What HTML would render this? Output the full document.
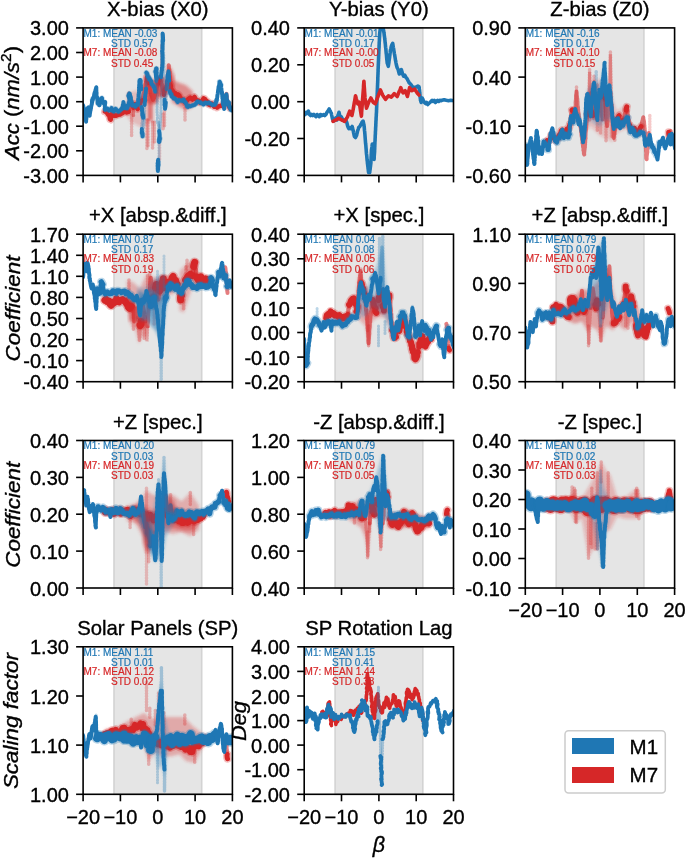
<!DOCTYPE html><html><head><meta charset="utf-8"><style>html,body{margin:0;padding:0;background:#fff;}svg{display:block;will-change:transform;}text{font-family:"Liberation Sans", sans-serif;stroke:currentColor;stroke-width:0.35px;} .an text{stroke-width:0.2px;}</style></head><body>
<svg width="685" height="858" viewBox="0 0 685 858">
<rect width="685" height="858" fill="#fff"/>
<defs><filter id="blur2" x="-20%" y="-20%" width="140%" height="140%"><feGaussianBlur stdDeviation="1.5"/></filter></defs>
<clipPath id="c00"><rect x="83.1" y="27.9" width="149.3" height="147.5"/></clipPath>
<rect x="114.0" y="27.9" width="87.7" height="147.5" fill="#e5e5e5" stroke="#d3d3d3" stroke-width="1.6"/>
<g clip-path="url(#c00)">
<path d="M143.9,76.8 L148.7,78.4 L153.1,80.6 L157.9,76.8 L157.9,102.5 L153.1,104.6 L148.7,103.5 L143.9,102.5Z" fill="#d62728" fill-opacity="0.7" stroke="none" filter="url(#blur2)"/>
<path d="M146.3,102.5 L153.3,102.5 L153.3,125.7 L149.8,120.0 L146.3,125.7Z" fill="#d62728" fill-opacity="0.4" stroke="none" filter="url(#blur2)"/>
<path d="M157.9,76.8 L164.9,76.8 L164.9,96.5 L157.9,96.5Z" fill="#d62728" fill-opacity="0.7" stroke="none" filter="url(#blur2)"/>
<path d="M167.3,65.2 L170.6,67.4 L174.3,76.2 L174.3,90.8 L167.3,90.8Z" fill="#d62728" fill-opacity="0.6" stroke="none" filter="url(#blur2)"/>
<path d="M171.9,79.0 L179.4,82.7 L185.9,84.9 L192.9,91.5 L192.9,106.8 L185.9,110.6 L179.4,106.8 L171.9,102.5Z" fill="#d62728" fill-opacity="0.45" stroke="none" filter="url(#blur2)"/>
<path d="M126.8,93.7 L133.4,91.5 L139.9,89.3 L143.9,82.7 L143.9,128.7 L139.9,126.5 L135.6,124.4 L131.2,122.2 L126.8,115.6Z" fill="#d62728" fill-opacity="0.22" stroke="none" filter="url(#blur2)"/>
<line x1="131.6" y1="115.2" x2="131.6" y2="136.2" stroke="#d62728" stroke-width="3.5" stroke-opacity="0.3" stroke-linecap="round" stroke-dasharray="0.6 2.2"/>
<line x1="146.9" y1="120.0" x2="146.9" y2="150.0" stroke="#d62728" stroke-width="3.5" stroke-opacity="0.3" stroke-linecap="round" stroke-dasharray="0.6 2.2"/>
<line x1="148.0" y1="120.0" x2="148.0" y2="146.2" stroke="#d62728" stroke-width="3.5" stroke-opacity="0.3" stroke-linecap="round" stroke-dasharray="0.6 2.2"/>
<line x1="152.6" y1="122.2" x2="152.6" y2="150.0" stroke="#d62728" stroke-width="3.5" stroke-opacity="0.3" stroke-linecap="round" stroke-dasharray="0.6 2.2"/>
<line x1="154.4" y1="122.2" x2="154.4" y2="141.9" stroke="#d62728" stroke-width="3.5" stroke-opacity="0.3" stroke-linecap="round" stroke-dasharray="0.6 2.2"/>
<line x1="163.1" y1="114.1" x2="163.1" y2="129.2" stroke="#d62728" stroke-width="3.5" stroke-opacity="0.3" stroke-linecap="round" stroke-dasharray="0.6 2.2"/>
<line x1="164.5" y1="111.2" x2="164.5" y2="126.5" stroke="#d62728" stroke-width="3.5" stroke-opacity="0.3" stroke-linecap="round" stroke-dasharray="0.6 2.2"/>
<line x1="185.0" y1="108.1" x2="185.0" y2="120.0" stroke="#d62728" stroke-width="3.5" stroke-opacity="0.3" stroke-linecap="round" stroke-dasharray="0.6 2.2"/>
<line x1="161.8" y1="45.3" x2="161.8" y2="71.1" stroke="#d62728" stroke-width="3.5" stroke-opacity="0.3" stroke-linecap="round" stroke-dasharray="0.6 2.2"/>
<line x1="133.4" y1="103.8" x2="133.4" y2="117.8" stroke="#d62728" stroke-width="3.5" stroke-opacity="0.5" stroke-linecap="round" stroke-dasharray="0.6 2.2"/>
<line x1="159.6" y1="141.9" x2="159.6" y2="159.4" stroke="#d62728" stroke-width="3.5" stroke-opacity="0.2" stroke-linecap="round" stroke-dasharray="0.6 2.2"/>
<path d="M104.8,111.5 L106.1,111.8 L107.1,113.1 L107.9,114.5 L108.9,115.4 L109.3,116.1 L110.0,119.3 L110.1,119.3 L110.7,119.7 L111.0,117.0 L111.5,114.8 L111.7,114.0 L113.4,113.6 L114.6,115.8 L115.6,115.8 L118.1,114.8 L120.3,114.5 L121.0,113.8 L122.5,113.2 L123.4,112.5 L124.6,110.7 L125.9,112.2 L126.6,112.5 L128.8,111.6" fill="none" stroke="#d62728" stroke-width="7.5" stroke-linejoin="round" stroke-linecap="round" stroke-opacity="0.3"/>
<path d="M104.8,111.5 L106.1,111.8 L107.1,113.1 L107.9,114.5 L108.9,115.4 L109.3,116.1 L110.0,119.3 L110.1,119.3 L110.7,119.7 L111.0,117.0 L111.5,114.8 L111.7,114.0 L113.4,113.6 L114.6,115.8 L115.6,115.8 L118.1,114.8 L120.3,114.5 L121.0,113.8 L122.5,113.2 L123.4,112.5 L124.6,110.7 L125.9,112.2 L126.6,112.5 L128.8,111.6" fill="none" stroke="#d62728" stroke-width="4.5" stroke-linejoin="round" stroke-linecap="round" stroke-opacity="1.0"/>
<path d="M128.8,112.1 L129.0,110.1 L129.2,108.7 L129.2,108.2 L129.2,106.6 L129.3,105.5 L129.7,104.1 L129.9,102.6 L130.0,101.6 L130.1,100.2 L130.0,99.5 L129.6,97.8 L129.3,96.6 L129.3,95.6 L129.1,93.4 L129.3,95.1 L129.4,96.2 L129.8,97.0 L130.1,99.0 L130.4,99.6 L130.8,101.6 L131.2,102.5" fill="none" stroke="#d62728" stroke-width="4.0" stroke-linejoin="round" stroke-linecap="round" stroke-opacity="0.6"/>
<path d="M130.9,102.3 L131.8,104.5 L132.5,105.5 L132.7,105.5 L133.3,107.8 L134.8,104.9 L135.3,104.0 L135.9,105.7 L136.7,106.3 L136.8,107.7 L137.7,109.0" fill="none" stroke="#d62728" stroke-width="7.5" stroke-linejoin="round" stroke-linecap="round" stroke-opacity="0.3"/>
<path d="M130.9,102.3 L131.8,104.5 L132.5,105.5 L132.7,105.5 L133.3,107.8 L134.8,104.9 L135.3,104.0 L135.9,105.7 L136.7,106.3 L136.8,107.7 L137.7,109.0" fill="none" stroke="#d62728" stroke-width="4.5" stroke-linejoin="round" stroke-linecap="round" stroke-opacity="1.0"/>
<path d="M137.7,109.1 L138.3,107.9 L138.6,106.5 L139.1,104.5 L139.6,104.1 L139.9,102.5" fill="none" stroke="#d62728" stroke-width="4.0" stroke-linejoin="round" stroke-linecap="round" stroke-opacity="0.6"/>
<path d="M140.2,103.2 L141.0,101.1 L142.1,100.3" fill="none" stroke="#d62728" stroke-width="7.5" stroke-linejoin="round" stroke-linecap="round" stroke-opacity="0.3"/>
<path d="M140.2,103.2 L141.0,101.1 L142.1,100.3" fill="none" stroke="#d62728" stroke-width="4.5" stroke-linejoin="round" stroke-linecap="round" stroke-opacity="1.0"/>
<path d="M142.0,100.4 L142.3,98.4 L142.7,97.2 L143.1,95.8 L143.3,94.6 L143.7,93.5 L143.9,92.9 L144.4,90.8 L144.4,89.8 L144.7,88.2 L145.1,88.0 L145.2,86.2 L145.3,84.5 L145.7,83.3 L146.1,81.9 L146.2,81.5 L146.6,79.3 L146.9,78.4" fill="none" stroke="#d62728" stroke-width="4.0" stroke-linejoin="round" stroke-linecap="round" stroke-opacity="0.6"/>
<path d="M147.0,77.2 L147.5,81.0 L148.4,81.8 L148.7,82.7" fill="none" stroke="#d62728" stroke-width="7.5" stroke-linejoin="round" stroke-linecap="round" stroke-opacity="0.3"/>
<path d="M147.0,77.2 L147.5,81.0 L148.4,81.8 L148.7,82.7" fill="none" stroke="#d62728" stroke-width="4.5" stroke-linejoin="round" stroke-linecap="round" stroke-opacity="1.0"/>
<path d="M148.6,82.6 L148.8,84.3 L149.2,85.5 L149.4,86.1 L149.8,88.2 L150.0,89.2 L150.3,90.3 L150.3,91.3 L150.6,91.9 L150.7,93.4 L151.2,95.2 L151.9,96.3 L152.4,98.2 L152.8,98.8 L153.0,99.9 L153.4,98.6 L154.0,98.1 L154.5,96.3 L154.9,95.4 L155.1,93.9 L155.7,92.8 L155.9,91.2 L156.0,90.4 L156.4,89.2 L156.9,87.5 L157.0,86.9 L157.4,84.8 L157.5,83.5 L157.9,82.7" fill="none" stroke="#d62728" stroke-width="4.0" stroke-linejoin="round" stroke-linecap="round" stroke-opacity="0.6"/>
<path d="M158.2,83.5 L158.2,82.1 L159.4,80.2 L159.6,78.4" fill="none" stroke="#d62728" stroke-width="7.5" stroke-linejoin="round" stroke-linecap="round" stroke-opacity="0.3"/>
<path d="M158.2,83.5 L158.2,82.1 L159.4,80.2 L159.6,78.4" fill="none" stroke="#d62728" stroke-width="4.5" stroke-linejoin="round" stroke-linecap="round" stroke-opacity="1.0"/>
<path d="M159.6,78.4 L159.9,79.1 L160.7,81.2 L161.0,82.8 L161.4,84.1 L161.9,84.6 L162.1,85.9 L162.4,87.5 L162.7,88.6 L163.0,90.4 L163.3,91.1 L163.7,92.9 L164.0,93.7" fill="none" stroke="#d62728" stroke-width="4.0" stroke-linejoin="round" stroke-linecap="round" stroke-opacity="0.6"/>
<path d="M164.0,94.7 L164.4,92.3 L164.8,89.6 L165.1,89.3" fill="none" stroke="#d62728" stroke-width="7.5" stroke-linejoin="round" stroke-linecap="round" stroke-opacity="0.3"/>
<path d="M164.0,94.7 L164.4,92.3 L164.8,89.6 L165.1,89.3" fill="none" stroke="#d62728" stroke-width="4.5" stroke-linejoin="round" stroke-linecap="round" stroke-opacity="1.0"/>
<path d="M165.1,88.9 L165.4,88.4 L165.9,86.7 L166.5,85.4 L166.8,84.1 L167.3,83.1 L167.4,81.5 L167.7,79.8 L168.1,78.8 L168.2,77.8 L168.5,76.1 L168.5,75.0 L168.5,74.0 L168.5,72.6 L168.6,71.8 L168.7,70.5 L168.9,68.6 L168.8,68.2 L168.9,66.0 L168.7,65.2 L168.8,66.2 L168.9,68.1 L169.3,69.6 L169.2,70.7 L169.6,71.4 L169.7,73.7 L169.6,75.0 L169.8,75.7 L170.1,77.5 L169.9,78.3 L170.2,79.5 L170.2,80.8 L170.5,81.7 L170.5,83.5 L170.6,84.9" fill="none" stroke="#d62728" stroke-width="4.0" stroke-linejoin="round" stroke-linecap="round" stroke-opacity="0.6"/>
<path d="M170.2,84.5 L170.9,86.1 L170.8,88.5 L171.6,89.6 L171.4,89.1 L171.6,91.5 L172.8,90.9 L173.9,93.7 L175.2,93.1 L175.8,95.2 L177.2,95.3 L178.0,94.3 L179.5,95.7 L179.9,97.8 L181.2,98.4 L181.7,99.4 L182.5,100.3 L183.7,99.9 L184.9,102.4 L185.8,101.6 L187.0,100.7 L187.8,99.5 L188.9,98.5 L190.2,97.6 L191.6,98.7 L192.5,99.5 L193.5,98.0 L194.5,96.9 L195.9,99.3 L196.6,100.2 L198.3,100.4 L199.3,102.3 L200.1,102.7 L201.2,101.4 L202.1,101.4 L202.6,100.0 L203.6,98.4 L204.5,98.8 L205.3,99.4 L206.4,101.9 L207.6,101.6 L208.6,104.4 L210.3,105.1 L210.9,103.5 L212.0,103.5 L213.0,104.5 L214.2,106.8 L216.2,106.2 L217.1,107.6 L218.6,106.5 L219.5,106.0 L220.9,105.7 L221.8,105.2 L223.1,104.6" fill="none" stroke="#d62728" stroke-width="7.5" stroke-linejoin="round" stroke-linecap="round" stroke-opacity="0.3"/>
<path d="M170.2,84.5 L170.9,86.1 L170.8,88.5 L171.6,89.6 L171.4,89.1 L171.6,91.5 L172.8,90.9 L173.9,93.7 L175.2,93.1 L175.8,95.2 L177.2,95.3 L178.0,94.3 L179.5,95.7 L179.9,97.8 L181.2,98.4 L181.7,99.4 L182.5,100.3 L183.7,99.9 L184.9,102.4 L185.8,101.6 L187.0,100.7 L187.8,99.5 L188.9,98.5 L190.2,97.6 L191.6,98.7 L192.5,99.5 L193.5,98.0 L194.5,96.9 L195.9,99.3 L196.6,100.2 L198.3,100.4 L199.3,102.3 L200.1,102.7 L201.2,101.4 L202.1,101.4 L202.6,100.0 L203.6,98.4 L204.5,98.8 L205.3,99.4 L206.4,101.9 L207.6,101.6 L208.6,104.4 L210.3,105.1 L210.9,103.5 L212.0,103.5 L213.0,104.5 L214.2,106.8 L216.2,106.2 L217.1,107.6 L218.6,106.5 L219.5,106.0 L220.9,105.7 L221.8,105.2 L223.1,104.6" fill="none" stroke="#d62728" stroke-width="4.5" stroke-linejoin="round" stroke-linecap="round" stroke-opacity="1.0"/>
<path d="M223.0,104.4 L223.4,103.3 L223.7,101.6 L224.2,100.7 L224.6,99.8 L225.1,98.7 L225.4,97.8 L225.7,95.9 L226.2,94.5 L226.5,93.9 L226.4,95.3 L226.9,96.3 L227.0,97.8 L226.9,98.7 L227.2,100.4 L227.5,101.6 L227.5,102.5" fill="none" stroke="#d62728" stroke-width="4.0" stroke-linejoin="round" stroke-linecap="round" stroke-opacity="0.6"/>
<path d="M227.6,103.4 L228.2,104.3 L228.4,104.1 L228.9,106.2 L229.7,107.9" fill="none" stroke="#d62728" stroke-width="7.5" stroke-linejoin="round" stroke-linecap="round" stroke-opacity="0.3"/>
<path d="M227.6,103.4 L228.2,104.3 L228.4,104.1 L228.9,106.2 L229.7,107.9" fill="none" stroke="#d62728" stroke-width="4.5" stroke-linejoin="round" stroke-linecap="round" stroke-opacity="1.0"/>
<line x1="159.0" y1="122.2" x2="159.0" y2="168.1" stroke="#1f77b4" stroke-width="3.0" stroke-opacity="0.3" stroke-linecap="round" stroke-dasharray="0.6 2.2"/>
<path d="M82.9,105.0 L83.3,106.0 L83.5,107.4 L83.7,107.8 L84.1,109.9 L84.3,110.9 L84.6,111.6 L84.8,113.1 L84.8,114.4 L85.2,115.6 L85.4,117.7 L85.5,118.3 L85.7,119.9 L86.0,121.0 L86.1,121.7 L86.0,120.6 L86.3,119.5 L86.4,117.9 L86.3,117.0 L86.6,116.3 L86.7,114.6 L86.8,113.6 L86.8,112.0 L87.1,110.9 L87.6,110.3 L87.6,108.2 L88.4,107.4 L88.4,107.8 L88.5,109.9 L88.7,110.7 L88.9,111.9 L89.4,112.6 L89.5,114.4 L89.7,115.8 L89.7,114.8 L90.1,112.4 L90.2,111.6 L90.6,110.1 L90.8,108.8 L91.0,108.2 L91.1,106.8 L91.6,104.8 L91.8,104.3 L92.0,102.5 L92.0,101.4 L92.2,100.3" fill="none" stroke="#1f77b4" stroke-width="4.0" stroke-linejoin="round" stroke-linecap="round" stroke-opacity="1.0"/>
<path d="M92.5,100.4 L92.8,99.0 L93.5,98.1" fill="none" stroke="#1f77b4" stroke-width="5.5" stroke-linejoin="round" stroke-linecap="round" stroke-opacity="0.3"/>
<path d="M92.5,100.4 L92.8,99.0 L93.5,98.1" fill="none" stroke="#1f77b4" stroke-width="4.0" stroke-linejoin="round" stroke-linecap="round" stroke-opacity="1.0"/>
<path d="M93.4,97.5 L93.7,97.2 L94.0,96.0 L94.3,93.9 L94.7,92.4 L95.0,92.1 L95.5,90.4 L95.8,89.1 L96.3,87.2 L96.3,87.8 L96.3,89.6 L96.4,91.1 L96.3,91.6 L96.6,92.9 L96.5,94.4 L96.5,96.2 L97.0,96.9 L97.2,98.3 L97.4,99.7 L97.5,100.7 L97.9,102.5" fill="none" stroke="#1f77b4" stroke-width="4.0" stroke-linejoin="round" stroke-linecap="round" stroke-opacity="1.0"/>
<path d="M97.7,103.3 L98.5,103.0 L99.2,104.6" fill="none" stroke="#1f77b4" stroke-width="5.5" stroke-linejoin="round" stroke-linecap="round" stroke-opacity="0.3"/>
<path d="M97.7,103.3 L98.5,103.0 L99.2,104.6" fill="none" stroke="#1f77b4" stroke-width="4.0" stroke-linejoin="round" stroke-linecap="round" stroke-opacity="1.0"/>
<path d="M99.4,105.2 L99.6,102.7 L100.0,101.2 L100.5,100.3" fill="none" stroke="#1f77b4" stroke-width="4.0" stroke-linejoin="round" stroke-linecap="round" stroke-opacity="1.0"/>
<path d="M100.4,99.4 L101.0,98.7 L101.8,98.1" fill="none" stroke="#1f77b4" stroke-width="5.5" stroke-linejoin="round" stroke-linecap="round" stroke-opacity="0.3"/>
<path d="M100.4,99.4 L101.0,98.7 L101.8,98.1" fill="none" stroke="#1f77b4" stroke-width="4.0" stroke-linejoin="round" stroke-linecap="round" stroke-opacity="1.0"/>
<path d="M101.9,98.5 L102.2,99.4 L102.4,101.0 L102.7,102.5" fill="none" stroke="#1f77b4" stroke-width="4.0" stroke-linejoin="round" stroke-linecap="round" stroke-opacity="1.0"/>
<path d="M102.6,102.1 L103.8,103.1 L104.9,102.5" fill="none" stroke="#1f77b4" stroke-width="5.5" stroke-linejoin="round" stroke-linecap="round" stroke-opacity="0.3"/>
<path d="M102.6,102.1 L103.8,103.1 L104.9,102.5" fill="none" stroke="#1f77b4" stroke-width="4.0" stroke-linejoin="round" stroke-linecap="round" stroke-opacity="1.0"/>
<path d="M105.1,102.0 L104.9,103.9 L105.0,104.7 L104.8,106.1 L104.9,107.6 L104.9,109.0" fill="none" stroke="#1f77b4" stroke-width="4.0" stroke-linejoin="round" stroke-linecap="round" stroke-opacity="1.0"/>
<path d="M105.2,109.7 L107.3,108.5 L109.0,110.5 L110.6,109.5 L111.5,108.0 L112.5,110.8 L113.9,111.5 L115.0,109.6 L115.6,108.8 L117.0,110.7 L118.3,111.7 L119.2,111.2 L120.2,110.2 L121.0,109.6 L122.4,107.9" fill="none" stroke="#1f77b4" stroke-width="5.5" stroke-linejoin="round" stroke-linecap="round" stroke-opacity="0.3"/>
<path d="M105.2,109.7 L107.3,108.5 L109.0,110.5 L110.6,109.5 L111.5,108.0 L112.5,110.8 L113.9,111.5 L115.0,109.6 L115.6,108.8 L117.0,110.7 L118.3,111.7 L119.2,111.2 L120.2,110.2 L121.0,109.6 L122.4,107.9" fill="none" stroke="#1f77b4" stroke-width="4.0" stroke-linejoin="round" stroke-linecap="round" stroke-opacity="1.0"/>
<path d="M122.3,108.4 L122.7,106.3 L122.8,104.9 L123.3,104.1 L123.4,101.9 L123.8,103.9 L124.0,104.9 L124.4,106.0 L124.6,107.9" fill="none" stroke="#1f77b4" stroke-width="4.0" stroke-linejoin="round" stroke-linecap="round" stroke-opacity="1.0"/>
<path d="M124.5,107.8 L127.1,108.2 L127.6,106.8 L127.7,105.2 L128.7,105.1 L128.9,102.6 L130.1,102.5" fill="none" stroke="#1f77b4" stroke-width="5.5" stroke-linejoin="round" stroke-linecap="round" stroke-opacity="0.3"/>
<path d="M124.5,107.8 L127.1,108.2 L127.6,106.8 L127.7,105.2 L128.7,105.1 L128.9,102.6 L130.1,102.5" fill="none" stroke="#1f77b4" stroke-width="4.0" stroke-linejoin="round" stroke-linecap="round" stroke-opacity="1.0"/>
<path d="M130.1,102.7 L129.7,100.8 L129.5,100.3 L129.1,98.0 L128.8,97.1 L128.5,95.9" fill="none" stroke="#1f77b4" stroke-width="4.0" stroke-linejoin="round" stroke-linecap="round" stroke-opacity="1.0"/>
<path d="M128.7,95.3 L129.4,93.7" fill="none" stroke="#1f77b4" stroke-width="5.5" stroke-linejoin="round" stroke-linecap="round" stroke-opacity="0.3"/>
<path d="M128.7,95.3 L129.4,93.7" fill="none" stroke="#1f77b4" stroke-width="4.0" stroke-linejoin="round" stroke-linecap="round" stroke-opacity="1.0"/>
<path d="M129.5,94.0 L129.9,94.8 L130.5,96.4 L130.9,97.7 L130.9,99.7 L131.3,101.2 L131.7,101.6 L131.9,103.2 L132.3,104.6" fill="none" stroke="#1f77b4" stroke-width="4.0" stroke-linejoin="round" stroke-linecap="round" stroke-opacity="1.0"/>
<path d="M132.4,105.5 L133.7,105.0 L135.4,106.7 L136.4,104.3 L137.7,104.6" fill="none" stroke="#1f77b4" stroke-width="5.5" stroke-linejoin="round" stroke-linecap="round" stroke-opacity="0.3"/>
<path d="M132.4,105.5 L133.7,105.0 L135.4,106.7 L136.4,104.3 L137.7,104.6" fill="none" stroke="#1f77b4" stroke-width="4.0" stroke-linejoin="round" stroke-linecap="round" stroke-opacity="1.0"/>
<path d="M137.6,104.5 L138.0,103.9 L138.1,102.8 L138.3,100.8 L138.1,100.3 L138.4,98.0 L138.5,97.2 L138.6,95.9 L138.6,94.3 L138.8,93.5 L139.1,92.0 L139.1,90.9 L139.0,90.5 L139.2,88.8 L139.0,87.6 L139.2,87.0 L139.2,85.1 L139.5,83.5 L139.4,83.2 L139.5,81.6" fill="none" stroke="#1f77b4" stroke-width="4.0" stroke-linejoin="round" stroke-linecap="round" stroke-opacity="1.0"/>
<path d="M139.7,80.7 L140.4,80.6" fill="none" stroke="#1f77b4" stroke-width="5.5" stroke-linejoin="round" stroke-linecap="round" stroke-opacity="0.3"/>
<path d="M139.7,80.7 L140.4,80.6" fill="none" stroke="#1f77b4" stroke-width="4.0" stroke-linejoin="round" stroke-linecap="round" stroke-opacity="1.0"/>
<path d="M140.2,80.0 L140.6,81.5 L140.7,83.5 L140.7,84.0 L141.0,85.7 L140.9,87.1 L141.1,87.8 L141.2,89.3" fill="none" stroke="#1f77b4" stroke-width="4.0" stroke-linejoin="round" stroke-linecap="round" stroke-opacity="1.0"/>
<path d="M141.2,89.3 L141.0,98.1 L141.7,106.8" fill="none" stroke="#1f77b4" stroke-width="3.2" stroke-opacity="0.35" stroke-linecap="round" stroke-dasharray="0.6 2.2"/>
<path d="M141.5,107.1 L142.0,108.2 L142.1,108.8 L142.0,110.6 L142.4,112.4 L142.3,112.8 L142.4,114.3 L142.6,115.6" fill="none" stroke="#1f77b4" stroke-width="4.0" stroke-linejoin="round" stroke-linecap="round" stroke-opacity="1.0"/>
<path d="M142.8,115.0 L143.2,117.6" fill="none" stroke="#1f77b4" stroke-width="5.5" stroke-linejoin="round" stroke-linecap="round" stroke-opacity="0.3"/>
<path d="M142.8,115.0 L143.2,117.6" fill="none" stroke="#1f77b4" stroke-width="4.0" stroke-linejoin="round" stroke-linecap="round" stroke-opacity="1.0"/>
<path d="M143.2,117.6 L142.1,122.2 L141.7,128.7" fill="none" stroke="#1f77b4" stroke-width="3.2" stroke-opacity="0.35" stroke-linecap="round" stroke-dasharray="0.6 2.2"/>
<path d="M141.8,129.0 L141.9,130.5 L142.0,131.4 L142.1,133.1" fill="none" stroke="#1f77b4" stroke-width="4.0" stroke-linejoin="round" stroke-linecap="round" stroke-opacity="1.0"/>
<path d="M142.0,132.8 L142.5,133.8 L142.6,136.2" fill="none" stroke="#1f77b4" stroke-width="5.5" stroke-linejoin="round" stroke-linecap="round" stroke-opacity="0.3"/>
<path d="M142.0,132.8 L142.5,133.8 L142.6,136.2" fill="none" stroke="#1f77b4" stroke-width="4.0" stroke-linejoin="round" stroke-linecap="round" stroke-opacity="1.0"/>
<path d="M142.6,136.2 L143.2,130.9 L144.3,120.0 L144.8,104.6" fill="none" stroke="#1f77b4" stroke-width="3.2" stroke-opacity="0.35" stroke-linecap="round" stroke-dasharray="0.6 2.2"/>
<path d="M144.6,104.9 L144.7,102.9 L144.7,102.3 L144.9,101.6 L145.2,100.4 L145.0,98.1 L145.0,97.3 L145.3,96.1 L145.2,94.8 L145.5,93.9 L145.7,92.8 L145.8,90.6 L146.0,89.5 L146.1,88.4" fill="none" stroke="#1f77b4" stroke-width="4.0" stroke-linejoin="round" stroke-linecap="round" stroke-opacity="1.0"/>
<path d="M146.1,88.4 L146.5,80.6 L146.3,72.9" fill="none" stroke="#1f77b4" stroke-width="3.2" stroke-opacity="0.35" stroke-linecap="round" stroke-dasharray="0.6 2.2"/>
<path d="M146.3,72.6 L147.1,73.4 L147.4,74.6 L147.9,76.9 L148.7,76.9 L149.2,79.3 L149.8,78.9 L150.5,80.9 L151.2,80.9 L151.4,83.4 L152.2,84.7 L152.3,84.6 L153.0,85.5 L154.1,87.5 L154.6,88.2 L155.0,89.9 L155.3,91.5" fill="none" stroke="#1f77b4" stroke-width="5.5" stroke-linejoin="round" stroke-linecap="round" stroke-opacity="0.3"/>
<path d="M146.3,72.6 L147.1,73.4 L147.4,74.6 L147.9,76.9 L148.7,76.9 L149.2,79.3 L149.8,78.9 L150.5,80.9 L151.2,80.9 L151.4,83.4 L152.2,84.7 L152.3,84.6 L153.0,85.5 L154.1,87.5 L154.6,88.2 L155.0,89.9 L155.3,91.5" fill="none" stroke="#1f77b4" stroke-width="4.0" stroke-linejoin="round" stroke-linecap="round" stroke-opacity="1.0"/>
<path d="M155.3,91.5 L156.4,80.6" fill="none" stroke="#1f77b4" stroke-width="3.2" stroke-opacity="0.35" stroke-linecap="round" stroke-dasharray="0.6 2.2"/>
<path d="M156.3,80.9 L156.4,78.8 L156.2,78.2 L156.0,76.6 L155.9,75.2 L155.8,74.4 L155.8,72.7 L155.7,71.8" fill="none" stroke="#1f77b4" stroke-width="4.0" stroke-linejoin="round" stroke-linecap="round" stroke-opacity="1.0"/>
<path d="M155.4,71.5 L156.1,69.6 L156.4,68.7" fill="none" stroke="#1f77b4" stroke-width="5.5" stroke-linejoin="round" stroke-linecap="round" stroke-opacity="0.3"/>
<path d="M155.4,71.5 L156.1,69.6 L156.4,68.7" fill="none" stroke="#1f77b4" stroke-width="4.0" stroke-linejoin="round" stroke-linecap="round" stroke-opacity="1.0"/>
<path d="M156.3,68.4 L156.5,70.0 L156.4,70.7 L156.6,72.4 L156.7,73.1 L156.6,75.0 L156.8,75.7 L156.9,77.7 L157.0,78.4" fill="none" stroke="#1f77b4" stroke-width="4.0" stroke-linejoin="round" stroke-linecap="round" stroke-opacity="1.0"/>
<path d="M157.0,78.4 L157.5,89.3 L157.0,111.2 L157.5,117.8 L157.0,122.2 L158.5,124.4 L159.2,130.9" fill="none" stroke="#1f77b4" stroke-width="3.2" stroke-opacity="0.35" stroke-linecap="round" stroke-dasharray="0.6 2.2"/>
<path d="M159.1,131.0 L159.3,132.3 L159.6,134.4 L159.6,134.9 L159.6,136.3 L159.3,138.4 L159.4,139.6 L159.3,141.0 L159.2,141.9" fill="none" stroke="#1f77b4" stroke-width="4.0" stroke-linejoin="round" stroke-linecap="round" stroke-opacity="1.0"/>
<path d="M159.2,141.2 L159.2,140.3 L159.9,138.6" fill="none" stroke="#1f77b4" stroke-width="5.5" stroke-linejoin="round" stroke-linecap="round" stroke-opacity="0.3"/>
<path d="M159.2,141.2 L159.2,140.3 L159.9,138.6" fill="none" stroke="#1f77b4" stroke-width="4.0" stroke-linejoin="round" stroke-linecap="round" stroke-opacity="1.0"/>
<path d="M159.9,138.6 L160.1,126.5 L161.0,111.2 L161.4,93.7 L161.0,76.8" fill="none" stroke="#1f77b4" stroke-width="3.2" stroke-opacity="0.35" stroke-linecap="round" stroke-dasharray="0.6 2.2"/>
<path d="M161.0,77.3 L161.0,75.8 L161.2,74.4 L161.3,73.0 L161.5,72.5 L161.5,70.8 L161.9,70.2 L161.9,67.7 L162.3,67.3 L162.3,64.7 L162.5,63.8 L162.5,62.9 L162.5,61.1 L162.5,59.9 L162.4,59.4 L162.6,57.3 L162.4,56.3 L162.5,55.0 L162.3,53.5 L162.4,53.0 L162.1,51.3 L162.4,49.3 L162.5,48.2 L162.4,47.5 L162.5,45.9 L162.5,45.0 L162.6,43.8 L162.6,42.3 L162.5,41.3 L162.7,39.5 L162.8,38.9 L162.7,36.9 L162.7,35.6 L162.6,34.7 L162.6,33.4 L162.8,34.2 L162.9,35.5 L163.0,37.6 L163.0,38.0 L163.1,39.7 L163.1,41.1" fill="none" stroke="#1f77b4" stroke-width="4.0" stroke-linejoin="round" stroke-linecap="round" stroke-opacity="1.0"/>
<path d="M163.1,41.1 L163.6,54.3 L164.0,71.8 L164.5,100.3" fill="none" stroke="#1f77b4" stroke-width="3.2" stroke-opacity="0.35" stroke-linecap="round" stroke-dasharray="0.6 2.2"/>
<path d="M164.6,99.8 L164.7,102.1 L164.7,103.1 L164.6,104.6 L164.8,105.8 L165.1,106.1 L165.1,108.3 L165.0,108.8 L165.3,107.3 L165.5,106.1 L165.6,104.7 L165.6,104.3 L165.8,102.5" fill="none" stroke="#1f77b4" stroke-width="4.0" stroke-linejoin="round" stroke-linecap="round" stroke-opacity="1.0"/>
<path d="M165.8,102.5 L166.6,89.3" fill="none" stroke="#1f77b4" stroke-width="3.2" stroke-opacity="0.35" stroke-linecap="round" stroke-dasharray="0.6 2.2"/>
<path d="M166.5,89.0 L166.7,87.8 L166.7,86.3 L166.8,85.9 L167.1,84.5 L167.0,83.1 L167.0,81.5 L167.3,79.9 L167.5,78.9 L167.5,77.9 L167.4,76.8 L167.8,74.7 L168.1,73.3 L168.4,72.3 L168.4,71.2 L168.5,71.7 L168.7,72.8 L168.8,74.2 L168.9,76.3 L169.0,77.1 L169.0,77.5 L169.0,78.9 L169.3,80.6" fill="none" stroke="#1f77b4" stroke-width="4.0" stroke-linejoin="round" stroke-linecap="round" stroke-opacity="1.0"/>
<path d="M169.3,80.6 L169.7,91.5" fill="none" stroke="#1f77b4" stroke-width="3.2" stroke-opacity="0.35" stroke-linecap="round" stroke-dasharray="0.6 2.2"/>
<path d="M169.8,91.4 L170.3,93.6 L170.6,93.5 L171.4,94.3 L171.6,96.3 L172.7,97.1 L173.8,98.5 L175.0,98.6 L176.5,100.1 L177.6,102.0 L179.0,100.0 L180.2,100.5 L182.2,100.7 L183.5,99.6 L184.0,101.5 L185.2,102.1 L186.0,103.4 L186.9,105.1 L187.2,106.5 L187.8,106.9 L189.1,105.8 L190.0,106.3 L191.3,105.9 L193.2,105.2 L194.5,104.9 L195.8,103.8 L197.1,101.8 L197.8,101.5 L198.8,102.1 L200.3,102.3 L201.0,103.1 L202.5,103.5 L203.6,104.5 L204.4,103.3 L205.5,102.6 L206.6,103.5 L207.9,103.1 L209.0,102.5 L210.0,103.4 L211.3,104.1 L212.1,104.9 L213.6,104.6 L214.6,104.8 L214.8,103.8 L215.6,103.9 L216.2,101.3 L216.6,100.3" fill="none" stroke="#1f77b4" stroke-width="5.5" stroke-linejoin="round" stroke-linecap="round" stroke-opacity="0.3"/>
<path d="M169.8,91.4 L170.3,93.6 L170.6,93.5 L171.4,94.3 L171.6,96.3 L172.7,97.1 L173.8,98.5 L175.0,98.6 L176.5,100.1 L177.6,102.0 L179.0,100.0 L180.2,100.5 L182.2,100.7 L183.5,99.6 L184.0,101.5 L185.2,102.1 L186.0,103.4 L186.9,105.1 L187.2,106.5 L187.8,106.9 L189.1,105.8 L190.0,106.3 L191.3,105.9 L193.2,105.2 L194.5,104.9 L195.8,103.8 L197.1,101.8 L197.8,101.5 L198.8,102.1 L200.3,102.3 L201.0,103.1 L202.5,103.5 L203.6,104.5 L204.4,103.3 L205.5,102.6 L206.6,103.5 L207.9,103.1 L209.0,102.5 L210.0,103.4 L211.3,104.1 L212.1,104.9 L213.6,104.6 L214.6,104.8 L214.8,103.8 L215.6,103.9 L216.2,101.3 L216.6,100.3" fill="none" stroke="#1f77b4" stroke-width="4.0" stroke-linejoin="round" stroke-linecap="round" stroke-opacity="1.0"/>
<path d="M216.7,100.1 L216.7,99.4 L217.1,97.9 L217.3,96.9 L217.4,95.4 L217.7,94.1 L217.9,92.6 L218.1,90.8 L218.2,89.9 L218.4,88.9 L218.6,86.6 L219.0,86.2 L219.4,83.8 L219.9,82.7" fill="none" stroke="#1f77b4" stroke-width="4.0" stroke-linejoin="round" stroke-linecap="round" stroke-opacity="1.0"/>
<path d="M219.6,81.8 L220.5,84.1 L221.0,84.9" fill="none" stroke="#1f77b4" stroke-width="5.5" stroke-linejoin="round" stroke-linecap="round" stroke-opacity="0.3"/>
<path d="M219.6,81.8 L220.5,84.1 L221.0,84.9" fill="none" stroke="#1f77b4" stroke-width="4.0" stroke-linejoin="round" stroke-linecap="round" stroke-opacity="1.0"/>
<path d="M221.0,85.2 L221.0,86.3 L221.2,87.8 L221.5,89.2 L221.4,90.4 L221.9,91.7 L221.8,92.1 L221.9,93.1 L222.3,95.3 L222.3,96.5 L222.5,97.1 L222.4,98.1 L222.8,99.4 L222.7,100.9 L222.7,101.9 L222.9,103.7 L223.1,104.4 L223.7,106.1 L224.0,107.7 L224.1,108.9 L224.3,108.1 L224.4,106.8 L224.6,105.0 L224.9,103.7 L225.0,102.5 L224.8,101.4 L225.2,101.1 L225.0,99.3 L225.3,98.4 L225.6,96.6 L226.0,95.6 L226.3,94.2 L226.5,94.6 L226.7,96.1 L226.7,97.5 L226.8,98.9 L227.1,100.1 L227.2,100.8 L227.2,102.1 L227.5,102.9 L227.5,104.6" fill="none" stroke="#1f77b4" stroke-width="4.0" stroke-linejoin="round" stroke-linecap="round" stroke-opacity="1.0"/>
<path d="M227.8,103.7 L227.9,103.1 L228.6,102.5" fill="none" stroke="#1f77b4" stroke-width="5.5" stroke-linejoin="round" stroke-linecap="round" stroke-opacity="0.3"/>
<path d="M227.8,103.7 L227.9,103.1 L228.6,102.5" fill="none" stroke="#1f77b4" stroke-width="4.0" stroke-linejoin="round" stroke-linecap="round" stroke-opacity="1.0"/>
<path d="M228.8,102.5 L228.9,104.4 L229.3,105.3 L229.7,106.8" fill="none" stroke="#1f77b4" stroke-width="4.0" stroke-linejoin="round" stroke-linecap="round" stroke-opacity="1.0"/>
<path d="M229.7,107.3 L230.4,108.8 L230.7,109.8 L231.7,110.3 L233.0,109.0" fill="none" stroke="#1f77b4" stroke-width="5.5" stroke-linejoin="round" stroke-linecap="round" stroke-opacity="0.3"/>
<path d="M229.7,107.3 L230.4,108.8 L230.7,109.8 L231.7,110.3 L233.0,109.0" fill="none" stroke="#1f77b4" stroke-width="4.0" stroke-linejoin="round" stroke-linecap="round" stroke-opacity="1.0"/>
<path d="M158.2,159.7 L157.9,160.7 L158.0,162.2 L157.6,163.4 L157.8,164.5 L157.6,165.9 L157.8,167.9 L157.7,168.4 L157.8,169.9 L157.9,171.0 L157.9,169.8 L158.2,169.2 L158.0,168.3 L158.1,166.4 L158.5,165.6 L158.5,164.0 L158.4,163.0 L158.5,161.6" fill="none" stroke="#1f77b4" stroke-width="4.0" stroke-linejoin="round" stroke-linecap="round" stroke-opacity="1.0"/>
<path d="M157.0,80.6 L160.1,79.5 L160.1,98.1 L157.0,98.1Z" fill="#d62728" fill-opacity="0.5" stroke="none" filter="url(#blur2)"/>
<path d="M148.7,93.7 L151.8,93.7 L151.8,120.0 L148.7,120.0Z" fill="#d62728" fill-opacity="0.4" stroke="none" filter="url(#blur2)"/>
<path d="M164.0,82.7 L166.6,80.6 L166.6,93.7 L164.0,93.7Z" fill="#d62728" fill-opacity="0.4" stroke="none" filter="url(#blur2)"/>
</g>
<g class="an" font-size="10" fill="#1f77b4" color="#1f77b4"><text x="83.5" y="36.6">M1: MEAN -0.03</text><text x="111.0" y="47.1">STD 0.57</text></g>
<g class="an" font-size="10" fill="#d62728" color="#d62728"><text x="83.5" y="56.0">M7: MEAN -0.08</text><text x="111.0" y="66.5">STD 0.45</text></g>
<rect x="83.1" y="27.9" width="149.3" height="147.5" fill="none" stroke="#000" stroke-width="1.6"/>
<line x1="76.1" y1="27.9" x2="83.1" y2="27.9" stroke="#000" stroke-width="1.6"/>
<text x="68.9" y="35.4" font-size="20" text-anchor="end">3.00</text>
<line x1="76.1" y1="52.5" x2="83.1" y2="52.5" stroke="#000" stroke-width="1.6"/>
<text x="68.9" y="60.0" font-size="20" text-anchor="end">2.00</text>
<line x1="76.1" y1="77.1" x2="83.1" y2="77.1" stroke="#000" stroke-width="1.6"/>
<text x="68.9" y="84.6" font-size="20" text-anchor="end">1.00</text>
<line x1="76.1" y1="101.7" x2="83.1" y2="101.7" stroke="#000" stroke-width="1.6"/>
<text x="68.9" y="109.2" font-size="20" text-anchor="end">0.00</text>
<line x1="76.1" y1="126.2" x2="83.1" y2="126.2" stroke="#000" stroke-width="1.6"/>
<text x="68.9" y="133.7" font-size="20" text-anchor="end">-1.00</text>
<line x1="76.1" y1="150.8" x2="83.1" y2="150.8" stroke="#000" stroke-width="1.6"/>
<text x="68.9" y="158.3" font-size="20" text-anchor="end">-2.00</text>
<line x1="76.1" y1="175.4" x2="83.1" y2="175.4" stroke="#000" stroke-width="1.6"/>
<text x="68.9" y="182.9" font-size="20" text-anchor="end">-3.00</text>
<line x1="83.1" y1="175.4" x2="83.1" y2="182.4" stroke="#000" stroke-width="1.6"/>
<line x1="120.4" y1="175.4" x2="120.4" y2="182.4" stroke="#000" stroke-width="1.6"/>
<line x1="157.8" y1="175.4" x2="157.8" y2="182.4" stroke="#000" stroke-width="1.6"/>
<line x1="195.1" y1="175.4" x2="195.1" y2="182.4" stroke="#000" stroke-width="1.6"/>
<line x1="232.4" y1="175.4" x2="232.4" y2="182.4" stroke="#000" stroke-width="1.6"/>
<text x="157.8" y="16.0" font-size="20.3" text-anchor="middle">X-bias (X0)</text>
<clipPath id="c01"><rect x="304.2" y="27.9" width="149.3" height="147.5"/></clipPath>
<rect x="335.1" y="27.9" width="87.7" height="147.5" fill="#e5e5e5" stroke="#d3d3d3" stroke-width="1.6"/>
<g clip-path="url(#c01)">
<path d="M304.0,113.4 L305.1,114.5 L305.6,113.4 L306.2,112.3 L307.3,113.4 L307.8,112.3 L308.4,111.2 L308.9,112.9 L309.5,114.5 L310.6,115.6 L311.7,114.5 L312.8,115.6 L313.9,114.5 L314.9,115.6 L316.0,116.7 L316.6,115.6 L317.1,114.5 L318.2,115.6 L319.3,116.7 L319.9,115.6 L320.4,114.5 L321.5,115.6 L322.6,115.2 L323.7,114.5 L324.8,115.6 L325.9,114.5 L326.4,113.4 L327.0,112.3 L328.1,110.8 L329.2,109.0 L329.7,110.1 L330.3,111.2 L330.8,112.3 L331.4,113.4 L331.6,114.8 L331.9,116.1 L332.2,117.5 L332.5,118.9 L333.0,120.0 L333.6,121.1 L334.7,120.0 L335.2,118.9 L335.8,117.8 L336.3,118.9 L336.8,120.0 L337.2,118.5 L337.6,117.1 L337.9,115.6 L338.5,113.9 L339.0,112.3 L339.3,113.7 L339.6,115.0 L339.9,116.4 L340.1,117.8 L341.2,116.7 L341.8,117.8 L342.3,118.9 L343.4,120.0 L344.5,121.1 L345.6,120.0 L346.2,121.1 L346.7,122.2 L347.1,123.6 L347.4,125.1 L347.8,126.5 L348.3,127.6 L348.9,128.7 L350.0,127.6 L351.1,128.7 L351.6,127.6 L352.2,126.5 L352.5,128.0 L352.9,129.5 L353.3,130.9 L353.5,132.3 L353.8,133.7 L354.1,135.0 L354.4,136.4 L355.5,137.5 L356.0,136.4 L356.6,135.3 L356.9,133.8 L357.3,132.4 L357.6,130.9 L358.2,129.3 L358.7,127.6 L359.8,126.5 L360.4,125.4 L360.9,124.4 L361.5,123.3 L362.0,122.2 L363.1,121.1 L363.4,122.4 L363.7,123.8 L363.9,125.2 L364.2,126.5 L364.3,127.9 L364.4,129.2 L364.5,130.5 L364.7,131.8 L364.8,133.1 L364.9,134.4 L365.0,135.7 L365.1,137.1 L365.2,138.4 L365.3,139.7 L365.4,141.0 L365.5,142.3 L365.6,143.6 L365.8,144.9 L365.9,146.2 L366.0,147.6 L366.1,148.9 L366.2,150.2 L366.3,151.5 L366.4,152.8 L366.5,154.0 L366.7,155.3 L366.8,156.5 L366.9,157.7 L367.0,158.9 L367.1,160.1 L367.3,161.3 L367.4,162.5 L367.5,163.8 L367.7,165.0 L367.8,166.3 L368.0,167.5 L368.1,168.8 L368.3,170.0 L368.4,171.3 L368.6,172.5 L369.7,172.5 L369.8,171.3 L370.0,170.0 L370.2,168.8 L370.3,167.5 L370.5,166.3 L370.6,165.0 L370.8,163.8 L370.9,162.5 L370.9,161.1 L371.0,159.8 L371.1,158.5 L371.1,157.2 L371.2,155.9 L371.2,154.6 L371.3,153.3 L371.4,151.9 L371.4,150.6 L371.6,149.3 L371.8,148.0 L372.0,146.7 L372.1,145.4 L372.3,144.1 L372.5,145.4 L372.8,146.7 L373.0,148.0 L373.2,149.3 L373.4,150.6 L373.5,151.9 L373.6,153.1 L373.7,154.4 L373.8,155.6 L373.9,156.9 L374.0,158.1 L374.1,159.4 L374.2,158.1 L374.2,156.8 L374.3,155.4 L374.4,154.1 L374.5,152.8 L374.6,151.5 L374.6,150.3 L374.7,149.0 L374.7,147.7 L374.8,146.4 L374.8,145.2 L374.9,143.9 L374.9,142.6 L375.0,141.3 L375.1,140.0 L375.1,138.8 L375.2,137.5 L375.2,136.2 L375.3,134.9 L375.4,133.5 L375.4,132.2 L375.5,130.9 L375.6,129.6 L375.6,128.3 L375.7,127.0 L375.8,125.7 L375.8,124.4 L375.9,123.1 L375.9,121.8 L376.0,120.6 L376.1,119.3 L376.1,118.1 L376.2,116.8 L376.3,115.6 L376.3,114.3 L376.4,113.1 L376.5,111.8 L376.5,110.6 L376.6,109.3 L376.6,108.1 L376.7,106.8 L376.7,105.6 L376.8,104.4 L376.8,103.2 L376.9,102.0 L376.9,100.7 L377.0,99.5 L377.0,98.3 L377.1,97.1 L377.1,95.9 L377.2,94.7 L377.2,93.5 L377.3,92.2 L377.3,91.0 L377.4,89.8 L377.4,88.6 L377.5,87.4 L377.5,86.2 L377.6,84.9 L377.6,83.7 L377.7,82.5 L377.7,81.3 L377.8,80.1 L377.8,78.9 L377.8,77.7 L377.9,76.5 L377.9,75.3 L378.0,74.1 L378.0,72.9 L378.1,71.7 L378.1,70.5 L378.1,69.3 L378.2,68.1 L378.2,66.9 L378.3,65.7 L378.3,64.5 L378.4,63.3 L378.4,62.1 L378.5,60.8 L378.5,59.6 L378.6,58.3 L378.6,57.0 L378.7,55.7 L378.7,54.5 L378.8,53.2 L378.8,51.9 L378.9,50.6 L378.9,49.4 L379.0,48.1 L379.1,46.8 L379.1,45.5 L379.2,44.2 L379.2,42.9 L379.3,41.6 L379.4,40.3 L379.4,38.9 L379.5,37.6 L379.6,36.3 L379.6,35.0 L379.7,33.7 L379.8,32.4 L380.0,31.0 L380.2,29.6 L380.4,28.3 L380.6,26.9 L381.7,26.9 L382.8,26.9 L383.1,28.3 L383.4,29.6 L383.7,31.0 L383.9,32.4 L384.1,33.6 L384.2,34.9 L384.4,36.1 L384.6,37.4 L384.7,38.6 L384.9,39.9 L385.0,41.1 L385.1,42.4 L385.3,43.6 L385.4,44.8 L385.5,46.0 L385.6,47.2 L385.8,48.4 L385.9,49.7 L386.0,50.9 L386.1,52.1 L386.2,53.3 L386.4,54.5 L386.5,55.7 L386.6,57.0 L386.7,58.2 L386.8,59.4 L387.0,60.6 L387.1,61.8 L387.2,63.0 L387.8,64.7 L388.3,66.3 L388.5,65.0 L388.7,63.8 L388.9,62.5 L389.0,61.2 L389.2,59.9 L389.4,58.7 L389.6,57.4 L389.7,56.2 L389.9,54.9 L390.0,53.7 L390.2,52.4 L390.3,51.1 L390.5,49.9 L390.9,48.4 L391.2,47.0 L391.6,45.5 L392.1,44.4 L392.7,43.3 L392.9,44.6 L393.1,46.0 L393.3,47.3 L393.6,48.6 L393.8,49.9 L394.0,51.2 L394.2,52.5 L394.4,53.8 L394.7,55.2 L394.9,56.5 L395.1,57.8 L395.3,59.1 L395.5,60.4 L395.8,61.7 L396.0,63.0 L396.3,64.5 L396.7,66.0 L397.1,67.4 L397.6,68.5 L398.2,69.6 L398.5,71.1 L398.9,72.5 L399.3,74.0 L399.8,72.9 L400.4,71.8 L400.9,70.7 L401.4,69.6 L401.8,71.1 L402.2,72.5 L402.5,74.0 L403.1,75.1 L403.6,76.2 L404.7,75.1 L405.3,76.2 L405.8,77.3 L406.9,78.4 L407.5,79.5 L408.0,80.6 L408.6,81.6 L409.1,82.7 L410.2,83.8 L411.3,84.9 L411.8,86.0 L412.4,87.1 L413.5,87.1 L414.6,87.6 L415.7,87.1 L416.8,86.7 L417.9,86.0 L419.0,86.7 L419.1,87.9 L419.3,89.1 L419.5,90.3 L419.6,91.5 L419.7,92.8 L419.9,94.0 L420.0,95.3 L420.1,96.5 L420.2,97.8 L420.4,99.0 L420.5,100.3 L421.2,102.5 L421.5,101.0 L421.9,99.5 L422.2,98.1 L422.8,99.2 L423.3,100.3 L423.9,101.4 L424.4,102.5 L425.5,103.5 L426.6,102.5 L427.2,103.5 L427.7,104.6 L428.8,103.5 L429.9,102.5 L431.0,101.4 L432.1,100.3 L433.2,101.4 L434.3,100.3 L434.8,101.4 L435.4,102.5 L436.5,101.4 L437.6,100.3 L438.7,101.4 L439.8,100.3 L440.9,100.7 L442.0,100.3 L444.1,99.8 L446.3,100.3 L448.5,100.7 L450.7,100.3 L452.4,100.5 L454.0,100.7" fill="none" stroke="#1f77b4" stroke-width="3.6" stroke-linejoin="round" stroke-linecap="round" stroke-opacity="1.0"/>
<path d="M332.9,121.3 L334.3,120.6 L335.8,120.0 L337.3,119.2 L338.8,118.4 L340.2,119.2 L341.7,120.0 L343.1,120.6 L344.6,121.3 L345.3,120.2 L346.1,119.1 L346.8,118.0 L347.5,116.9 L347.9,115.7 L348.4,114.6 L348.8,113.4 L349.3,112.3 L349.7,111.1 L350.3,112.2 L350.8,113.3 L351.4,114.4 L351.9,115.5 L352.2,114.3 L352.4,113.1 L352.7,111.8 L352.9,110.6 L353.2,109.4 L353.4,108.1 L353.6,106.9 L353.8,105.7 L354.0,104.4 L354.2,103.2 L354.5,102.0 L354.7,100.7 L354.9,99.5 L355.1,98.3 L355.3,97.0 L355.5,95.8 L355.9,97.1 L356.2,98.5 L356.6,99.8 L357.0,101.1 L357.3,102.4 L357.7,103.8 L359.2,102.2 L359.4,103.5 L359.6,104.8 L359.8,106.1 L360.0,107.3 L360.2,108.6 L360.4,109.9 L360.6,111.2 L360.8,112.4 L361.0,113.7 L361.2,115.0 L361.4,116.2 L361.5,115.0 L361.6,113.8 L361.6,112.6 L361.7,111.3 L361.8,110.1 L361.9,108.9 L362.0,107.6 L362.1,106.4 L362.2,105.2 L362.3,103.9 L362.4,102.7 L362.5,101.5 L362.5,100.2 L362.6,99.0 L362.7,97.8 L362.8,96.5 L362.9,95.3 L363.0,94.0 L363.1,92.7 L363.2,91.4 L363.3,90.2 L363.4,88.9 L363.5,87.6 L363.5,86.3 L363.6,85.0 L363.7,83.8 L363.8,82.5 L363.9,81.2 L364.0,82.4 L364.1,83.6 L364.1,84.8 L364.2,86.0 L364.3,87.2 L364.4,88.4 L364.5,89.6 L364.5,90.8 L364.6,92.0 L364.7,93.2 L364.8,94.4 L364.9,95.6 L364.9,96.8 L365.0,98.0 L365.2,99.3 L365.4,100.5 L365.6,101.8 L365.8,103.1 L365.9,104.3 L366.1,105.6 L366.3,106.9 L366.5,108.1 L366.9,107.0 L367.4,105.8 L367.8,104.6 L368.3,103.4 L368.7,102.2 L369.4,100.8 L370.2,99.4 L370.9,98.0 L371.6,99.4 L372.4,100.8 L373.1,102.2 L374.2,103.0 L375.3,103.8 L375.7,102.6 L376.2,101.5 L376.6,100.3 L377.0,99.2 L377.4,98.0 L377.9,96.8 L378.3,95.7 L378.7,94.5 L379.1,93.4 L379.6,92.2 L380.0,91.1 L380.4,89.9 L381.0,91.2 L381.5,92.5 L382.1,93.7 L382.6,95.0 L383.3,96.1 L384.1,97.2 L384.8,98.3 L385.5,99.4 L386.5,98.2 L387.4,97.0 L388.4,95.8 L389.9,96.5 L391.3,97.2 L392.3,96.0 L393.2,94.8 L394.2,93.6 L395.2,94.6 L396.2,95.5 L397.2,96.5 L397.7,95.2 L398.2,94.0 L398.7,92.7 L399.2,91.5 L399.8,90.2 L400.3,89.0 L400.8,87.7 L401.3,89.0 L401.9,90.3 L402.4,91.5 L403.0,92.8 L404.1,91.8 L405.2,90.7 L405.6,91.9 L406.1,93.0 L406.5,94.2 L407.0,95.3 L407.4,96.5 L407.7,95.2 L408.0,94.0 L408.3,92.7 L408.7,91.5 L409.0,90.2 L409.3,89.0 L409.6,87.7 L410.3,88.7 L411.1,89.7 L411.8,90.7 L413.3,89.9 L414.7,89.2 L415.4,90.3 L416.2,91.4 L416.9,92.5 L417.6,93.6 L419.0,95.0" fill="none" stroke="#d62728" stroke-width="3.6" stroke-linejoin="round" stroke-linecap="round" stroke-opacity="1.0"/>
</g>
<g class="an" font-size="10" fill="#1f77b4" color="#1f77b4"><text x="304.6" y="36.6">M1: MEAN -0.01</text><text x="332.1" y="47.1">STD 0.17</text></g>
<g class="an" font-size="10" fill="#d62728" color="#d62728"><text x="304.6" y="56.0">M7: MEAN -0.00</text><text x="332.1" y="66.5">STD 0.05</text></g>
<rect x="304.2" y="27.9" width="149.3" height="147.5" fill="none" stroke="#000" stroke-width="1.6"/>
<line x1="297.2" y1="27.9" x2="304.2" y2="27.9" stroke="#000" stroke-width="1.6"/>
<text x="290.0" y="35.4" font-size="20" text-anchor="end">0.40</text>
<line x1="297.2" y1="64.8" x2="304.2" y2="64.8" stroke="#000" stroke-width="1.6"/>
<text x="290.0" y="72.3" font-size="20" text-anchor="end">0.20</text>
<line x1="297.2" y1="101.7" x2="304.2" y2="101.7" stroke="#000" stroke-width="1.6"/>
<text x="290.0" y="109.2" font-size="20" text-anchor="end">0.00</text>
<line x1="297.2" y1="138.5" x2="304.2" y2="138.5" stroke="#000" stroke-width="1.6"/>
<text x="290.0" y="146.0" font-size="20" text-anchor="end">-0.20</text>
<line x1="297.2" y1="175.4" x2="304.2" y2="175.4" stroke="#000" stroke-width="1.6"/>
<text x="290.0" y="182.9" font-size="20" text-anchor="end">-0.40</text>
<line x1="304.2" y1="175.4" x2="304.2" y2="182.4" stroke="#000" stroke-width="1.6"/>
<line x1="341.5" y1="175.4" x2="341.5" y2="182.4" stroke="#000" stroke-width="1.6"/>
<line x1="378.9" y1="175.4" x2="378.9" y2="182.4" stroke="#000" stroke-width="1.6"/>
<line x1="416.2" y1="175.4" x2="416.2" y2="182.4" stroke="#000" stroke-width="1.6"/>
<line x1="453.5" y1="175.4" x2="453.5" y2="182.4" stroke="#000" stroke-width="1.6"/>
<text x="378.9" y="16.0" font-size="20.3" text-anchor="middle">Y-bias (Y0)</text>
<clipPath id="c02"><rect x="525.3" y="27.9" width="149.3" height="147.5"/></clipPath>
<rect x="556.2" y="27.9" width="87.7" height="147.5" fill="#e5e5e5" stroke="#d3d3d3" stroke-width="1.6"/>
<g clip-path="url(#c02)">
<path d="M586.3,93.7 L590.7,84.9 L595.1,80.6 L599.5,78.4 L603.8,89.3 L608.2,84.9 L612.6,100.3 L617.0,111.2 L625.7,104.6 L630.1,120.0 L630.1,130.9 L625.7,128.7 L617.0,133.1 L612.6,141.9 L608.2,139.7 L603.8,137.5 L599.5,135.3 L595.1,130.9 L590.7,126.5 L586.3,130.9Z" fill="#d62728" fill-opacity="0.2" stroke="none" filter="url(#blur2)"/>
<line x1="576.5" y1="87.1" x2="576.5" y2="122.2" stroke="#d62728" stroke-width="3.5" stroke-opacity="0.3" stroke-linecap="round" stroke-dasharray="0.6 2.2"/>
<line x1="589.6" y1="69.6" x2="589.6" y2="120.0" stroke="#d62728" stroke-width="3.5" stroke-opacity="0.3" stroke-linecap="round" stroke-dasharray="0.6 2.2"/>
<line x1="594.0" y1="76.2" x2="594.0" y2="120.0" stroke="#d62728" stroke-width="3.5" stroke-opacity="0.3" stroke-linecap="round" stroke-dasharray="0.6 2.2"/>
<line x1="597.3" y1="84.9" x2="597.3" y2="130.9" stroke="#d62728" stroke-width="3.5" stroke-opacity="0.3" stroke-linecap="round" stroke-dasharray="0.6 2.2"/>
<line x1="600.5" y1="93.7" x2="600.5" y2="133.1" stroke="#d62728" stroke-width="3.5" stroke-opacity="0.25" stroke-linecap="round" stroke-dasharray="0.6 2.2"/>
<line x1="606.0" y1="98.1" x2="606.0" y2="141.9" stroke="#d62728" stroke-width="3.5" stroke-opacity="0.3" stroke-linecap="round" stroke-dasharray="0.6 2.2"/>
<line x1="610.4" y1="52.1" x2="610.4" y2="84.9" stroke="#d62728" stroke-width="3.5" stroke-opacity="0.3" stroke-linecap="round" stroke-dasharray="0.6 2.2"/>
<line x1="611.5" y1="93.7" x2="611.5" y2="137.5" stroke="#d62728" stroke-width="3.5" stroke-opacity="0.25" stroke-linecap="round" stroke-dasharray="0.6 2.2"/>
<line x1="614.8" y1="120.0" x2="614.8" y2="141.9" stroke="#d62728" stroke-width="3.5" stroke-opacity="0.3" stroke-linecap="round" stroke-dasharray="0.6 2.2"/>
<line x1="649.8" y1="115.6" x2="649.8" y2="137.5" stroke="#d62728" stroke-width="3.5" stroke-opacity="0.25" stroke-linecap="round" stroke-dasharray="0.6 2.2"/>
<path d="M547.1,140.7 L547.7,141.1 L548.9,140.9 L549.9,139.7 L550.1,138.5 L550.8,137.4 L551.1,135.4 L552.3,136.1 L553.4,137.2 L554.2,137.5 L555.5,140.3 L556.9,139.3 L558.0,138.4 L558.6,136.1 L560.1,134.0 L560.9,134.9 L561.0,131.7 L561.3,130.6 L562.0,130.2 L563.0,132.0 L564.7,133.7 L565.6,133.3 L566.6,129.5 L567.3,128.7 L568.7,129.2 L569.5,126.2 L569.5,126.2 L569.9,124.4" fill="none" stroke="#d62728" stroke-width="8.0" stroke-linejoin="round" stroke-linecap="round" stroke-opacity="0.3"/>
<path d="M547.1,140.7 L547.7,141.1 L548.9,140.9 L549.9,139.7 L550.1,138.5 L550.8,137.4 L551.1,135.4 L552.3,136.1 L553.4,137.2 L554.2,137.5 L555.5,140.3 L556.9,139.3 L558.0,138.4 L558.6,136.1 L560.1,134.0 L560.9,134.9 L561.0,131.7 L561.3,130.6 L562.0,130.2 L563.0,132.0 L564.7,133.7 L565.6,133.3 L566.6,129.5 L567.3,128.7 L568.7,129.2 L569.5,126.2 L569.5,126.2 L569.9,124.4" fill="none" stroke="#d62728" stroke-width="5.0" stroke-linejoin="round" stroke-linecap="round" stroke-opacity="1.0"/>
<path d="M569.9,124.1 L569.9,123.5 L570.3,121.5 L570.3,120.6 L570.5,119.5 L570.5,117.9 L570.9,116.9 L570.8,115.9 L571.3,113.8 L571.5,113.0 L571.5,112.1 L572.0,110.9 L572.1,109.0" fill="none" stroke="#d62728" stroke-width="4.0" stroke-linejoin="round" stroke-linecap="round" stroke-opacity="0.6"/>
<path d="M572.0,110.3 L572.7,110.0 L572.8,110.1 L573.5,111.3 L574.2,114.4 L574.3,115.6" fill="none" stroke="#d62728" stroke-width="8.0" stroke-linejoin="round" stroke-linecap="round" stroke-opacity="0.3"/>
<path d="M572.0,110.3 L572.7,110.0 L572.8,110.1 L573.5,111.3 L574.2,114.4 L574.3,115.6" fill="none" stroke="#d62728" stroke-width="5.0" stroke-linejoin="round" stroke-linecap="round" stroke-opacity="1.0"/>
<path d="M574.2,115.7 L574.5,114.1 L574.6,113.5 L575.1,112.0 L575.3,109.8 L575.4,109.6 L575.5,108.1 L575.6,107.1 L575.6,105.4 L575.7,104.3 L575.6,102.6 L575.7,101.9 L575.8,100.6 L576.1,98.5 L576.0,98.0 L576.0,96.7 L576.1,94.8 L576.4,93.7 L576.5,92.9 L576.5,91.6 L576.6,92.2 L576.7,93.9 L576.8,96.0 L577.0,96.7 L577.1,98.1 L577.3,99.0 L577.3,100.3 L577.5,102.2 L577.5,103.9 L577.5,104.5 L577.6,105.7 L578.0,107.4 L577.8,108.1 L578.2,109.5 L578.1,110.3 L578.2,111.7 L578.6,113.4 L578.7,114.8 L578.6,115.8 L578.9,116.5 L579.2,117.9 L579.1,119.0 L579.4,121.3 L579.7,122.3 L579.8,123.7 L580.0,125.3 L580.3,126.7 L580.5,127.1 L580.8,128.3 L581.0,130.6 L581.1,130.8 L581.2,132.5 L581.6,133.3 L581.5,134.9 L581.6,135.8 L582.0,137.8 L582.1,139.1 L582.3,139.7 L582.5,141.8 L582.4,143.0 L582.6,143.3 L582.9,144.5 L583.0,146.8 L583.3,147.3 L583.5,148.3 L583.4,150.5 L583.8,150.7 L583.9,152.9 L583.9,153.7 L584.3,154.5 L584.1,154.0 L584.2,152.4 L584.4,150.5 L584.6,149.4 L584.5,147.9 L584.9,147.6 L584.9,145.2 L585.1,144.4 L585.0,143.0 L585.2,142.4 L585.2,140.9 L585.4,138.9 L585.6,138.2 L585.4,137.1 L585.5,135.8 L585.6,133.8 L585.6,133.1 L585.8,131.6 L585.8,130.3 L586.1,129.6 L586.2,128.0 L586.2,126.4 L586.2,126.0 L586.4,124.2 L586.3,123.0 L586.6,122.4 L586.8,120.0 L586.9,119.7 L586.9,118.4 L587.4,117.2 L587.4,115.6" fill="none" stroke="#d62728" stroke-width="4.0" stroke-linejoin="round" stroke-linecap="round" stroke-opacity="0.6"/>
<path d="M587.3,114.3 L587.5,114.4 L588.3,113.1 L588.5,111.2" fill="none" stroke="#d62728" stroke-width="8.0" stroke-linejoin="round" stroke-linecap="round" stroke-opacity="0.3"/>
<path d="M587.3,114.3 L587.5,114.4 L588.3,113.1 L588.5,111.2" fill="none" stroke="#d62728" stroke-width="5.0" stroke-linejoin="round" stroke-linecap="round" stroke-opacity="1.0"/>
<path d="M588.5,111.2 L589.6,71.8 L590.7,93.7" fill="none" stroke="#d62728" stroke-width="3.5" stroke-opacity="0.35" stroke-linecap="round" stroke-dasharray="0.6 2.2"/>
<path d="M590.6,93.4 L590.9,94.4 L590.8,96.8 L590.8,98.0 L590.9,98.3 L591.0,100.5 L591.2,101.1 L591.3,102.8 L591.2,103.3 L591.4,105.5 L591.4,106.6 L591.6,107.5 L591.6,109.1 L591.9,110.4 L591.8,111.2" fill="none" stroke="#d62728" stroke-width="4.0" stroke-linejoin="round" stroke-linecap="round" stroke-opacity="0.6"/>
<path d="M591.9,112.2 L592.2,112.5 L592.7,113.4 L592.9,115.6" fill="none" stroke="#d62728" stroke-width="8.0" stroke-linejoin="round" stroke-linecap="round" stroke-opacity="0.3"/>
<path d="M591.9,112.2 L592.2,112.5 L592.7,113.4 L592.9,115.6" fill="none" stroke="#d62728" stroke-width="5.0" stroke-linejoin="round" stroke-linecap="round" stroke-opacity="1.0"/>
<path d="M592.9,115.6 L594.0,80.6 L595.1,93.7" fill="none" stroke="#d62728" stroke-width="3.5" stroke-opacity="0.35" stroke-linecap="round" stroke-dasharray="0.6 2.2"/>
<path d="M595.1,93.7 L595.2,94.6 L595.2,96.3 L595.3,96.9 L595.3,98.6 L595.5,100.0 L595.5,101.7 L595.7,102.3 L595.7,103.9 L595.7,104.7 L596.0,106.1 L595.8,107.0 L595.9,108.8 L596.1,109.9 L596.2,111.2 L596.3,113.0 L596.4,113.5 L596.7,115.1 L596.8,116.4 L596.8,117.8 L597.1,118.9 L597.4,120.0 L597.3,119.2 L597.3,117.9 L597.6,116.7 L597.7,115.5 L597.6,113.8 L597.8,112.1 L597.6,110.7 L597.8,109.5 L597.9,108.9 L597.9,107.1 L598.0,106.7 L598.1,104.8 L598.4,103.9 L598.3,102.4 L598.6,101.3 L598.7,99.9 L598.8,98.8 L599.0,97.2 L599.0,96.2 L599.1,94.7 L599.6,93.2 L599.5,94.8 L599.8,96.1 L600.2,98.0 L600.5,98.7 L600.5,99.8 L600.7,101.8 L600.9,103.0 L601.1,103.9 L601.1,105.0 L601.0,105.9 L601.3,107.9 L601.6,108.9 L601.5,109.9 L601.7,111.2 L602.0,111.9 L602.1,113.7 L602.1,114.9 L602.2,116.6 L602.5,117.5 L602.7,118.5 L602.7,119.4 L602.7,118.7 L602.8,117.5 L603.0,116.6 L603.1,114.5 L602.8,113.9 L602.9,112.4 L603.2,111.8 L603.1,109.9 L603.2,108.5 L603.3,106.9 L603.2,106.2 L603.5,105.2 L603.3,103.4 L603.6,102.8 L603.4,100.9 L603.6,100.2 L603.5,98.4 L603.7,97.6 L603.9,96.2 L603.9,94.8 L603.8,93.7" fill="none" stroke="#d62728" stroke-width="4.0" stroke-linejoin="round" stroke-linecap="round" stroke-opacity="0.6"/>
<path d="M604.0,93.7 L603.9,96.5 L604.6,95.8 L604.9,98.1" fill="none" stroke="#d62728" stroke-width="8.0" stroke-linejoin="round" stroke-linecap="round" stroke-opacity="0.3"/>
<path d="M604.0,93.7 L603.9,96.5 L604.6,95.8 L604.9,98.1" fill="none" stroke="#d62728" stroke-width="5.0" stroke-linejoin="round" stroke-linecap="round" stroke-opacity="1.0"/>
<path d="M604.9,98.0 L604.9,99.5 L605.2,100.2 L605.2,101.3 L605.2,103.5 L605.3,104.8 L605.4,106.0 L605.4,106.6 L605.5,108.0 L605.7,109.1 L605.8,110.8 L605.8,111.5 L605.9,112.8 L605.9,114.7 L606.0,116.0 L606.3,117.2 L606.3,118.5 L606.5,119.8 L606.4,120.9 L606.7,122.2 L606.8,122.5 L607.0,124.4 L607.1,124.7 L607.2,126.1 L607.2,125.3 L607.3,123.9 L607.4,122.6 L607.7,120.9 L607.5,119.9 L607.6,118.9 L607.7,117.5 L607.9,115.7 L608.0,114.4 L608.3,113.3 L608.4,112.2 L608.2,110.9 L608.5,109.4 L608.6,108.5 L608.5,107.7 L608.8,106.1 L608.7,105.4 L608.7,103.4 L609.0,102.6 L608.8,101.2 L609.0,99.6 L609.0,98.3 L609.2,97.3 L609.2,96.6 L609.2,95.3 L609.3,93.7" fill="none" stroke="#d62728" stroke-width="4.0" stroke-linejoin="round" stroke-linecap="round" stroke-opacity="0.6"/>
<path d="M609.3,93.7 L610.4,54.3 L611.1,82.7 L611.5,104.6" fill="none" stroke="#d62728" stroke-width="3.5" stroke-opacity="0.35" stroke-linecap="round" stroke-dasharray="0.6 2.2"/>
<path d="M611.6,104.7 L611.8,106.2 L611.7,107.5 L611.7,108.9 L611.9,109.7 L612.0,111.5 L612.2,112.4 L612.3,113.1 L612.2,114.4 L612.2,115.6 L612.4,118.0 L612.6,119.1 L612.7,119.8 L612.8,121.6 L612.8,122.0 L612.9,123.3 L612.9,125.3 L613.0,126.3 L613.2,127.9 L613.2,129.0 L613.2,129.8 L613.3,130.7 L613.4,131.9 L613.5,134.1 L613.5,134.5 L613.4,135.8 L613.6,137.9 L613.8,136.2 L614.1,134.6 L614.4,134.0 L614.5,132.8 L614.6,130.9 L615.2,129.5 L615.1,128.9 L615.7,127.5 L615.7,126.4 L615.9,125.1 L616.4,123.0 L616.4,122.4 L616.7,120.7 L617.0,120.0" fill="none" stroke="#d62728" stroke-width="4.0" stroke-linejoin="round" stroke-linecap="round" stroke-opacity="0.6"/>
<path d="M616.8,118.9 L617.8,119.9 L618.3,117.2 L618.7,116.2 L619.2,115.6" fill="none" stroke="#d62728" stroke-width="8.0" stroke-linejoin="round" stroke-linecap="round" stroke-opacity="0.3"/>
<path d="M616.8,118.9 L617.8,119.9 L618.3,117.2 L618.7,116.2 L619.2,115.6" fill="none" stroke="#d62728" stroke-width="5.0" stroke-linejoin="round" stroke-linecap="round" stroke-opacity="1.0"/>
<path d="M619.0,115.5 L619.6,116.3 L619.6,117.6 L620.2,119.9 L620.3,120.1 L620.7,122.3 L621.2,122.6 L621.4,124.4" fill="none" stroke="#d62728" stroke-width="4.0" stroke-linejoin="round" stroke-linecap="round" stroke-opacity="0.6"/>
<path d="M621.1,125.1 L622.2,122.6 L622.7,121.5 L623.3,122.2 L623.5,120.0" fill="none" stroke="#d62728" stroke-width="8.0" stroke-linejoin="round" stroke-linecap="round" stroke-opacity="0.3"/>
<path d="M621.1,125.1 L622.2,122.6 L622.7,121.5 L623.3,122.2 L623.5,120.0" fill="none" stroke="#d62728" stroke-width="5.0" stroke-linejoin="round" stroke-linecap="round" stroke-opacity="1.0"/>
<path d="M623.5,119.8 L623.9,119.2 L624.3,117.6 L624.4,116.5 L624.8,115.4 L625.0,113.5 L625.6,112.5 L625.7,111.2" fill="none" stroke="#d62728" stroke-width="4.0" stroke-linejoin="round" stroke-linecap="round" stroke-opacity="0.6"/>
<path d="M626.1,110.0 L626.4,110.1 L626.0,109.5 L626.8,106.8" fill="none" stroke="#d62728" stroke-width="8.0" stroke-linejoin="round" stroke-linecap="round" stroke-opacity="0.3"/>
<path d="M626.1,110.0 L626.4,110.1 L626.0,109.5 L626.8,106.8" fill="none" stroke="#d62728" stroke-width="5.0" stroke-linejoin="round" stroke-linecap="round" stroke-opacity="1.0"/>
<path d="M626.9,106.8 L626.9,107.7 L627.2,109.5 L627.4,110.5 L627.5,111.5 L627.6,113.7 L627.9,114.9 L628.0,116.0 L628.3,116.3 L628.2,118.5 L628.5,119.2 L628.9,120.4 L629.2,121.4 L629.3,122.8 L629.5,124.0 L629.7,124.8 L630.1,126.5" fill="none" stroke="#d62728" stroke-width="4.0" stroke-linejoin="round" stroke-linecap="round" stroke-opacity="0.6"/>
<path d="M629.9,125.6 L630.4,128.5 L630.9,130.2 L631.8,129.7 L632.5,130.1 L633.6,130.1 L634.5,128.3 L634.7,130.5 L635.6,131.5 L636.5,132.2 L636.5,133.1 L638.0,133.2 L639.0,130.7 L639.4,129.7 L640.0,128.0 L640.9,126.9 L641.1,126.5" fill="none" stroke="#d62728" stroke-width="8.0" stroke-linejoin="round" stroke-linecap="round" stroke-opacity="0.3"/>
<path d="M629.9,125.6 L630.4,128.5 L630.9,130.2 L631.8,129.7 L632.5,130.1 L633.6,130.1 L634.5,128.3 L634.7,130.5 L635.6,131.5 L636.5,132.2 L636.5,133.1 L638.0,133.2 L639.0,130.7 L639.4,129.7 L640.0,128.0 L640.9,126.9 L641.1,126.5" fill="none" stroke="#d62728" stroke-width="5.0" stroke-linejoin="round" stroke-linecap="round" stroke-opacity="1.0"/>
<path d="M641.2,126.3 L641.4,125.5 L641.7,124.4 L642.0,122.3 L642.4,121.3 L642.6,120.7 L642.8,119.3 L643.3,117.3 L643.4,119.1 L643.9,121.0 L644.0,121.8 L644.1,122.7 L644.2,124.9 L644.4,125.3 L644.4,126.7 L644.7,128.8 L644.7,129.6 L644.8,130.5 L644.8,131.8 L644.9,133.9 L645.2,135.4 L645.3,136.3 L645.5,137.9 L645.6,138.7 L645.5,139.6 L645.6,140.6 L645.7,142.0 L645.7,144.1 L645.7,145.0 L645.7,145.6 L646.0,147.6 L645.9,148.4 L646.1,149.4 L646.0,150.5 L646.1,151.7 L646.4,153.2 L646.2,154.1 L646.2,155.8 L646.3,156.9 L646.3,158.2 L646.7,159.2 L646.6,158.1 L646.6,157.0 L646.7,156.0 L646.9,154.7 L647.1,153.1 L647.4,152.0 L647.3,151.4 L647.3,149.5 L647.7,147.9 L647.8,146.8 L647.9,145.4 L648.0,144.6 L648.1,143.0 L648.1,141.6 L648.1,140.4 L648.1,139.0 L648.3,137.8 L648.6,136.8 L648.7,136.3 L648.8,134.1 L648.7,133.1" fill="none" stroke="#d62728" stroke-width="4.0" stroke-linejoin="round" stroke-linecap="round" stroke-opacity="0.6"/>
<path d="M668.7,132.2 L668.7,133.6 L669.1,136.2 L669.5,137.5" fill="none" stroke="#d62728" stroke-width="8.0" stroke-linejoin="round" stroke-linecap="round" stroke-opacity="0.3"/>
<path d="M668.7,132.2 L668.7,133.6 L669.1,136.2 L669.5,137.5" fill="none" stroke="#d62728" stroke-width="5.0" stroke-linejoin="round" stroke-linecap="round" stroke-opacity="1.0"/>
<path d="M669.6,137.2 L669.6,136.3 L669.9,134.8 L670.2,133.4 L670.4,132.2 L670.6,130.9" fill="none" stroke="#d62728" stroke-width="4.0" stroke-linejoin="round" stroke-linecap="round" stroke-opacity="0.6"/>
<path d="M585.9,98.1 L588.5,89.3 L592.9,82.7 L597.3,84.9 L600.5,80.6 L603.8,65.2 L607.1,82.7 L610.4,84.9 L612.6,100.3 L612.6,122.2 L610.4,120.0 L606.0,120.0 L600.5,126.5 L595.1,124.4 L590.7,120.0 L585.9,126.5Z" fill="#1f77b4" fill-opacity="0.3" stroke="none" filter="url(#blur2)"/>
<line x1="601.6" y1="80.6" x2="601.6" y2="120.0" stroke="#1f77b4" stroke-width="3.5" stroke-opacity="0.3" stroke-linecap="round" stroke-dasharray="0.6 2.2"/>
<line x1="596.2" y1="71.8" x2="596.2" y2="111.2" stroke="#1f77b4" stroke-width="3.5" stroke-opacity="0.3" stroke-linecap="round" stroke-dasharray="0.6 2.2"/>
<path d="M525.3,146.0 L525.1,147.9 L526.1,148.4" fill="none" stroke="#1f77b4" stroke-width="7.5" stroke-linejoin="round" stroke-linecap="round" stroke-opacity="0.3"/>
<path d="M525.3,146.0 L525.1,147.9 L526.1,148.4" fill="none" stroke="#1f77b4" stroke-width="4.5" stroke-linejoin="round" stroke-linecap="round" stroke-opacity="1.0"/>
<path d="M526.2,148.5 L526.3,149.4 L526.3,150.8 L526.5,152.7 L526.4,153.6 L526.5,154.8 L526.6,155.6 L526.6,157.6 L526.8,158.0 L526.8,159.7 L526.9,161.6 L526.9,162.8 L527.0,163.3 L527.0,165.1 L527.4,163.6 L527.2,161.9 L527.4,161.4 L527.4,159.7 L527.6,158.5 L527.7,157.5 L527.9,155.8 L527.9,155.3 L528.0,153.6 L528.2,152.7 L528.4,150.4 L528.3,149.4 L528.5,148.4" fill="none" stroke="#1f77b4" stroke-width="4.0" stroke-linejoin="round" stroke-linecap="round" stroke-opacity="1.0"/>
<path d="M528.5,148.4 L528.7,147.1 L528.9,145.6 L529.6,144.9" fill="none" stroke="#1f77b4" stroke-width="7.5" stroke-linejoin="round" stroke-linecap="round" stroke-opacity="0.3"/>
<path d="M528.5,148.4 L528.7,147.1 L528.9,145.6 L529.6,144.9" fill="none" stroke="#1f77b4" stroke-width="4.5" stroke-linejoin="round" stroke-linecap="round" stroke-opacity="1.0"/>
<path d="M529.6,144.4 L530.0,144.1 L530.1,142.6 L530.3,140.2 L530.8,139.4 L530.9,138.0 L531.0,139.2 L531.3,141.2 L531.6,141.9 L531.8,143.6 L532.1,145.5 L532.1,146.3 L532.5,147.3 L532.4,149.6 L532.7,150.4 L532.9,152.2 L533.1,153.2 L533.0,154.1 L533.2,155.2 L533.5,157.4 L533.5,158.2 L533.9,159.6 L534.1,161.5 L534.0,162.5 L534.4,164.0 L534.5,163.0 L534.3,160.9 L534.7,160.3 L534.5,158.4 L534.9,157.5 L534.8,155.8 L534.8,154.6 L535.1,153.9 L535.1,152.8 L535.3,150.7 L535.0,150.5 L535.4,148.8 L535.4,147.6 L535.4,146.3 L535.5,145.3 L535.7,143.6 L535.8,142.6 L535.8,141.3 L536.0,139.5 L536.1,139.0 L536.3,137.9 L536.1,136.1 L536.4,135.0 L536.5,133.1 L536.5,132.8 L536.6,130.8 L537.0,131.7 L537.0,134.3 L537.3,135.5 L537.5,136.4 L537.9,137.5 L537.8,139.6 L538.2,140.7 L538.2,141.4 L538.1,142.6 L538.5,144.8 L538.6,146.1 L538.5,147.4 L538.7,148.4 L538.7,149.1 L538.8,150.8 L539.0,151.9 L539.1,153.7 L539.2,151.6 L539.6,151.0 L539.9,150.3 L539.8,148.1 L540.0,147.1 L540.3,148.8 L540.6,149.6 L540.9,150.9 L541.2,152.0 L541.6,153.2 L542.0,154.0 L542.0,153.2 L542.3,152.0 L542.4,150.6 L542.5,149.4 L542.8,147.9 L543.1,147.1 L543.2,144.8 L543.2,143.9 L543.5,142.9 L543.7,141.4" fill="none" stroke="#1f77b4" stroke-width="4.0" stroke-linejoin="round" stroke-linecap="round" stroke-opacity="1.0"/>
<path d="M544.1,142.6 L543.9,141.9 L544.9,143.0 L545.2,144.4 L546.3,145.6 L547.6,147.2 L547.6,149.8 L548.4,149.8" fill="none" stroke="#1f77b4" stroke-width="7.5" stroke-linejoin="round" stroke-linecap="round" stroke-opacity="0.3"/>
<path d="M544.1,142.6 L543.9,141.9 L544.9,143.0 L545.2,144.4 L546.3,145.6 L547.6,147.2 L547.6,149.8 L548.4,149.8" fill="none" stroke="#1f77b4" stroke-width="4.5" stroke-linejoin="round" stroke-linecap="round" stroke-opacity="1.0"/>
<path d="M548.4,149.2 L548.8,148.7 L549.0,146.7 L549.2,145.1 L549.1,143.7 L549.7,142.4 L549.7,141.6 L550.0,140.3 L550.1,138.6 L550.4,137.3 L550.5,136.5 L550.3,134.4 L550.5,133.6 L551.1,132.6 L551.6,131.4 L551.8,130.2 L552.4,128.4 L552.9,130.7 L553.3,132.1 L553.6,132.8 L553.8,135.1 L554.1,135.8 L554.5,137.4 L554.8,138.5 L555.2,140.3 L555.4,141.4" fill="none" stroke="#1f77b4" stroke-width="4.0" stroke-linejoin="round" stroke-linecap="round" stroke-opacity="1.0"/>
<path d="M554.9,140.0 L556.9,142.4 L557.2,138.9 L558.0,138.6 L558.7,137.7 L559.5,138.2 L560.0,135.7" fill="none" stroke="#1f77b4" stroke-width="7.5" stroke-linejoin="round" stroke-linecap="round" stroke-opacity="0.3"/>
<path d="M554.9,140.0 L556.9,142.4 L557.2,138.9 L558.0,138.6 L558.7,137.7 L559.5,138.2 L560.0,135.7" fill="none" stroke="#1f77b4" stroke-width="4.5" stroke-linejoin="round" stroke-linecap="round" stroke-opacity="1.0"/>
<path d="M560.0,135.6 L560.7,134.1 L561.1,133.0 L561.4,132.0 L561.8,130.6 L562.4,129.5 L562.6,131.5 L563.1,132.5 L563.4,133.8 L563.4,134.2 L563.8,135.7 L564.1,136.8" fill="none" stroke="#1f77b4" stroke-width="4.0" stroke-linejoin="round" stroke-linecap="round" stroke-opacity="1.0"/>
<path d="M563.7,137.8 L564.9,135.7 L565.8,133.9 L567.1,135.4 L567.6,137.3 L568.5,136.6 L568.4,137.3 L568.8,135.0 L569.5,134.4" fill="none" stroke="#1f77b4" stroke-width="7.5" stroke-linejoin="round" stroke-linecap="round" stroke-opacity="0.3"/>
<path d="M563.7,137.8 L564.9,135.7 L565.8,133.9 L567.1,135.4 L567.6,137.3 L568.5,136.6 L568.4,137.3 L568.8,135.0 L569.5,134.4" fill="none" stroke="#1f77b4" stroke-width="4.5" stroke-linejoin="round" stroke-linecap="round" stroke-opacity="1.0"/>
<path d="M569.4,134.2 L569.6,133.6 L569.4,131.4 L569.8,130.8 L569.8,129.2 L569.8,128.0 L569.6,127.4 L570.0,125.4 L570.1,124.4 L569.9,123.1 L570.2,121.9 L570.4,120.4 L570.5,119.0 L570.6,118.3 L571.0,116.8 L571.1,115.9 L571.4,117.0 L571.6,118.1 L572.1,120.0" fill="none" stroke="#1f77b4" stroke-width="4.0" stroke-linejoin="round" stroke-linecap="round" stroke-opacity="1.0"/>
<path d="M572.3,119.5 L572.2,121.7 L573.2,122.2" fill="none" stroke="#1f77b4" stroke-width="7.5" stroke-linejoin="round" stroke-linecap="round" stroke-opacity="0.3"/>
<path d="M572.3,119.5 L572.2,121.7 L573.2,122.2" fill="none" stroke="#1f77b4" stroke-width="4.5" stroke-linejoin="round" stroke-linecap="round" stroke-opacity="1.0"/>
<path d="M573.1,121.6 L573.4,120.7 L573.4,119.9 L573.5,118.2 L573.9,117.6 L573.8,115.9 L574.0,114.9 L574.1,113.4 L574.6,112.2 L574.9,110.4 L575.2,109.0 L575.5,110.3 L575.7,111.3 L576.0,113.1 L576.3,114.8 L576.5,115.6" fill="none" stroke="#1f77b4" stroke-width="4.0" stroke-linejoin="round" stroke-linecap="round" stroke-opacity="1.0"/>
<path d="M576.9,115.5 L577.1,115.6 L577.6,117.8" fill="none" stroke="#1f77b4" stroke-width="7.5" stroke-linejoin="round" stroke-linecap="round" stroke-opacity="0.3"/>
<path d="M576.9,115.5 L577.1,115.6 L577.6,117.8" fill="none" stroke="#1f77b4" stroke-width="4.5" stroke-linejoin="round" stroke-linecap="round" stroke-opacity="1.0"/>
<path d="M577.7,117.6 L577.8,119.4 L577.9,120.9 L578.4,121.6 L578.4,123.4 L578.6,124.2 L579.1,123.0 L579.5,121.8 L579.6,119.6 L579.8,121.0 L580.1,122.2 L580.5,123.7 L580.5,125.7 L580.9,126.2 L581.2,127.8 L581.4,128.7 L581.4,130.3 L581.6,131.6 L582.1,132.6 L582.0,134.0 L582.2,135.6 L582.5,136.5 L582.7,138.4 L582.7,139.8 L583.0,141.0 L583.1,142.3 L583.3,140.0 L583.8,138.8 L584.1,137.9 L584.3,136.1 L584.3,135.0 L584.4,133.2 L584.5,132.1 L584.6,131.0 L584.8,129.7 L584.7,128.0 L585.0,127.8 L584.9,126.1 L585.1,124.6 L585.1,123.1 L585.3,122.1 L585.2,120.7 L585.3,120.1 L585.6,118.0 L585.6,117.3 L585.6,116.6 L585.7,115.0 L585.5,113.6 L585.7,112.3 L585.7,111.0 L586.0,109.7 L585.8,108.4 L586.0,107.2 L586.0,106.3 L586.0,105.2 L586.0,103.8 L586.0,102.6 L586.3,101.9 L586.2,99.8 L586.4,98.5 L586.7,97.2 L587.1,96.4 L587.1,94.5 L587.6,93.8 L587.8,95.5 L588.0,96.4 L588.4,97.8 L588.5,99.5 L589.0,101.3 L589.2,101.5 L589.3,103.7 L589.7,104.4 L589.6,106.2 L589.8,107.4 L589.8,108.3 L590.2,109.9 L590.2,110.4 L590.2,112.5 L590.4,113.6 L590.7,115.0 L590.8,116.2 L590.7,114.0 L591.0,112.8 L591.0,111.4 L591.1,110.1 L591.1,108.5 L591.2,107.6 L591.3,105.8 L591.6,105.4 L591.9,103.4 L591.9,101.9 L591.9,100.8 L591.9,100.2 L592.1,98.1 L592.3,97.7 L592.2,96.4 L592.6,95.0 L592.7,93.3 L592.7,91.8 L592.8,90.1 L592.9,89.0 L593.2,88.1 L593.4,86.9 L593.5,85.4 L593.6,84.2 L594.1,82.8 L594.1,83.7 L594.3,84.7 L594.4,86.4 L594.6,87.0 L594.6,88.5 L594.6,90.2 L594.8,91.6 L594.9,92.4 L595.1,93.5 L595.2,95.2 L595.1,96.9 L595.2,97.8 L595.6,99.5 L595.5,99.9 L595.8,101.2 L595.8,102.7 L595.9,104.2 L596.1,105.5 L596.0,107.3 L596.3,107.8 L596.3,110.0 L596.6,110.4 L596.6,112.0 L596.7,113.0 L596.6,114.4 L597.0,116.5 L597.0,117.3 L597.3,118.5 L597.4,119.9 L597.4,118.6 L597.3,117.6 L597.4,115.8 L597.4,115.1 L597.6,113.9 L597.7,112.7 L597.6,111.9 L597.7,110.2 L597.8,108.4 L598.1,107.5 L598.0,106.9 L598.1,105.4 L598.1,103.8 L598.1,103.3 L598.4,101.4 L598.4,100.0 L598.4,98.5 L598.8,97.4 L598.9,96.5 L598.9,95.5 L599.0,94.4 L599.1,93.4 L599.2,91.8 L599.5,90.3 L599.3,89.9 L599.6,90.6 L599.6,91.5 L600.0,92.7 L600.0,94.4 L600.4,95.5 L600.5,96.9 L600.4,97.9 L600.8,96.5 L601.4,95.7 L601.6,93.9 L601.8,92.7 L601.9,90.9 L601.9,89.9 L602.1,88.5 L602.2,87.4 L602.2,86.7 L602.6,85.3 L602.6,84.3 L602.7,82.5 L602.8,81.8 L603.0,79.9 L603.1,79.2 L603.1,78.0 L603.5,77.0 L603.4,76.0 L603.6,74.5 L603.6,73.5 L603.9,71.2 L603.9,70.5 L604.0,69.2 L604.3,68.6 L604.4,66.5 L604.4,65.8 L604.4,64.5 L604.7,62.7 L604.4,64.4 L604.5,65.7 L604.5,67.2 L604.8,68.6 L604.6,69.6 L604.8,71.1 L604.8,71.7 L605.1,73.6 L604.9,74.1 L605.2,76.2 L605.2,77.2 L605.3,78.7 L605.3,79.1 L605.3,80.4 L605.4,82.3 L605.4,83.4 L605.6,84.6 L605.8,85.6 L605.8,87.9 L605.6,88.9 L606.0,89.8 L605.9,91.5 L605.8,92.0 L605.9,93.7 L606.0,95.3 L606.2,96.7 L606.4,97.0 L606.5,98.5 L606.7,100.4 L606.9,101.3 L606.8,102.0 L606.9,103.4 L607.2,105.1 L607.1,102.8 L607.4,102.4 L607.5,101.3 L607.4,99.8 L607.7,98.3 L607.7,96.7 L607.8,95.5 L607.8,93.9 L607.8,93.4 L608.1,91.9 L608.2,91.0 L608.4,89.4 L608.6,87.7 L608.8,86.7 L609.4,85.3 L609.6,85.8 L609.7,87.3 L609.6,88.2 L609.8,90.1 L610.0,91.5 L610.4,91.9 L610.3,94.1 L610.4,94.8 L610.4,96.3 L610.8,97.2 L610.7,99.1 L610.8,100.0 L611.0,101.9 L611.2,103.5 L611.4,104.4 L611.3,105.7 L611.5,106.3 L611.8,107.6 L611.8,110.0 L611.8,110.4 L612.1,112.4 L612.2,113.2 L612.2,114.8 L612.2,115.9 L612.5,117.7 L612.3,118.1 L612.7,119.6 L612.8,121.3 L612.8,121.9 L613.2,124.3 L613.1,124.6 L613.4,126.2 L613.6,127.1 L613.8,129.0 L613.8,127.6 L614.0,125.9 L614.4,125.4 L614.6,123.9 L614.8,122.2" fill="none" stroke="#1f77b4" stroke-width="4.0" stroke-linejoin="round" stroke-linecap="round" stroke-opacity="1.0"/>
<path d="M614.9,122.7 L615.2,119.9 L615.9,120.0" fill="none" stroke="#1f77b4" stroke-width="7.5" stroke-linejoin="round" stroke-linecap="round" stroke-opacity="0.3"/>
<path d="M614.9,122.7 L615.2,119.9 L615.9,120.0" fill="none" stroke="#1f77b4" stroke-width="4.5" stroke-linejoin="round" stroke-linecap="round" stroke-opacity="1.0"/>
<path d="M616.0,119.5 L616.2,121.9 L616.2,122.3 L616.5,124.0 L616.7,125.4 L617.1,126.4 L617.2,124.9 L617.2,123.8 L617.3,122.4 L617.6,121.9 L617.7,120.6 L617.8,118.9 L618.1,118.2 L618.2,118.7 L618.3,120.7 L618.8,122.0 L619.1,122.7 L619.0,124.9 L619.5,125.9 L619.9,127.8 L620.2,128.2 L620.6,127.5 L620.8,125.5 L621.1,124.3 L621.0,123.4 L621.4,122.2" fill="none" stroke="#1f77b4" stroke-width="4.0" stroke-linejoin="round" stroke-linecap="round" stroke-opacity="1.0"/>
<path d="M621.8,123.0 L622.6,123.2 L623.2,125.5 L623.7,122.5 L624.4,121.3 L624.8,122.4 L625.6,119.8 L626.8,117.5 L627.9,117.8" fill="none" stroke="#1f77b4" stroke-width="7.5" stroke-linejoin="round" stroke-linecap="round" stroke-opacity="0.3"/>
<path d="M621.8,123.0 L622.6,123.2 L623.2,125.5 L623.7,122.5 L624.4,121.3 L624.8,122.4 L625.6,119.8 L626.8,117.5 L627.9,117.8" fill="none" stroke="#1f77b4" stroke-width="4.5" stroke-linejoin="round" stroke-linecap="round" stroke-opacity="1.0"/>
<path d="M627.9,117.6 L628.2,119.2 L628.1,120.4 L628.3,121.6 L628.5,122.9 L628.8,123.5 L628.8,125.3 L629.1,126.7 L629.4,128.4 L629.6,129.3 L630.1,130.9" fill="none" stroke="#1f77b4" stroke-width="4.0" stroke-linejoin="round" stroke-linecap="round" stroke-opacity="1.0"/>
<path d="M630.5,132.0 L631.2,128.9 L631.9,128.0 L632.7,129.0 L633.4,130.7 L634.2,130.9 L634.3,134.2 L635.4,135.5 L636.6,135.5 L638.1,134.2 L639.2,134.0 L640.2,132.0 L640.7,132.2 L642.4,132.7 L643.2,133.1" fill="none" stroke="#1f77b4" stroke-width="7.5" stroke-linejoin="round" stroke-linecap="round" stroke-opacity="0.3"/>
<path d="M630.5,132.0 L631.2,128.9 L631.9,128.0 L632.7,129.0 L633.4,130.7 L634.2,130.9 L634.3,134.2 L635.4,135.5 L636.6,135.5 L638.1,134.2 L639.2,134.0 L640.2,132.0 L640.7,132.2 L642.4,132.7 L643.2,133.1" fill="none" stroke="#1f77b4" stroke-width="4.5" stroke-linejoin="round" stroke-linecap="round" stroke-opacity="1.0"/>
<path d="M643.2,132.7 L643.8,134.9 L644.1,135.8 L644.2,137.0 L644.5,138.3 L644.5,140.2 L644.9,141.2 L645.1,142.1 L644.9,143.3 L645.1,144.9 L645.6,145.7 L645.9,144.9 L646.3,142.8 L646.5,141.9" fill="none" stroke="#1f77b4" stroke-width="4.0" stroke-linejoin="round" stroke-linecap="round" stroke-opacity="1.0"/>
<path d="M646.3,141.9 L647.4,140.1 L647.6,139.7" fill="none" stroke="#1f77b4" stroke-width="7.5" stroke-linejoin="round" stroke-linecap="round" stroke-opacity="0.3"/>
<path d="M646.3,141.9 L647.4,140.1 L647.6,139.7" fill="none" stroke="#1f77b4" stroke-width="4.5" stroke-linejoin="round" stroke-linecap="round" stroke-opacity="1.0"/>
<path d="M647.7,139.5 L648.0,141.7 L648.2,142.5 L648.8,144.6 L648.9,143.4 L648.9,141.3 L649.1,139.7 L649.3,139.6 L649.7,137.2 L649.5,136.2 L649.8,134.9 L650.0,136.7 L650.3,138.2 L650.5,139.4 L650.5,140.3 L651.0,142.1 L651.2,143.5 L651.8,144.3 L652.0,146.2" fill="none" stroke="#1f77b4" stroke-width="4.0" stroke-linejoin="round" stroke-linecap="round" stroke-opacity="1.0"/>
<path d="M652.1,146.7 L652.6,147.6 L653.4,147.6 L653.7,149.1 L654.2,149.6 L654.4,151.6 L654.9,152.3 L655.8,152.7 L656.4,155.0" fill="none" stroke="#1f77b4" stroke-width="7.5" stroke-linejoin="round" stroke-linecap="round" stroke-opacity="0.3"/>
<path d="M652.1,146.7 L652.6,147.6 L653.4,147.6 L653.7,149.1 L654.2,149.6 L654.4,151.6 L654.9,152.3 L655.8,152.7 L656.4,155.0" fill="none" stroke="#1f77b4" stroke-width="4.5" stroke-linejoin="round" stroke-linecap="round" stroke-opacity="1.0"/>
<path d="M656.5,154.9 L656.9,155.9 L657.0,157.4 L657.5,159.5 L657.7,157.7 L657.8,156.5 L657.9,155.3 L658.1,154.8 L658.3,152.7 L658.5,151.7 L658.6,150.5 L658.6,149.0 L659.0,148.1 L659.0,147.4 L659.1,145.4 L659.3,144.0 L659.4,142.6 L659.7,141.9" fill="none" stroke="#1f77b4" stroke-width="4.0" stroke-linejoin="round" stroke-linecap="round" stroke-opacity="1.0"/>
<path d="M659.6,143.1 L660.7,143.0 L660.8,144.1" fill="none" stroke="#1f77b4" stroke-width="7.5" stroke-linejoin="round" stroke-linecap="round" stroke-opacity="0.3"/>
<path d="M659.6,143.1 L660.7,143.0 L660.8,144.1" fill="none" stroke="#1f77b4" stroke-width="4.5" stroke-linejoin="round" stroke-linecap="round" stroke-opacity="1.0"/>
<path d="M660.8,143.9 L661.1,143.1 L661.5,141.2 L662.0,140.3 L662.4,139.3 L663.0,137.7 L663.0,138.4 L663.6,140.4 L663.6,141.0 L663.8,142.9 L664.2,144.1 L664.4,144.5 L664.5,146.4 L665.1,147.1 L665.2,148.4 L665.5,146.6 L666.0,146.1 L666.6,144.5 L666.7,143.6 L667.4,141.3 L667.7,140.9 L668.0,138.7 L668.8,137.6 L669.1,136.4 L669.6,135.1 L669.8,136.0 L669.8,137.8 L670.2,139.5 L670.2,139.7 L670.5,141.7 L670.5,143.2 L670.7,144.5 L670.7,142.5 L670.8,142.2 L671.0,140.1 L671.2,138.8 L671.2,138.4 L671.3,137.0 L671.4,135.5 L671.6,134.1 L671.7,133.7 L671.9,133.9 L672.2,135.5 L672.6,136.8 L672.6,138.0 L672.8,139.2 L673.2,139.7 L673.6,141.2 L673.7,142.5 L674.0,143.7 L674.3,144.9 L674.6,146.1 L674.9,146.9 L675.0,148.4" fill="none" stroke="#1f77b4" stroke-width="4.0" stroke-linejoin="round" stroke-linecap="round" stroke-opacity="1.0"/>
</g>
<g class="an" font-size="10" fill="#1f77b4" color="#1f77b4"><text x="525.7" y="36.6">M1: MEAN -0.16</text><text x="553.2" y="47.1">STD 0.17</text></g>
<g class="an" font-size="10" fill="#d62728" color="#d62728"><text x="525.7" y="56.0">M7: MEAN -0.10</text><text x="553.2" y="66.5">STD 0.15</text></g>
<rect x="525.3" y="27.9" width="149.3" height="147.5" fill="none" stroke="#000" stroke-width="1.6"/>
<line x1="518.3" y1="27.9" x2="525.3" y2="27.9" stroke="#000" stroke-width="1.6"/>
<text x="511.1" y="35.4" font-size="20" text-anchor="end">0.90</text>
<line x1="518.3" y1="77.1" x2="525.3" y2="77.1" stroke="#000" stroke-width="1.6"/>
<text x="511.1" y="84.6" font-size="20" text-anchor="end">0.40</text>
<line x1="518.3" y1="126.2" x2="525.3" y2="126.2" stroke="#000" stroke-width="1.6"/>
<text x="511.1" y="133.7" font-size="20" text-anchor="end">-0.10</text>
<line x1="518.3" y1="175.4" x2="525.3" y2="175.4" stroke="#000" stroke-width="1.6"/>
<text x="511.1" y="182.9" font-size="20" text-anchor="end">-0.60</text>
<line x1="525.3" y1="175.4" x2="525.3" y2="182.4" stroke="#000" stroke-width="1.6"/>
<line x1="562.6" y1="175.4" x2="562.6" y2="182.4" stroke="#000" stroke-width="1.6"/>
<line x1="599.9" y1="175.4" x2="599.9" y2="182.4" stroke="#000" stroke-width="1.6"/>
<line x1="637.3" y1="175.4" x2="637.3" y2="182.4" stroke="#000" stroke-width="1.6"/>
<line x1="674.6" y1="175.4" x2="674.6" y2="182.4" stroke="#000" stroke-width="1.6"/>
<text x="599.9" y="16.0" font-size="20.3" text-anchor="middle">Z-bias (Z0)</text>
<clipPath id="c10"><rect x="83.1" y="234.2" width="149.3" height="147.5"/></clipPath>
<rect x="114.0" y="234.2" width="87.7" height="147.5" fill="#e5e5e5" stroke="#d3d3d3" stroke-width="1.6"/>
<g clip-path="url(#c10)">
<path d="M126.8,280.0 L133.4,282.2 L139.9,288.7 L146.5,273.4 L148.7,275.6 L148.7,321.6 L146.5,336.9 L142.1,336.9 L138.8,343.5 L135.6,330.4 L131.2,326.0 L126.8,306.3Z" fill="#d62728" fill-opacity="0.3" stroke="none" filter="url(#blur2)"/>
<path d="M148.7,273.4 L153.1,277.8 L159.6,277.8 L166.2,275.6 L170.6,277.8 L175.0,275.6 L175.0,293.1 L168.4,295.3 L161.8,299.7 L155.3,308.5 L148.7,308.5Z" fill="#d62728" fill-opacity="0.35" stroke="none" filter="url(#blur2)"/>
<path d="M179.4,271.2 L185.9,264.7 L192.5,260.3 L196.9,262.5 L199.1,273.4 L199.1,284.4 L192.5,286.6 L188.1,299.7 L183.7,312.8 L179.4,310.6Z" fill="#d62728" fill-opacity="0.3" stroke="none" filter="url(#blur2)"/>
<path d="M129.0,304.1 L136.6,306.3 L136.6,321.6 L129.0,321.6Z" fill="#d62728" fill-opacity="0.5" stroke="none" filter="url(#blur2)"/>
<line x1="129.0" y1="280.0" x2="129.0" y2="290.9" stroke="#d62728" stroke-width="3.5" stroke-opacity="0.3" stroke-linecap="round" stroke-dasharray="0.6 2.2"/>
<line x1="147.6" y1="275.6" x2="147.6" y2="299.7" stroke="#d62728" stroke-width="3.5" stroke-opacity="0.3" stroke-linecap="round" stroke-dasharray="0.6 2.2"/>
<line x1="149.8" y1="273.4" x2="149.8" y2="290.9" stroke="#d62728" stroke-width="3.5" stroke-opacity="0.3" stroke-linecap="round" stroke-dasharray="0.6 2.2"/>
<line x1="185.9" y1="266.8" x2="185.9" y2="282.2" stroke="#d62728" stroke-width="3.5" stroke-opacity="0.3" stroke-linecap="round" stroke-dasharray="0.6 2.2"/>
<line x1="183.7" y1="299.7" x2="183.7" y2="310.6" stroke="#d62728" stroke-width="3.5" stroke-opacity="0.3" stroke-linecap="round" stroke-dasharray="0.6 2.2"/>
<line x1="133.4" y1="306.3" x2="133.4" y2="330.4" stroke="#d62728" stroke-width="3.5" stroke-opacity="0.3" stroke-linecap="round" stroke-dasharray="0.6 2.2"/>
<line x1="144.3" y1="312.8" x2="144.3" y2="339.1" stroke="#d62728" stroke-width="3.5" stroke-opacity="0.3" stroke-linecap="round" stroke-dasharray="0.6 2.2"/>
<line x1="154.2" y1="295.3" x2="154.2" y2="326.0" stroke="#d62728" stroke-width="3.5" stroke-opacity="0.25" stroke-linecap="round" stroke-dasharray="0.6 2.2"/>
<line x1="187.0" y1="260.3" x2="187.0" y2="269.0" stroke="#d62728" stroke-width="3.5" stroke-opacity="0.3" stroke-linecap="round" stroke-dasharray="0.6 2.2"/>
<line x1="195.8" y1="260.3" x2="195.8" y2="277.8" stroke="#d62728" stroke-width="3.5" stroke-opacity="0.3" stroke-linecap="round" stroke-dasharray="0.6 2.2"/>
<path d="M104.9,300.3 L105.9,299.3 L107.1,301.4 L108.1,300.7 L109.1,301.2 L110.0,304.0 L111.1,305.3 L111.1,305.2 L112.4,303.7 L112.7,302.1 L113.2,303.3 L115.0,302.1 L116.1,301.9 L116.6,298.8 L117.7,300.0 L119.2,301.8 L120.0,300.7 L121.2,300.4 L122.6,299.5 L123.9,300.9 L125.0,301.2 L126.1,302.9 L126.8,304.1" fill="none" stroke="#d62728" stroke-width="10.0" stroke-linejoin="round" stroke-linecap="round" stroke-opacity="0.3"/>
<path d="M104.9,300.3 L105.9,299.3 L107.1,301.4 L108.1,300.7 L109.1,301.2 L110.0,304.0 L111.1,305.3 L111.1,305.2 L112.4,303.7 L112.7,302.1 L113.2,303.3 L115.0,302.1 L116.1,301.9 L116.6,298.8 L117.7,300.0 L119.2,301.8 L120.0,300.7 L121.2,300.4 L122.6,299.5 L123.9,300.9 L125.0,301.2 L126.1,302.9 L126.8,304.1" fill="none" stroke="#d62728" stroke-width="7.0" stroke-linejoin="round" stroke-linecap="round" stroke-opacity="1.0"/>
<path d="M126.9,304.5 L127.2,303.1 L127.2,300.9 L127.5,299.7 L127.8,299.4 L127.8,297.7 L128.1,298.4 L128.1,300.4 L128.3,301.4 L128.4,303.1 L128.5,303.8 L128.9,304.9 L129.0,306.3" fill="none" stroke="#d62728" stroke-width="4.0" stroke-linejoin="round" stroke-linecap="round" stroke-opacity="0.6"/>
<path d="M128.7,307.7 L129.9,306.8 L130.0,308.5 L130.2,307.8 L131.2,306.3" fill="none" stroke="#d62728" stroke-width="10.0" stroke-linejoin="round" stroke-linecap="round" stroke-opacity="0.3"/>
<path d="M128.7,307.7 L129.9,306.8 L130.0,308.5 L130.2,307.8 L131.2,306.3" fill="none" stroke="#d62728" stroke-width="7.0" stroke-linejoin="round" stroke-linecap="round" stroke-opacity="1.0"/>
<path d="M131.0,306.3 L131.3,304.4 L131.7,304.1 L131.8,302.3 L131.9,301.3 L132.2,299.9 L132.4,301.5 L132.4,301.7 L132.8,303.0 L132.7,304.7 L132.8,306.0 L133.1,306.6 L133.0,308.0 L133.3,309.2 L133.2,310.6 L133.5,312.4 L133.8,312.8 L133.8,313.8 L133.8,315.2 L133.9,316.5 L134.0,318.5 L134.3,318.8 L134.3,320.7 L134.3,321.4 L134.6,320.6 L134.9,318.6 L135.2,318.1 L135.3,316.0 L135.7,315.3 L135.8,313.7 L136.1,312.9 L136.2,311.5 L136.3,309.8 L136.8,308.4 L136.9,309.2 L136.8,310.5 L137.0,312.6 L137.4,313.5 L137.5,315.2 L137.7,316.2 L137.7,317.2" fill="none" stroke="#d62728" stroke-width="4.0" stroke-linejoin="round" stroke-linecap="round" stroke-opacity="0.6"/>
<path d="M137.7,317.2 L138.8,332.5 L139.5,341.3 L140.4,326.0" fill="none" stroke="#d62728" stroke-width="3.5" stroke-opacity="0.35" stroke-linecap="round" stroke-dasharray="0.6 2.2"/>
<path d="M140.0,325.2 L140.2,325.6 L141.2,324.2 L141.0,321.6" fill="none" stroke="#d62728" stroke-width="10.0" stroke-linejoin="round" stroke-linecap="round" stroke-opacity="0.3"/>
<path d="M140.0,325.2 L140.2,325.6 L141.2,324.2 L141.0,321.6" fill="none" stroke="#d62728" stroke-width="7.0" stroke-linejoin="round" stroke-linecap="round" stroke-opacity="1.0"/>
<path d="M141.1,321.1 L141.2,320.0 L141.3,318.7 L141.6,318.3 L141.7,316.2 L141.9,315.9 L142.0,314.4 L142.3,312.6 L142.3,311.7 L142.4,310.0 L142.7,308.6 L142.9,307.0 L143.1,306.4 L143.4,307.9 L143.5,308.7 L143.9,310.3 L144.1,311.8 L144.4,312.9 L144.5,314.2 L144.7,315.7 L144.8,316.6 L145.0,317.5 L145.0,318.6 L145.2,320.0 L145.4,321.6" fill="none" stroke="#d62728" stroke-width="4.0" stroke-linejoin="round" stroke-linecap="round" stroke-opacity="0.6"/>
<path d="M145.4,321.6 L146.5,330.4 L146.9,341.3 L147.6,326.0" fill="none" stroke="#d62728" stroke-width="3.5" stroke-opacity="0.35" stroke-linecap="round" stroke-dasharray="0.6 2.2"/>
<path d="M147.7,326.3 L147.6,325.1 L147.7,323.3 L147.9,322.8 L148.0,321.3 L148.1,319.9 L148.0,318.3 L148.0,317.0 L148.2,315.6 L148.2,315.1 L148.2,313.5 L148.4,312.4 L148.4,310.9 L148.6,309.8 L148.4,309.1 L148.6,307.5 L148.6,306.6 L148.6,305.2 L148.9,304.2 L148.9,302.1 L149.0,301.5 L149.2,300.1 L149.1,298.9 L149.3,296.9 L149.3,296.0 L149.4,294.3 L149.6,293.6 L149.9,292.1 L149.7,291.2 L149.8,289.9 L150.1,288.2 L150.1,287.5 L150.3,285.8 L150.2,283.9 L150.5,283.4 L150.4,281.4 L150.8,280.4 L150.6,278.9 L150.8,277.8 L151.0,279.2 L151.0,280.7 L151.0,281.4 L151.4,283.0 L151.3,284.8 L151.6,285.6 L151.5,287.3 L151.7,287.9 L151.7,289.5 L151.9,290.6 L152.2,292.3 L152.4,293.8 L152.6,294.6 L152.6,296.3 L152.7,296.8 L152.7,298.7 L153.1,299.7" fill="none" stroke="#d62728" stroke-width="4.0" stroke-linejoin="round" stroke-linecap="round" stroke-opacity="0.6"/>
<path d="M153.3,300.4 L153.3,297.6 L154.2,297.5" fill="none" stroke="#d62728" stroke-width="10.0" stroke-linejoin="round" stroke-linecap="round" stroke-opacity="0.3"/>
<path d="M153.3,300.4 L153.3,297.6 L154.2,297.5" fill="none" stroke="#d62728" stroke-width="7.0" stroke-linejoin="round" stroke-linecap="round" stroke-opacity="1.0"/>
<path d="M154.0,298.1 L154.3,296.1 L154.3,295.2 L154.5,293.3 L154.7,292.0 L155.0,291.0 L155.2,290.1 L155.3,288.7" fill="none" stroke="#d62728" stroke-width="4.0" stroke-linejoin="round" stroke-linecap="round" stroke-opacity="0.6"/>
<path d="M155.6,288.1 L155.3,288.2 L156.2,284.4 L156.4,284.4" fill="none" stroke="#d62728" stroke-width="10.0" stroke-linejoin="round" stroke-linecap="round" stroke-opacity="0.3"/>
<path d="M155.6,288.1 L155.3,288.2 L156.2,284.4 L156.4,284.4" fill="none" stroke="#d62728" stroke-width="7.0" stroke-linejoin="round" stroke-linecap="round" stroke-opacity="1.0"/>
<path d="M156.3,284.2 L156.7,285.5 L156.7,286.9 L156.9,288.2 L156.8,289.3 L157.2,290.2 L157.2,292.1 L157.3,292.8 L157.8,294.2 L157.9,295.3 L158.0,297.5 L158.4,298.8 L158.4,299.8 L158.9,297.9 L158.8,297.1 L159.0,295.5 L159.3,295.2 L159.4,293.1 L159.5,291.9 L159.6,290.9" fill="none" stroke="#d62728" stroke-width="4.0" stroke-linejoin="round" stroke-linecap="round" stroke-opacity="0.6"/>
<path d="M159.6,291.1 L160.3,290.1 L160.4,287.8 L160.4,286.8 L161.2,285.9 L161.4,284.4 L162.2,282.4 L162.7,281.7 L163.3,278.7 L163.1,280.3 L163.5,282.0 L163.8,285.8 L164.7,285.8 L165.5,287.9 L165.8,285.4 L166.3,282.9 L166.3,284.3 L167.4,283.3 L167.2,282.3 L168.4,285.6 L168.3,287.1 L169.1,284.1 L169.4,284.2 L169.8,284.1 L170.8,281.8 L171.1,281.4 L171.4,280.4 L172.0,278.1 L173.1,276.5 L173.7,279.2 L174.7,279.8 L175.7,280.6 L176.3,282.8 L176.4,284.2 L177.2,284.4" fill="none" stroke="#d62728" stroke-width="10.0" stroke-linejoin="round" stroke-linecap="round" stroke-opacity="0.3"/>
<path d="M159.6,291.1 L160.3,290.1 L160.4,287.8 L160.4,286.8 L161.2,285.9 L161.4,284.4 L162.2,282.4 L162.7,281.7 L163.3,278.7 L163.1,280.3 L163.5,282.0 L163.8,285.8 L164.7,285.8 L165.5,287.9 L165.8,285.4 L166.3,282.9 L166.3,284.3 L167.4,283.3 L167.2,282.3 L168.4,285.6 L168.3,287.1 L169.1,284.1 L169.4,284.2 L169.8,284.1 L170.8,281.8 L171.1,281.4 L171.4,280.4 L172.0,278.1 L173.1,276.5 L173.7,279.2 L174.7,279.8 L175.7,280.6 L176.3,282.8 L176.4,284.2 L177.2,284.4" fill="none" stroke="#d62728" stroke-width="7.0" stroke-linejoin="round" stroke-linecap="round" stroke-opacity="1.0"/>
<path d="M177.0,284.6 L177.6,285.4 L178.1,287.0 L178.4,288.1 L179.0,289.5 L179.3,290.7 L179.6,292.5 L179.7,293.8 L179.8,294.1 L180.0,295.8 L180.3,297.0 L180.4,298.1 L180.4,299.7" fill="none" stroke="#d62728" stroke-width="4.0" stroke-linejoin="round" stroke-linecap="round" stroke-opacity="0.6"/>
<path d="M180.6,299.9 L180.5,297.7 L180.7,295.5 L181.5,295.3" fill="none" stroke="#d62728" stroke-width="10.0" stroke-linejoin="round" stroke-linecap="round" stroke-opacity="0.3"/>
<path d="M180.6,299.9 L180.5,297.7 L180.7,295.5 L181.5,295.3" fill="none" stroke="#d62728" stroke-width="7.0" stroke-linejoin="round" stroke-linecap="round" stroke-opacity="1.0"/>
<path d="M181.6,295.8 L181.7,293.6 L182.1,292.5 L182.5,291.0 L182.8,289.9 L183.1,289.2 L183.4,288.2 L183.7,286.7 L184.1,285.0 L184.8,283.8 L185.1,282.9 L185.6,281.3 L185.9,280.0" fill="none" stroke="#d62728" stroke-width="4.0" stroke-linejoin="round" stroke-linecap="round" stroke-opacity="0.6"/>
<path d="M185.6,279.9 L186.3,280.2 L187.4,277.1 L187.8,277.1 L188.4,275.9 L189.3,275.6 L190.4,274.2 L191.0,275.6 L192.5,275.6" fill="none" stroke="#d62728" stroke-width="10.0" stroke-linejoin="round" stroke-linecap="round" stroke-opacity="0.3"/>
<path d="M185.6,279.9 L186.3,280.2 L187.4,277.1 L187.8,277.1 L188.4,275.9 L189.3,275.6 L190.4,274.2 L191.0,275.6 L192.5,275.6" fill="none" stroke="#d62728" stroke-width="7.0" stroke-linejoin="round" stroke-linecap="round" stroke-opacity="1.0"/>
<path d="M192.4,276.0 L192.8,274.6 L192.9,272.6 L192.9,271.8 L193.0,270.1 L193.3,269.5 L193.4,268.2 L193.6,266.8" fill="none" stroke="#d62728" stroke-width="4.0" stroke-linejoin="round" stroke-linecap="round" stroke-opacity="0.6"/>
<path d="M193.6,266.5 L193.9,264.9 L194.4,263.2 L194.7,262.5" fill="none" stroke="#d62728" stroke-width="10.0" stroke-linejoin="round" stroke-linecap="round" stroke-opacity="0.3"/>
<path d="M193.6,266.5 L193.9,264.9 L194.4,263.2 L194.7,262.5" fill="none" stroke="#d62728" stroke-width="7.0" stroke-linejoin="round" stroke-linecap="round" stroke-opacity="1.0"/>
<path d="M194.7,261.9 L194.7,264.1 L195.2,264.9 L195.4,266.1 L195.4,268.1 L195.8,269.3 L195.8,270.3 L196.1,271.0 L196.2,272.5 L196.5,274.2 L196.7,275.3 L196.7,276.9 L196.9,277.8" fill="none" stroke="#d62728" stroke-width="4.0" stroke-linejoin="round" stroke-linecap="round" stroke-opacity="0.6"/>
<path d="M196.6,277.2 L198.3,280.1 L199.0,280.5 L200.4,277.9 L200.9,276.8 L202.0,279.1 L203.5,280.1 L204.8,280.7 L205.8,278.8 L206.5,279.6 L207.8,280.6 L208.9,280.0" fill="none" stroke="#d62728" stroke-width="10.0" stroke-linejoin="round" stroke-linecap="round" stroke-opacity="0.3"/>
<path d="M196.6,277.2 L198.3,280.1 L199.0,280.5 L200.4,277.9 L200.9,276.8 L202.0,279.1 L203.5,280.1 L204.8,280.7 L205.8,278.8 L206.5,279.6 L207.8,280.6 L208.9,280.0" fill="none" stroke="#d62728" stroke-width="7.0" stroke-linejoin="round" stroke-linecap="round" stroke-opacity="1.0"/>
<path d="M225.2,267.2 L225.3,267.7 L225.5,268.7 L225.6,270.2 L225.7,272.0 L225.8,272.8 L226.2,274.5 L226.3,275.8 L226.3,276.5 L226.4,277.6 L226.7,278.5 L226.6,280.2 L226.8,281.7 L226.8,282.9 L226.7,284.1 L227.1,285.8 L227.1,286.5 L227.2,288.0 L227.4,289.6 L227.2,290.6 L227.5,292.4 L227.5,293.1" fill="none" stroke="#d62728" stroke-width="4.0" stroke-linejoin="round" stroke-linecap="round" stroke-opacity="0.6"/>
<path d="M137.7,286.6 L144.3,288.7 L148.7,284.4 L155.3,277.8 L161.8,273.4 L166.2,288.7 L166.2,304.1 L164.0,330.4 L159.6,336.9 L155.3,321.6 L148.7,312.8 L144.3,317.2 L137.7,321.6Z" fill="#1f77b4" fill-opacity="0.25" stroke="none" filter="url(#blur2)"/>
<line x1="161.2" y1="347.9" x2="161.2" y2="380.7" stroke="#1f77b4" stroke-width="3.5" stroke-opacity="0.3" stroke-linecap="round" stroke-dasharray="0.6 2.2"/>
<line x1="164.0" y1="255.9" x2="164.0" y2="299.7" stroke="#1f77b4" stroke-width="3.0" stroke-opacity="0.25" stroke-linecap="round" stroke-dasharray="0.6 2.2"/>
<line x1="157.5" y1="271.2" x2="157.5" y2="299.7" stroke="#1f77b4" stroke-width="3.0" stroke-opacity="0.25" stroke-linecap="round" stroke-dasharray="0.6 2.2"/>
<path d="M83.0,277.3 L83.1,276.6 L83.3,274.9 L83.3,274.2 L83.4,273.3 L83.5,271.9 L83.8,270.3 L83.8,269.8 L84.0,267.6 L84.1,266.8" fill="none" stroke="#1f77b4" stroke-width="4.0" stroke-linejoin="round" stroke-linecap="round" stroke-opacity="1.0"/>
<path d="M83.8,267.0 L84.7,266.3 L85.2,264.7" fill="none" stroke="#1f77b4" stroke-width="8.5" stroke-linejoin="round" stroke-linecap="round" stroke-opacity="0.3"/>
<path d="M83.8,267.0 L84.7,266.3 L85.2,264.7" fill="none" stroke="#1f77b4" stroke-width="5.5" stroke-linejoin="round" stroke-linecap="round" stroke-opacity="1.0"/>
<path d="M85.1,264.2 L85.4,266.4 L85.6,267.6 L85.9,268.6 L86.0,270.3 L86.3,271.3 L86.4,270.2 L86.6,268.2 L86.8,267.1 L86.7,265.8 L87.2,265.4 L87.1,264.2 L87.5,262.9 L87.8,264.2 L88.0,264.8 L88.4,266.4 L88.5,268.0 L88.8,268.7 L88.8,270.4 L88.9,272.1 L89.1,273.2 L89.2,274.1 L89.5,275.3 L89.3,276.6 L89.4,278.1 L89.9,278.6 L89.8,280.6 L90.2,281.2 L90.4,282.8 L90.6,284.0 L91.0,286.1 L91.3,287.4 L91.7,288.4 L92.1,287.3 L92.6,285.8 L92.8,284.5 L93.0,286.0 L93.4,286.6 L93.6,288.3 L93.6,289.9 L93.9,291.2 L93.9,292.5 L94.2,293.7 L94.5,294.9 L94.7,295.8 L94.8,296.6 L94.8,298.5 L95.2,299.8 L95.2,301.5 L95.5,302.1 L95.7,303.9 L95.7,305.2 L95.8,306.5 L95.9,306.7 L96.2,308.9 L96.1,307.2 L96.4,306.1 L96.3,304.8 L96.3,303.7 L96.6,302.0 L96.6,301.4 L96.4,299.6 L96.8,298.6 L96.6,297.6 L96.8,296.3 L97.0,295.2 L97.0,293.5 L97.1,292.9 L97.0,290.9 L97.2,289.6 L97.2,288.7" fill="none" stroke="#1f77b4" stroke-width="4.0" stroke-linejoin="round" stroke-linecap="round" stroke-opacity="1.0"/>
<path d="M97.4,289.5 L97.5,289.1 L98.2,290.4 L98.7,291.0 L99.4,293.1" fill="none" stroke="#1f77b4" stroke-width="8.5" stroke-linejoin="round" stroke-linecap="round" stroke-opacity="0.3"/>
<path d="M97.4,289.5 L97.5,289.1 L98.2,290.4 L98.7,291.0 L99.4,293.1" fill="none" stroke="#1f77b4" stroke-width="5.5" stroke-linejoin="round" stroke-linecap="round" stroke-opacity="1.0"/>
<path d="M99.3,292.6 L99.6,292.0 L100.0,290.4 L100.1,289.5 L100.4,288.3 L100.5,286.6 L100.8,284.6 L101.2,283.9 L101.6,282.2" fill="none" stroke="#1f77b4" stroke-width="4.0" stroke-linejoin="round" stroke-linecap="round" stroke-opacity="1.0"/>
<path d="M101.3,281.9 L102.3,283.9 L102.7,284.4" fill="none" stroke="#1f77b4" stroke-width="8.5" stroke-linejoin="round" stroke-linecap="round" stroke-opacity="0.3"/>
<path d="M101.3,281.9 L102.3,283.9 L102.7,284.4" fill="none" stroke="#1f77b4" stroke-width="5.5" stroke-linejoin="round" stroke-linecap="round" stroke-opacity="1.0"/>
<path d="M102.6,283.8 L102.8,286.2 L103.2,287.4 L103.4,288.9 L103.6,289.4 L103.8,290.9" fill="none" stroke="#1f77b4" stroke-width="4.0" stroke-linejoin="round" stroke-linecap="round" stroke-opacity="1.0"/>
<path d="M103.5,291.5 L104.6,292.5 L105.2,293.6 L106.3,293.2 L107.3,292.1 L107.9,292.5 L108.9,293.5 L111.5,293.6 L112.8,291.1 L113.3,291.1 L116.2,293.1 L116.9,291.0 L118.3,290.9 L120.1,291.6 L121.4,292.5 L122.5,291.8 L124.8,291.3 L125.9,293.6 L126.6,292.6 L127.6,292.6 L129.0,294.1 L129.9,296.0 L130.9,295.3 L132.6,297.8 L133.2,298.2 L134.2,299.4 L135.6,299.7" fill="none" stroke="#1f77b4" stroke-width="8.5" stroke-linejoin="round" stroke-linecap="round" stroke-opacity="0.3"/>
<path d="M103.5,291.5 L104.6,292.5 L105.2,293.6 L106.3,293.2 L107.3,292.1 L107.9,292.5 L108.9,293.5 L111.5,293.6 L112.8,291.1 L113.3,291.1 L116.2,293.1 L116.9,291.0 L118.3,290.9 L120.1,291.6 L121.4,292.5 L122.5,291.8 L124.8,291.3 L125.9,293.6 L126.6,292.6 L127.6,292.6 L129.0,294.1 L129.9,296.0 L130.9,295.3 L132.6,297.8 L133.2,298.2 L134.2,299.4 L135.6,299.7" fill="none" stroke="#1f77b4" stroke-width="5.5" stroke-linejoin="round" stroke-linecap="round" stroke-opacity="1.0"/>
<path d="M135.6,299.2 L135.9,298.1 L136.3,297.3 L136.7,295.8 L137.0,296.9 L137.2,298.0 L137.9,299.5 L138.0,300.4 L138.2,302.7 L138.5,303.4 L138.6,304.6 L138.9,305.9 L139.1,308.0 L139.0,309.2 L139.4,309.7 L139.3,311.6 L139.5,312.7 L139.7,314.2 L140.1,315.5 L140.3,314.2 L140.2,312.1 L140.5,311.6 L140.6,309.6 L140.7,308.9 L140.7,307.6 L141.0,306.4 L141.2,305.0 L141.4,303.6 L141.5,302.0 L141.8,300.5 L142.1,299.7" fill="none" stroke="#1f77b4" stroke-width="4.0" stroke-linejoin="round" stroke-linecap="round" stroke-opacity="1.0"/>
<path d="M142.0,300.6 L142.6,301.5 L143.2,302.1 L143.7,299.8 L144.1,300.4 L144.7,299.7 L145.4,297.5" fill="none" stroke="#1f77b4" stroke-width="8.5" stroke-linejoin="round" stroke-linecap="round" stroke-opacity="0.3"/>
<path d="M142.0,300.6 L142.6,301.5 L143.2,302.1 L143.7,299.8 L144.1,300.4 L144.7,299.7 L145.4,297.5" fill="none" stroke="#1f77b4" stroke-width="5.5" stroke-linejoin="round" stroke-linecap="round" stroke-opacity="1.0"/>
<path d="M145.5,297.9 L145.5,295.7 L145.7,295.3 L146.2,293.3 L146.3,292.6 L146.3,291.0 L146.7,292.0 L147.2,294.3 L147.5,295.5 L148.1,296.6 L148.3,298.3 L148.7,299.7" fill="none" stroke="#1f77b4" stroke-width="4.0" stroke-linejoin="round" stroke-linecap="round" stroke-opacity="1.0"/>
<path d="M148.9,299.3 L148.9,300.2 L149.8,301.9" fill="none" stroke="#1f77b4" stroke-width="8.5" stroke-linejoin="round" stroke-linecap="round" stroke-opacity="0.3"/>
<path d="M148.9,299.3 L148.9,300.2 L149.8,301.9" fill="none" stroke="#1f77b4" stroke-width="5.5" stroke-linejoin="round" stroke-linecap="round" stroke-opacity="1.0"/>
<path d="M149.9,301.9 L150.3,302.9 L150.4,305.3 L150.9,306.3" fill="none" stroke="#1f77b4" stroke-width="4.0" stroke-linejoin="round" stroke-linecap="round" stroke-opacity="1.0"/>
<path d="M150.5,306.3 L151.5,306.2 L152.0,304.1" fill="none" stroke="#1f77b4" stroke-width="8.5" stroke-linejoin="round" stroke-linecap="round" stroke-opacity="0.3"/>
<path d="M150.5,306.3 L151.5,306.2 L152.0,304.1" fill="none" stroke="#1f77b4" stroke-width="5.5" stroke-linejoin="round" stroke-linecap="round" stroke-opacity="1.0"/>
<path d="M151.8,304.0 L152.2,302.8 L152.6,301.3 L153.1,299.7" fill="none" stroke="#1f77b4" stroke-width="4.0" stroke-linejoin="round" stroke-linecap="round" stroke-opacity="1.0"/>
<path d="M153.1,299.7 L153.3,298.2 L154.2,297.5" fill="none" stroke="#1f77b4" stroke-width="8.5" stroke-linejoin="round" stroke-linecap="round" stroke-opacity="0.3"/>
<path d="M153.1,299.7 L153.3,298.2 L154.2,297.5" fill="none" stroke="#1f77b4" stroke-width="5.5" stroke-linejoin="round" stroke-linecap="round" stroke-opacity="1.0"/>
<path d="M154.3,297.6 L154.5,298.9 L154.8,300.2 L155.2,301.7 L155.4,302.6 L155.8,304.5 L156.0,305.2 L156.1,307.5 L156.4,309.0 L156.7,309.2 L156.9,310.7 L157.1,312.5 L157.1,313.4 L157.6,315.1 L157.5,316.6 L157.7,317.4 L157.6,318.1 L158.0,319.8 L158.2,321.3 L158.1,321.9 L158.2,323.3 L158.4,325.2 L158.5,325.8 L158.6,327.8 L158.7,328.6 L158.9,330.2 L159.1,330.9 L159.2,332.0 L159.3,333.8 L159.3,334.8 L159.4,336.5 L159.6,338.0 L159.7,339.0 L159.9,340.8 L160.0,342.2 L160.2,343.0 L160.3,343.7 L160.3,345.8 L160.5,346.4 L160.7,347.5 L160.8,349.2 L160.8,350.7 L161.1,351.7 L161.3,352.7 L161.3,354.0 L161.4,355.8 L161.2,357.1 L161.5,355.9 L161.6,354.3 L161.5,352.6 L161.6,351.2 L161.8,350.7 L161.7,349.0 L162.0,347.6 L161.9,347.2 L162.0,345.7 L162.2,343.7 L162.1,343.1 L162.3,342.2 L162.1,340.2 L162.3,339.4 L162.3,337.7 L162.4,336.4 L162.5,335.2 L162.7,334.7 L162.7,333.1 L162.5,332.6 L162.7,330.7 L162.6,329.6 L162.9,327.9 L162.9,327.1 L162.9,326.2 L163.1,324.9 L163.2,323.7 L163.1,322.3 L163.2,321.6 L163.2,319.8 L163.4,318.3 L163.4,317.3 L163.7,315.9 L163.5,314.6 L163.6,314.0 L163.5,312.4 L163.6,310.7 L163.8,310.4 L163.7,309.2 L164.0,308.0 L163.9,306.3 L164.4,305.4 L164.3,304.2 L164.8,302.7 L164.9,301.4 L165.1,299.7" fill="none" stroke="#1f77b4" stroke-width="4.0" stroke-linejoin="round" stroke-linecap="round" stroke-opacity="1.0"/>
<path d="M165.4,299.2 L165.5,297.6 L166.2,297.5" fill="none" stroke="#1f77b4" stroke-width="8.5" stroke-linejoin="round" stroke-linecap="round" stroke-opacity="0.3"/>
<path d="M165.4,299.2 L165.5,297.6 L166.2,297.5" fill="none" stroke="#1f77b4" stroke-width="5.5" stroke-linejoin="round" stroke-linecap="round" stroke-opacity="1.0"/>
<path d="M166.1,297.5 L166.3,295.6 L166.5,295.2 L166.8,293.6 L167.0,292.1 L167.3,291.0 L167.8,289.3 L168.1,287.4 L168.4,286.6" fill="none" stroke="#1f77b4" stroke-width="4.0" stroke-linejoin="round" stroke-linecap="round" stroke-opacity="1.0"/>
<path d="M168.2,287.1 L168.6,288.0 L169.5,288.7" fill="none" stroke="#1f77b4" stroke-width="8.5" stroke-linejoin="round" stroke-linecap="round" stroke-opacity="0.3"/>
<path d="M168.2,287.1 L168.6,288.0 L169.5,288.7" fill="none" stroke="#1f77b4" stroke-width="5.5" stroke-linejoin="round" stroke-linecap="round" stroke-opacity="1.0"/>
<path d="M169.5,288.7 L169.9,287.2 L170.3,286.1 L170.6,284.4" fill="none" stroke="#1f77b4" stroke-width="4.0" stroke-linejoin="round" stroke-linecap="round" stroke-opacity="1.0"/>
<path d="M170.5,283.9 L171.6,284.8 L172.7,285.9 L173.7,286.9 L175.2,289.0 L176.1,286.8 L177.1,285.8 L177.6,288.3 L178.0,287.8 L178.5,290.0 L179.1,291.7 L180.7,291.5 L181.5,293.1" fill="none" stroke="#1f77b4" stroke-width="8.5" stroke-linejoin="round" stroke-linecap="round" stroke-opacity="0.3"/>
<path d="M170.5,283.9 L171.6,284.8 L172.7,285.9 L173.7,286.9 L175.2,289.0 L176.1,286.8 L177.1,285.8 L177.6,288.3 L178.0,287.8 L178.5,290.0 L179.1,291.7 L180.7,291.5 L181.5,293.1" fill="none" stroke="#1f77b4" stroke-width="5.5" stroke-linejoin="round" stroke-linecap="round" stroke-opacity="1.0"/>
<path d="M181.6,292.6 L182.0,292.1 L182.2,290.6 L182.6,288.7" fill="none" stroke="#1f77b4" stroke-width="4.0" stroke-linejoin="round" stroke-linecap="round" stroke-opacity="1.0"/>
<path d="M182.5,289.3 L183.0,288.3 L184.0,287.6 L184.9,285.0 L186.1,285.3 L186.7,282.7 L186.8,281.1 L187.8,282.1 L187.8,280.5 L188.8,281.2 L189.1,281.2 L189.6,284.0 L190.7,284.6 L191.4,284.6 L192.7,287.2 L194.7,287.0 L195.8,287.5 L196.9,288.2 L198.0,286.4 L198.7,285.4 L199.8,286.7 L201.0,284.8 L202.2,286.3 L203.1,286.0 L204.8,286.1 L205.8,287.2 L206.9,286.1 L207.9,286.8 L208.9,285.8 L210.0,284.4" fill="none" stroke="#1f77b4" stroke-width="8.5" stroke-linejoin="round" stroke-linecap="round" stroke-opacity="0.3"/>
<path d="M182.5,289.3 L183.0,288.3 L184.0,287.6 L184.9,285.0 L186.1,285.3 L186.7,282.7 L186.8,281.1 L187.8,282.1 L187.8,280.5 L188.8,281.2 L189.1,281.2 L189.6,284.0 L190.7,284.6 L191.4,284.6 L192.7,287.2 L194.7,287.0 L195.8,287.5 L196.9,288.2 L198.0,286.4 L198.7,285.4 L199.8,286.7 L201.0,284.8 L202.2,286.3 L203.1,286.0 L204.8,286.1 L205.8,287.2 L206.9,286.1 L207.9,286.8 L208.9,285.8 L210.0,284.4" fill="none" stroke="#1f77b4" stroke-width="5.5" stroke-linejoin="round" stroke-linecap="round" stroke-opacity="1.0"/>
<path d="M210.1,284.7 L210.1,282.9 L210.6,282.1 L210.6,280.9 L211.0,279.0 L211.1,277.8" fill="none" stroke="#1f77b4" stroke-width="4.0" stroke-linejoin="round" stroke-linecap="round" stroke-opacity="1.0"/>
<path d="M211.0,277.9 L211.8,278.8 L212.2,280.0" fill="none" stroke="#1f77b4" stroke-width="8.5" stroke-linejoin="round" stroke-linecap="round" stroke-opacity="0.3"/>
<path d="M211.0,277.9 L211.8,278.8 L212.2,280.0" fill="none" stroke="#1f77b4" stroke-width="5.5" stroke-linejoin="round" stroke-linecap="round" stroke-opacity="1.0"/>
<path d="M212.4,280.5 L212.6,281.6 L212.6,283.1 L212.9,284.4 L213.1,284.8 L213.3,286.6" fill="none" stroke="#1f77b4" stroke-width="4.0" stroke-linejoin="round" stroke-linecap="round" stroke-opacity="1.0"/>
<path d="M213.0,286.0 L214.0,286.8 L214.4,288.7" fill="none" stroke="#1f77b4" stroke-width="8.5" stroke-linejoin="round" stroke-linecap="round" stroke-opacity="0.3"/>
<path d="M213.0,286.0 L214.0,286.8 L214.4,288.7" fill="none" stroke="#1f77b4" stroke-width="5.5" stroke-linejoin="round" stroke-linecap="round" stroke-opacity="1.0"/>
<path d="M214.3,289.0 L214.6,290.2 L214.9,290.9 L215.2,292.8 L215.2,294.4 L215.6,295.1 L215.6,294.4 L215.6,293.1 L215.9,291.1 L216.0,291.0 L215.9,288.9 L216.2,287.6 L216.2,286.5 L216.6,286.1 L216.5,283.9 L216.8,283.2 L217.2,281.7 L217.2,280.1 L217.4,279.5 L217.6,277.7 L218.0,276.4 L218.3,274.6 L218.8,273.4" fill="none" stroke="#1f77b4" stroke-width="4.0" stroke-linejoin="round" stroke-linecap="round" stroke-opacity="1.0"/>
<path d="M218.9,272.5 L219.5,274.6 L219.9,275.6" fill="none" stroke="#1f77b4" stroke-width="8.5" stroke-linejoin="round" stroke-linecap="round" stroke-opacity="0.3"/>
<path d="M218.9,272.5 L219.5,274.6 L219.9,275.6" fill="none" stroke="#1f77b4" stroke-width="5.5" stroke-linejoin="round" stroke-linecap="round" stroke-opacity="1.0"/>
<path d="M219.8,275.9 L219.9,274.5 L220.3,272.6 L220.5,271.5 L220.8,270.9 L220.9,268.4 L221.2,267.6 L221.4,266.7 L221.5,265.5 L221.9,263.4 L222.2,262.9 L222.3,264.0 L222.5,265.2 L222.6,266.0 L222.5,267.9 L222.9,269.0 L223.1,269.9 L223.1,271.3 L223.5,272.0 L223.6,273.5 L223.8,275.3 L224.1,276.1 L224.2,277.8" fill="none" stroke="#1f77b4" stroke-width="4.0" stroke-linejoin="round" stroke-linecap="round" stroke-opacity="1.0"/>
<path d="M224.3,278.0 L225.0,276.1 L225.3,275.6" fill="none" stroke="#1f77b4" stroke-width="8.5" stroke-linejoin="round" stroke-linecap="round" stroke-opacity="0.3"/>
<path d="M224.3,278.0 L225.0,276.1 L225.3,275.6" fill="none" stroke="#1f77b4" stroke-width="5.5" stroke-linejoin="round" stroke-linecap="round" stroke-opacity="1.0"/>
<path d="M225.2,276.0 L225.7,276.3 L225.9,278.3 L225.8,279.0 L226.1,280.5 L226.3,282.6 L226.8,283.2 L227.2,285.3 L227.5,286.6" fill="none" stroke="#1f77b4" stroke-width="4.0" stroke-linejoin="round" stroke-linecap="round" stroke-opacity="1.0"/>
<path d="M227.2,286.3 L228.0,285.3 L228.6,284.4" fill="none" stroke="#1f77b4" stroke-width="8.5" stroke-linejoin="round" stroke-linecap="round" stroke-opacity="0.3"/>
<path d="M227.2,286.3 L228.0,285.3 L228.6,284.4" fill="none" stroke="#1f77b4" stroke-width="5.5" stroke-linejoin="round" stroke-linecap="round" stroke-opacity="1.0"/>
<path d="M228.8,284.4 L229.0,282.3 L229.5,281.9 L229.6,280.3 L229.8,281.6 L230.3,282.3 L230.4,283.9 L230.7,285.7 L230.8,286.6" fill="none" stroke="#1f77b4" stroke-width="4.0" stroke-linejoin="round" stroke-linecap="round" stroke-opacity="1.0"/>
<path d="M230.6,285.7 L231.6,285.8 L233.0,284.4" fill="none" stroke="#1f77b4" stroke-width="8.5" stroke-linejoin="round" stroke-linecap="round" stroke-opacity="0.3"/>
<path d="M230.6,285.7 L231.6,285.8 L233.0,284.4" fill="none" stroke="#1f77b4" stroke-width="5.5" stroke-linejoin="round" stroke-linecap="round" stroke-opacity="1.0"/>
<path d="M137.7,290.9 L144.3,293.1 L148.7,288.7 L155.3,290.9 L159.6,299.7 L164.0,295.3 L167.3,290.9 L167.3,299.7 L165.1,310.6 L161.8,328.2 L158.5,336.9 L155.3,330.4 L150.9,326.0 L146.5,319.4 L142.1,321.6 L137.7,306.3Z" fill="#1f77b4" fill-opacity="0.5" stroke="none" filter="url(#blur2)"/>
</g>
<g class="an" font-size="10" fill="#1f77b4" color="#1f77b4"><text x="83.5" y="242.9">M1: MEAN 0.87</text><text x="111.0" y="253.4">STD 0.17</text></g>
<g class="an" font-size="10" fill="#d62728" color="#d62728"><text x="83.5" y="262.3">M7: MEAN 0.83</text><text x="111.0" y="272.8">STD 0.19</text></g>
<rect x="83.1" y="234.2" width="149.3" height="147.5" fill="none" stroke="#000" stroke-width="1.6"/>
<line x1="76.1" y1="234.2" x2="83.1" y2="234.2" stroke="#000" stroke-width="1.6"/>
<text x="68.9" y="241.7" font-size="20" text-anchor="end">1.70</text>
<line x1="76.1" y1="255.3" x2="83.1" y2="255.3" stroke="#000" stroke-width="1.6"/>
<text x="68.9" y="262.8" font-size="20" text-anchor="end">1.40</text>
<line x1="76.1" y1="276.3" x2="83.1" y2="276.3" stroke="#000" stroke-width="1.6"/>
<text x="68.9" y="283.8" font-size="20" text-anchor="end">1.10</text>
<line x1="76.1" y1="297.4" x2="83.1" y2="297.4" stroke="#000" stroke-width="1.6"/>
<text x="68.9" y="304.9" font-size="20" text-anchor="end">0.80</text>
<line x1="76.1" y1="318.5" x2="83.1" y2="318.5" stroke="#000" stroke-width="1.6"/>
<text x="68.9" y="326.0" font-size="20" text-anchor="end">0.50</text>
<line x1="76.1" y1="339.6" x2="83.1" y2="339.6" stroke="#000" stroke-width="1.6"/>
<text x="68.9" y="347.1" font-size="20" text-anchor="end">0.20</text>
<line x1="76.1" y1="360.6" x2="83.1" y2="360.6" stroke="#000" stroke-width="1.6"/>
<text x="68.9" y="368.1" font-size="20" text-anchor="end">-0.10</text>
<line x1="76.1" y1="381.7" x2="83.1" y2="381.7" stroke="#000" stroke-width="1.6"/>
<text x="68.9" y="389.2" font-size="20" text-anchor="end">-0.40</text>
<line x1="83.1" y1="381.7" x2="83.1" y2="388.7" stroke="#000" stroke-width="1.6"/>
<line x1="120.4" y1="381.7" x2="120.4" y2="388.7" stroke="#000" stroke-width="1.6"/>
<line x1="157.8" y1="381.7" x2="157.8" y2="388.7" stroke="#000" stroke-width="1.6"/>
<line x1="195.1" y1="381.7" x2="195.1" y2="388.7" stroke="#000" stroke-width="1.6"/>
<line x1="232.4" y1="381.7" x2="232.4" y2="388.7" stroke="#000" stroke-width="1.6"/>
<text x="157.8" y="222.3" font-size="20.3" text-anchor="middle">+X [absp.&amp;diff.]</text>
<clipPath id="c11"><rect x="304.2" y="234.2" width="149.3" height="147.5"/></clipPath>
<rect x="335.1" y="234.2" width="87.7" height="147.5" fill="#e5e5e5" stroke="#d3d3d3" stroke-width="1.6"/>
<g clip-path="url(#c11)">
<path d="M356.6,288.7 L359.8,269.0 L363.1,282.2 L369.7,290.9 L376.3,299.7 L380.6,286.6 L387.2,293.1 L391.6,310.6 L391.6,332.5 L385.0,317.2 L378.5,317.2 L371.9,321.6 L368.6,345.7 L365.3,326.0 L360.9,321.6 L356.6,317.2Z" fill="#d62728" fill-opacity="0.3" stroke="none" filter="url(#blur2)"/>
<line x1="368.6" y1="326.0" x2="368.6" y2="345.7" stroke="#d62728" stroke-width="3.5" stroke-opacity="0.35" stroke-linecap="round" stroke-dasharray="0.6 2.2"/>
<line x1="367.5" y1="310.6" x2="367.5" y2="330.4" stroke="#d62728" stroke-width="3.5" stroke-opacity="0.3" stroke-linecap="round" stroke-dasharray="0.6 2.2"/>
<line x1="360.9" y1="269.0" x2="360.9" y2="286.6" stroke="#d62728" stroke-width="3.5" stroke-opacity="0.3" stroke-linecap="round" stroke-dasharray="0.6 2.2"/>
<line x1="416.8" y1="347.9" x2="416.8" y2="359.9" stroke="#d62728" stroke-width="3.5" stroke-opacity="0.3" stroke-linecap="round" stroke-dasharray="0.6 2.2"/>
<path d="M326.2,318.0 L326.7,315.3 L328.4,313.8 L329.6,315.2 L330.7,311.4 L331.3,314.0 L332.3,312.5 L333.6,313.3 L334.6,315.6 L335.7,314.6 L337.1,316.0 L338.0,316.9 L339.4,315.3 L340.2,316.6 L341.5,318.6 L342.6,317.3 L343.0,318.6 L344.5,316.8 L345.9,318.5 L346.3,316.2 L347.8,315.0" fill="none" stroke="#d62728" stroke-width="9.0" stroke-linejoin="round" stroke-linecap="round" stroke-opacity="0.3"/>
<path d="M326.2,318.0 L326.7,315.3 L328.4,313.8 L329.6,315.2 L330.7,311.4 L331.3,314.0 L332.3,312.5 L333.6,313.3 L334.6,315.6 L335.7,314.6 L337.1,316.0 L338.0,316.9 L339.4,315.3 L340.2,316.6 L341.5,318.6 L342.6,317.3 L343.0,318.6 L344.5,316.8 L345.9,318.5 L346.3,316.2 L347.8,315.0" fill="none" stroke="#d62728" stroke-width="6.0" stroke-linejoin="round" stroke-linecap="round" stroke-opacity="1.0"/>
<path d="M347.9,315.0 L347.9,313.8 L348.1,312.1 L348.3,310.7 L348.2,309.4 L348.7,309.2 L348.9,307.0 L348.9,306.3" fill="none" stroke="#d62728" stroke-width="4.0" stroke-linejoin="round" stroke-linecap="round" stroke-opacity="0.6"/>
<path d="M349.0,304.8 L349.3,304.7 L349.8,304.4 L350.3,302.5 L350.5,301.9 L351.0,300.5 L352.5,298.9 L352.7,299.0 L353.7,298.3 L353.8,299.0 L354.7,300.6 L354.7,300.4 L354.9,302.4 L355.5,304.1" fill="none" stroke="#d62728" stroke-width="9.0" stroke-linejoin="round" stroke-linecap="round" stroke-opacity="0.3"/>
<path d="M349.0,304.8 L349.3,304.7 L349.8,304.4 L350.3,302.5 L350.5,301.9 L351.0,300.5 L352.5,298.9 L352.7,299.0 L353.7,298.3 L353.8,299.0 L354.7,300.6 L354.7,300.4 L354.9,302.4 L355.5,304.1" fill="none" stroke="#d62728" stroke-width="6.0" stroke-linejoin="round" stroke-linecap="round" stroke-opacity="1.0"/>
<path d="M355.4,303.9 L355.6,305.6 L355.9,306.4 L356.1,308.6 L356.4,308.9 L356.6,310.6" fill="none" stroke="#d62728" stroke-width="4.0" stroke-linejoin="round" stroke-linecap="round" stroke-opacity="0.6"/>
<path d="M356.4,311.5 L356.9,310.6 L357.5,307.9 L357.6,306.3" fill="none" stroke="#d62728" stroke-width="9.0" stroke-linejoin="round" stroke-linecap="round" stroke-opacity="0.3"/>
<path d="M356.4,311.5 L356.9,310.6 L357.5,307.9 L357.6,306.3" fill="none" stroke="#d62728" stroke-width="6.0" stroke-linejoin="round" stroke-linecap="round" stroke-opacity="1.0"/>
<path d="M357.7,306.4 L357.6,305.4 L357.9,304.0 L357.9,302.9 L358.1,301.3 L358.2,300.3 L358.0,298.2 L358.0,298.1 L358.4,296.0 L358.3,294.7 L358.6,293.2 L358.4,292.3 L358.4,290.7 L358.7,290.3 L358.7,289.2 L358.9,287.0 L358.9,286.1 L359.2,285.4 L359.2,284.3 L359.2,282.6 L359.6,281.7 L359.5,280.2 L359.6,279.3 L359.7,277.6 L360.1,276.4 L360.0,275.7 L360.4,273.6 L360.4,272.3 L360.6,271.0 L360.5,272.8 L360.5,273.2 L360.9,275.2 L361.0,276.6 L361.1,277.9 L361.1,278.7 L361.1,279.9 L361.3,281.2 L361.4,282.2" fill="none" stroke="#d62728" stroke-width="4.0" stroke-linejoin="round" stroke-linecap="round" stroke-opacity="0.6"/>
<path d="M361.6,283.5 L361.5,283.2 L362.0,284.9 L361.7,286.0 L362.3,288.8 L363.2,288.4 L363.4,291.5 L363.9,292.8 L364.2,293.1" fill="none" stroke="#d62728" stroke-width="9.0" stroke-linejoin="round" stroke-linecap="round" stroke-opacity="0.3"/>
<path d="M361.6,283.5 L361.5,283.2 L362.0,284.9 L361.7,286.0 L362.3,288.8 L363.2,288.4 L363.4,291.5 L363.9,292.8 L364.2,293.1" fill="none" stroke="#d62728" stroke-width="6.0" stroke-linejoin="round" stroke-linecap="round" stroke-opacity="1.0"/>
<path d="M364.1,293.0 L364.3,294.6 L364.6,296.3 L365.0,296.6 L365.0,298.7 L365.4,300.2 L365.3,301.5 L365.4,302.5 L365.7,304.0 L365.7,305.5 L366.0,305.9 L365.8,307.2 L366.0,309.4 L366.0,310.5 L366.3,311.5 L366.5,313.1 L366.5,314.4 L366.5,315.0 L366.9,316.3 L366.8,318.6 L366.9,319.7 L367.2,320.7 L367.3,321.8 L367.3,323.1 L367.4,325.2 L367.5,325.4 L367.6,327.1 L367.5,328.3 L367.8,329.4 L367.9,331.0 L368.0,332.8 L367.9,333.5 L368.2,334.3 L368.1,336.1 L368.3,337.4 L368.4,338.6 L368.3,339.2 L368.3,341.4 L368.4,342.1 L368.6,343.3 L368.7,341.7 L368.7,341.0 L368.7,339.2 L369.0,338.8 L368.9,336.9 L369.1,336.2 L369.1,335.3 L369.3,333.7 L369.2,331.8 L369.3,331.1 L369.3,330.3 L369.5,328.7 L369.7,327.7 L369.8,325.5 L369.8,324.8 L369.8,322.9 L370.2,322.1 L370.2,320.9 L370.2,319.5 L370.4,317.8 L370.4,316.9 L370.7,315.6 L370.7,314.0 L371.0,312.4 L371.0,311.7 L371.4,310.4 L371.4,309.1 L371.6,307.2 L372.0,306.6 L372.0,304.4 L372.2,303.9 L372.6,301.8 L372.7,300.6 L373.0,299.7" fill="none" stroke="#d62728" stroke-width="4.0" stroke-linejoin="round" stroke-linecap="round" stroke-opacity="0.6"/>
<path d="M372.8,300.0 L373.0,301.4 L373.7,304.0 L373.7,304.2 L374.2,306.9 L374.7,307.0 L375.4,308.3 L375.2,311.1 L375.7,312.2 L376.3,312.8" fill="none" stroke="#d62728" stroke-width="9.0" stroke-linejoin="round" stroke-linecap="round" stroke-opacity="0.3"/>
<path d="M372.8,300.0 L373.0,301.4 L373.7,304.0 L373.7,304.2 L374.2,306.9 L374.7,307.0 L375.4,308.3 L375.2,311.1 L375.7,312.2 L376.3,312.8" fill="none" stroke="#d62728" stroke-width="6.0" stroke-linejoin="round" stroke-linecap="round" stroke-opacity="1.0"/>
<path d="M376.1,313.2 L376.3,311.2 L376.6,310.8 L376.9,308.5 L377.3,308.0 L377.5,306.1 L377.7,305.2 L377.9,303.5 L378.1,301.9 L378.1,300.5 L378.5,299.7" fill="none" stroke="#d62728" stroke-width="4.0" stroke-linejoin="round" stroke-linecap="round" stroke-opacity="0.6"/>
<path d="M378.5,300.0 L378.7,297.6 L379.4,296.8 L379.6,295.6 L380.0,292.4 L380.4,292.3 L380.6,290.9" fill="none" stroke="#d62728" stroke-width="9.0" stroke-linejoin="round" stroke-linecap="round" stroke-opacity="0.3"/>
<path d="M378.5,300.0 L378.7,297.6 L379.4,296.8 L379.6,295.6 L380.0,292.4 L380.4,292.3 L380.6,290.9" fill="none" stroke="#d62728" stroke-width="6.0" stroke-linejoin="round" stroke-linecap="round" stroke-opacity="1.0"/>
<path d="M380.5,291.4 L380.9,292.4 L380.9,293.1 L381.2,294.4 L381.3,295.8 L381.5,297.4 L381.4,299.0 L381.9,300.2 L382.1,300.5 L382.2,301.9 L382.5,304.0 L382.6,304.7 L382.8,306.3" fill="none" stroke="#d62728" stroke-width="4.0" stroke-linejoin="round" stroke-linecap="round" stroke-opacity="0.6"/>
<path d="M382.4,305.7 L383.4,308.3 L383.8,309.0 L383.9,310.6" fill="none" stroke="#d62728" stroke-width="9.0" stroke-linejoin="round" stroke-linecap="round" stroke-opacity="0.3"/>
<path d="M382.4,305.7 L383.4,308.3 L383.8,309.0 L383.9,310.6" fill="none" stroke="#d62728" stroke-width="6.0" stroke-linejoin="round" stroke-linecap="round" stroke-opacity="1.0"/>
<path d="M384.1,310.2 L384.1,308.8 L384.1,308.1 L384.4,307.0 L384.5,305.9 L384.6,305.0 L385.0,303.3 L385.0,301.9" fill="none" stroke="#d62728" stroke-width="4.0" stroke-linejoin="round" stroke-linecap="round" stroke-opacity="0.6"/>
<path d="M385.0,301.4 L385.0,299.3 L385.8,298.2 L386.2,297.6 L386.5,297.5 L387.5,296.5 L387.3,298.0 L387.6,298.5 L388.2,300.5 L388.6,296.8 L389.4,297.9 L389.4,295.3" fill="none" stroke="#d62728" stroke-width="9.0" stroke-linejoin="round" stroke-linecap="round" stroke-opacity="0.3"/>
<path d="M385.0,301.4 L385.0,299.3 L385.8,298.2 L386.2,297.6 L386.5,297.5 L387.5,296.5 L387.3,298.0 L387.6,298.5 L388.2,300.5 L388.6,296.8 L389.4,297.9 L389.4,295.3" fill="none" stroke="#d62728" stroke-width="6.0" stroke-linejoin="round" stroke-linecap="round" stroke-opacity="1.0"/>
<path d="M389.3,295.6 L389.4,296.6 L389.6,298.2 L389.9,298.8 L390.2,299.8 L390.3,301.0 L390.5,302.9 L390.4,304.1 L390.5,305.9 L390.5,306.5 L390.7,307.7 L390.9,309.2 L391.0,310.7 L390.9,311.5 L391.0,312.5 L391.3,314.2 L391.3,315.4 L391.4,317.0 L391.5,317.3 L391.3,319.2 L391.4,319.8 L391.6,321.6 L391.9,322.5 L391.9,324.0 L392.2,324.9 L392.0,326.2 L392.2,328.0 L392.4,329.1 L392.7,330.4" fill="none" stroke="#d62728" stroke-width="4.0" stroke-linejoin="round" stroke-linecap="round" stroke-opacity="0.6"/>
<path d="M392.3,330.3 L393.3,331.3 L393.8,334.5 L393.7,335.7 L394.0,337.3 L394.8,337.5 L395.3,337.7 L395.0,337.1 L396.0,336.9" fill="none" stroke="#d62728" stroke-width="9.0" stroke-linejoin="round" stroke-linecap="round" stroke-opacity="0.3"/>
<path d="M392.3,330.3 L393.3,331.3 L393.8,334.5 L393.7,335.7 L394.0,337.3 L394.8,337.5 L395.3,337.7 L395.0,337.1 L396.0,336.9" fill="none" stroke="#d62728" stroke-width="6.0" stroke-linejoin="round" stroke-linecap="round" stroke-opacity="1.0"/>
<path d="M396.0,337.5 L396.3,335.4 L396.2,333.8 L396.5,332.4 L396.8,331.2 L397.1,330.4" fill="none" stroke="#d62728" stroke-width="4.0" stroke-linejoin="round" stroke-linecap="round" stroke-opacity="0.6"/>
<path d="M397.0,330.9 L397.2,327.8 L397.9,327.8 L397.8,325.1 L398.4,326.9 L398.5,328.3 L399.5,330.9 L399.6,329.4 L400.1,326.9 L400.3,325.5 L400.7,323.3 L400.9,323.9 L401.1,321.2 L402.0,320.1 L402.1,318.5 L402.8,319.3 L403.3,317.4 L404.2,319.4 L404.0,320.9 L404.6,321.0 L404.8,322.2 L405.1,325.2 L405.7,326.9 L406.4,326.6 L406.8,328.7 L406.6,331.7 L407.1,332.1 L407.3,333.9 L408.1,333.7 L408.2,334.8 L409.3,337.8 L409.6,338.6 L410.0,340.3 L409.9,341.0 L410.8,341.8 L411.1,342.3 L411.3,345.3 L412.0,345.6 L412.0,349.3 L413.0,349.8 L412.7,351.7 L413.4,352.3 L414.2,354.6 L414.1,353.8 L414.3,358.0 L414.8,356.6 L415.5,359.4 L416.5,357.9 L416.7,356.6 L417.3,356.1 L417.3,352.4 L417.9,352.2" fill="none" stroke="#d62728" stroke-width="9.0" stroke-linejoin="round" stroke-linecap="round" stroke-opacity="0.3"/>
<path d="M397.0,330.9 L397.2,327.8 L397.9,327.8 L397.8,325.1 L398.4,326.9 L398.5,328.3 L399.5,330.9 L399.6,329.4 L400.1,326.9 L400.3,325.5 L400.7,323.3 L400.9,323.9 L401.1,321.2 L402.0,320.1 L402.1,318.5 L402.8,319.3 L403.3,317.4 L404.2,319.4 L404.0,320.9 L404.6,321.0 L404.8,322.2 L405.1,325.2 L405.7,326.9 L406.4,326.6 L406.8,328.7 L406.6,331.7 L407.1,332.1 L407.3,333.9 L408.1,333.7 L408.2,334.8 L409.3,337.8 L409.6,338.6 L410.0,340.3 L409.9,341.0 L410.8,341.8 L411.1,342.3 L411.3,345.3 L412.0,345.6 L412.0,349.3 L413.0,349.8 L412.7,351.7 L413.4,352.3 L414.2,354.6 L414.1,353.8 L414.3,358.0 L414.8,356.6 L415.5,359.4 L416.5,357.9 L416.7,356.6 L417.3,356.1 L417.3,352.4 L417.9,352.2" fill="none" stroke="#d62728" stroke-width="6.0" stroke-linejoin="round" stroke-linecap="round" stroke-opacity="1.0"/>
<path d="M417.9,352.6 L418.2,350.4 L418.2,350.2 L418.6,348.1 L418.6,347.3 L419.0,345.7" fill="none" stroke="#d62728" stroke-width="4.0" stroke-linejoin="round" stroke-linecap="round" stroke-opacity="0.6"/>
<path d="M419.3,346.2 L419.2,343.7 L419.9,344.8 L420.1,342.9 L420.5,339.8 L420.8,339.9 L422.0,339.3 L422.6,336.1 L422.8,339.5 L423.3,339.3 L423.2,341.5 L423.7,342.4 L423.7,345.5 L424.7,344.5 L424.8,345.8 L425.5,346.6 L425.6,345.0 L426.5,344.5 L426.9,342.5 L427.1,341.5 L428.1,342.0 L428.5,340.3 L428.6,339.3 L429.2,338.1 L429.7,338.4 L430.4,336.7 L431.0,339.1" fill="none" stroke="#d62728" stroke-width="9.0" stroke-linejoin="round" stroke-linecap="round" stroke-opacity="0.3"/>
<path d="M419.3,346.2 L419.2,343.7 L419.9,344.8 L420.1,342.9 L420.5,339.8 L420.8,339.9 L422.0,339.3 L422.6,336.1 L422.8,339.5 L423.3,339.3 L423.2,341.5 L423.7,342.4 L423.7,345.5 L424.7,344.5 L424.8,345.8 L425.5,346.6 L425.6,345.0 L426.5,344.5 L426.9,342.5 L427.1,341.5 L428.1,342.0 L428.5,340.3 L428.6,339.3 L429.2,338.1 L429.7,338.4 L430.4,336.7 L431.0,339.1" fill="none" stroke="#d62728" stroke-width="6.0" stroke-linejoin="round" stroke-linecap="round" stroke-opacity="1.0"/>
<path d="M446.3,323.9 L446.6,324.9 L446.7,326.6 L446.7,327.7 L446.9,328.5 L447.1,329.4 L447.1,331.4 L447.6,333.0 L447.7,334.1 L447.5,335.4 L447.6,335.8 L447.6,338.0 L447.9,339.2 L447.8,340.8 L448.2,341.4 L448.0,342.4 L448.1,343.5 L448.4,345.6 L448.3,346.3 L448.5,347.9" fill="none" stroke="#d62728" stroke-width="4.0" stroke-linejoin="round" stroke-linecap="round" stroke-opacity="0.6"/>
<path d="M448.5,348.2 L449.3,349.8 L449.6,350.1" fill="none" stroke="#d62728" stroke-width="8.0" stroke-linejoin="round" stroke-linecap="round" stroke-opacity="0.3"/>
<path d="M448.5,348.2 L449.3,349.8 L449.6,350.1" fill="none" stroke="#d62728" stroke-width="5.0" stroke-linejoin="round" stroke-linecap="round" stroke-opacity="1.0"/>
<path d="M358.7,288.7 L365.3,293.1 L371.9,273.4 L376.3,266.8 L379.5,255.9 L382.8,244.9 L386.1,282.2 L389.4,299.7 L391.6,317.2 L391.6,334.7 L385.0,317.2 L378.5,310.6 L371.9,306.3 L365.3,317.2 L358.7,315.0Z" fill="#1f77b4" fill-opacity="0.3" stroke="none" filter="url(#blur2)"/>
<line x1="379.5" y1="238.4" x2="379.5" y2="277.8" stroke="#1f77b4" stroke-width="3.5" stroke-opacity="0.3" stroke-linecap="round" stroke-dasharray="0.6 2.2"/>
<line x1="382.8" y1="234.0" x2="382.8" y2="299.7" stroke="#1f77b4" stroke-width="3.5" stroke-opacity="0.35" stroke-linecap="round" stroke-dasharray="0.6 2.2"/>
<line x1="378.5" y1="326.0" x2="378.5" y2="345.7" stroke="#1f77b4" stroke-width="3.0" stroke-opacity="0.3" stroke-linecap="round" stroke-dasharray="0.6 2.2"/>
<line x1="385.0" y1="321.6" x2="385.0" y2="334.7" stroke="#1f77b4" stroke-width="3.0" stroke-opacity="0.3" stroke-linecap="round" stroke-dasharray="0.6 2.2"/>
<line x1="317.1" y1="308.5" x2="317.1" y2="326.0" stroke="#1f77b4" stroke-width="3.0" stroke-opacity="0.3" stroke-linecap="round" stroke-dasharray="0.6 2.2"/>
<line x1="412.4" y1="306.3" x2="412.4" y2="317.2" stroke="#1f77b4" stroke-width="3.0" stroke-opacity="0.3" stroke-linecap="round" stroke-dasharray="0.6 2.2"/>
<path d="M304.0,338.8 L304.2,340.1 L304.1,342.1 L304.1,342.6 L304.5,344.6 L304.6,345.8 L304.6,347.2 L304.7,348.4 L304.6,349.2 L304.6,351.0 L304.7,351.5 L304.9,353.3 L305.0,354.1 L305.1,355.8 L305.1,356.1 L305.4,357.4 L305.3,359.7 L305.7,360.5 L305.7,362.1 L305.8,362.9 L306.1,364.6 L306.2,365.4" fill="none" stroke="#1f77b4" stroke-width="4.0" stroke-linejoin="round" stroke-linecap="round" stroke-opacity="1.0"/>
<path d="M306.1,365.4 L306.5,364.6 L307.3,363.2" fill="none" stroke="#1f77b4" stroke-width="8.0" stroke-linejoin="round" stroke-linecap="round" stroke-opacity="0.3"/>
<path d="M306.1,365.4 L306.5,364.6 L307.3,363.2" fill="none" stroke="#1f77b4" stroke-width="5.0" stroke-linejoin="round" stroke-linecap="round" stroke-opacity="1.0"/>
<path d="M307.2,363.0 L307.4,362.5 L307.5,360.5 L307.7,359.1 L307.6,357.6 L307.9,356.5 L307.7,355.2 L307.8,354.3 L308.1,352.5 L308.1,351.8 L308.4,350.0 L308.1,349.7 L308.5,347.9 L308.4,346.5 L308.9,345.8 L308.8,344.0 L309.0,342.9 L309.3,341.6 L309.5,340.6 L309.5,339.4 L309.7,338.3 L310.1,336.8 L310.0,335.5 L310.2,333.3 L310.6,332.5 L310.8,331.7 L310.8,330.3 L311.1,329.1 L311.3,327.3 L311.7,326.0" fill="none" stroke="#1f77b4" stroke-width="4.0" stroke-linejoin="round" stroke-linecap="round" stroke-opacity="1.0"/>
<path d="M311.5,326.1 L312.0,324.7 L312.8,324.5 L313.5,322.9 L313.5,322.4 L314.1,320.1 L314.9,319.0 L315.8,320.9 L315.7,321.2 L316.8,319.8 L318.3,321.9 L318.9,323.1 L319.2,323.8 L319.6,325.1 L320.4,326.0" fill="none" stroke="#1f77b4" stroke-width="8.0" stroke-linejoin="round" stroke-linecap="round" stroke-opacity="0.3"/>
<path d="M311.5,326.1 L312.0,324.7 L312.8,324.5 L313.5,322.9 L313.5,322.4 L314.1,320.1 L314.9,319.0 L315.8,320.9 L315.7,321.2 L316.8,319.8 L318.3,321.9 L318.9,323.1 L319.2,323.8 L319.6,325.1 L320.4,326.0" fill="none" stroke="#1f77b4" stroke-width="5.0" stroke-linejoin="round" stroke-linecap="round" stroke-opacity="1.0"/>
<path d="M320.4,325.4 L320.7,327.3 L321.1,329.3 L321.5,330.7 L322.0,329.0 L322.3,327.2 L322.7,326.2 L323.1,324.6 L323.5,322.5 L323.5,321.9 L323.8,322.9 L324.0,324.7 L324.3,325.5 L324.5,327.1 L324.6,327.6 L325.2,326.6 L325.4,325.4 L325.9,323.8" fill="none" stroke="#1f77b4" stroke-width="4.0" stroke-linejoin="round" stroke-linecap="round" stroke-opacity="1.0"/>
<path d="M325.9,324.6 L326.9,322.2 L328.4,321.4 L329.4,321.8 L330.3,323.8" fill="none" stroke="#1f77b4" stroke-width="8.0" stroke-linejoin="round" stroke-linecap="round" stroke-opacity="0.3"/>
<path d="M325.9,324.6 L326.9,322.2 L328.4,321.4 L329.4,321.8 L330.3,323.8" fill="none" stroke="#1f77b4" stroke-width="5.0" stroke-linejoin="round" stroke-linecap="round" stroke-opacity="1.0"/>
<path d="M330.3,324.2 L330.6,325.1 L330.9,327.0 L331.0,327.5 L331.3,329.1 L331.5,330.7 L331.4,328.6 L331.6,328.0 L331.7,326.2 L331.9,325.2 L332.1,324.2 L332.4,322.5 L332.5,321.6" fill="none" stroke="#1f77b4" stroke-width="4.0" stroke-linejoin="round" stroke-linecap="round" stroke-opacity="1.0"/>
<path d="M332.7,321.7 L333.2,323.6 L335.0,323.3 L335.6,322.1 L337.2,323.3 L338.0,322.9 L339.2,321.7 L340.1,323.5 L341.0,323.9 L342.5,326.0 L343.6,324.9 L344.3,324.2 L345.5,324.7 L346.7,322.3 L347.7,321.9 L348.9,319.9 L350.0,319.6 L350.8,318.8 L351.5,317.7 L351.9,316.6 L353.3,317.1 L354.4,316.9 L355.2,317.5 L356.6,317.2" fill="none" stroke="#1f77b4" stroke-width="8.0" stroke-linejoin="round" stroke-linecap="round" stroke-opacity="0.3"/>
<path d="M332.7,321.7 L333.2,323.6 L335.0,323.3 L335.6,322.1 L337.2,323.3 L338.0,322.9 L339.2,321.7 L340.1,323.5 L341.0,323.9 L342.5,326.0 L343.6,324.9 L344.3,324.2 L345.5,324.7 L346.7,322.3 L347.7,321.9 L348.9,319.9 L350.0,319.6 L350.8,318.8 L351.5,317.7 L351.9,316.6 L353.3,317.1 L354.4,316.9 L355.2,317.5 L356.6,317.2" fill="none" stroke="#1f77b4" stroke-width="5.0" stroke-linejoin="round" stroke-linecap="round" stroke-opacity="1.0"/>
<path d="M356.5,317.4 L356.8,316.0 L357.0,315.0 L357.4,313.6 L357.5,312.3 L357.8,310.5 L357.7,309.0 L357.9,308.0 L357.7,307.0 L358.0,305.1 L358.0,304.3 L358.2,303.6 L358.2,301.3 L358.2,300.0 L358.3,299.7 L358.6,297.6 L358.7,297.1 L358.7,295.8 L359.1,294.2 L359.0,292.2 L359.1,291.4 L359.2,290.1 L359.4,289.0 L359.6,288.1 L359.8,286.1 L360.3,284.8 L360.5,283.4 L361.0,282.4 L361.1,283.2 L361.4,284.8 L361.7,286.5 L362.0,286.9 L362.0,288.7" fill="none" stroke="#1f77b4" stroke-width="4.0" stroke-linejoin="round" stroke-linecap="round" stroke-opacity="1.0"/>
<path d="M362.4,289.6 L362.4,289.0 L363.1,290.9" fill="none" stroke="#1f77b4" stroke-width="8.0" stroke-linejoin="round" stroke-linecap="round" stroke-opacity="0.3"/>
<path d="M362.4,289.6 L362.4,289.0 L363.1,290.9" fill="none" stroke="#1f77b4" stroke-width="5.0" stroke-linejoin="round" stroke-linecap="round" stroke-opacity="1.0"/>
<path d="M363.2,291.1 L363.4,292.3 L363.4,293.4 L363.7,295.1 L363.8,295.8 L364.2,297.5" fill="none" stroke="#1f77b4" stroke-width="4.0" stroke-linejoin="round" stroke-linecap="round" stroke-opacity="1.0"/>
<path d="M364.4,298.3 L364.7,297.9 L365.3,299.7" fill="none" stroke="#1f77b4" stroke-width="8.0" stroke-linejoin="round" stroke-linecap="round" stroke-opacity="0.3"/>
<path d="M364.4,298.3 L364.7,297.9 L365.3,299.7" fill="none" stroke="#1f77b4" stroke-width="5.0" stroke-linejoin="round" stroke-linecap="round" stroke-opacity="1.0"/>
<path d="M365.3,299.2 L365.6,300.9 L365.7,302.1 L366.0,303.2 L366.1,305.2 L366.6,305.7 L366.5,304.4 L366.7,303.7 L367.0,302.3 L367.4,301.1 L367.4,299.2 L367.8,297.6 L368.1,296.4 L368.6,294.9 L369.1,296.7 L369.4,298.5 L369.7,299.6 L370.0,298.3 L370.3,297.0 L370.5,296.3 L370.5,294.1 L370.7,293.4 L371.1,291.4 L371.2,290.4 L371.4,289.1 L371.5,288.3 L371.7,286.6 L371.9,284.9 L372.3,284.1 L372.6,282.3 L372.8,281.0 L373.0,280.0" fill="none" stroke="#1f77b4" stroke-width="4.0" stroke-linejoin="round" stroke-linecap="round" stroke-opacity="1.0"/>
<path d="M372.8,278.8 L373.8,279.5 L374.1,277.8" fill="none" stroke="#1f77b4" stroke-width="8.0" stroke-linejoin="round" stroke-linecap="round" stroke-opacity="0.3"/>
<path d="M372.8,278.8 L373.8,279.5 L374.1,277.8" fill="none" stroke="#1f77b4" stroke-width="5.0" stroke-linejoin="round" stroke-linecap="round" stroke-opacity="1.0"/>
<path d="M374.0,277.8 L374.6,276.9 L374.7,274.6 L375.1,272.9 L375.5,274.7 L376.0,275.8 L376.2,278.1 L376.5,279.3 L376.8,280.1 L377.0,282.0 L377.1,283.2 L377.3,284.3 L377.5,285.9 L377.6,286.7 L377.9,288.6 L378.1,289.8 L378.1,290.7 L378.4,291.8 L378.6,293.6 L378.9,292.1 L379.0,290.3 L379.4,288.7 L379.7,287.0 L379.9,286.8 L379.8,285.0 L379.9,283.3 L380.1,282.3 L380.4,281.4 L380.6,279.9 L380.6,278.8 L380.6,277.8" fill="none" stroke="#1f77b4" stroke-width="4.0" stroke-linejoin="round" stroke-linecap="round" stroke-opacity="1.0"/>
<path d="M380.6,277.8 L381.3,260.3 L382.0,247.1 L382.4,253.7 L382.8,266.8 L383.3,288.7" fill="none" stroke="#1f77b4" stroke-width="3.5" stroke-opacity="0.35" stroke-linecap="round" stroke-dasharray="0.6 2.2"/>
<path d="M383.4,289.2 L383.2,289.4 L383.5,291.3 L383.6,292.5 L383.6,293.0 L383.8,295.0 L383.6,295.9 L383.8,297.1 L383.7,298.4 L384.0,299.1 L384.0,301.1 L384.5,302.3 L384.5,303.1 L384.7,304.7 L385.1,306.8 L385.3,304.5 L385.7,303.1 L385.9,301.7 L386.2,301.1 L386.4,298.8 L386.3,297.7 L386.5,297.2 L386.5,295.2 L386.5,294.5 L386.6,293.1 L386.8,291.9 L387.0,290.4 L386.9,288.6 L387.2,287.6 L387.3,287.1 L387.5,288.4 L387.4,289.4 L387.7,290.6 L387.9,291.1 L387.9,292.9 L388.2,294.0 L388.4,295.6 L388.5,297.1 L388.7,298.4 L388.7,298.5 L388.8,299.8 L389.0,301.7 L389.2,302.6 L389.4,303.8 L389.7,305.8 L389.7,306.4 L389.9,308.3 L389.9,309.5 L389.8,310.1 L389.9,311.4 L390.1,313.8 L390.5,314.8 L390.3,315.4 L390.5,317.5 L390.5,318.3 L390.8,319.5 L391.0,320.6 L391.3,321.7 L391.2,323.9 L391.3,324.4 L391.6,325.7 L391.6,327.0 L391.7,328.5 L392.0,329.7 L392.3,331.0 L392.5,332.5 L392.7,333.4 L392.8,335.1 L393.0,336.6 L393.5,338.0 L393.7,339.3 L394.0,337.2 L394.2,336.3 L394.3,335.5 L394.5,333.4 L394.8,332.3 L395.2,331.4 L395.4,329.9 L395.7,329.0 L395.6,326.8 L396.0,326.4 L396.5,324.8 L396.6,322.6 L397.2,321.6 L397.2,322.7 L397.4,324.6 L397.4,325.1 L397.8,326.6 L397.9,328.0 L397.8,329.4 L398.2,330.4 L398.6,328.9 L398.7,327.2 L399.3,326.2 L399.2,324.2 L399.5,323.0 L399.7,322.5 L399.9,321.3 L400.1,319.6 L400.2,319.0 L400.4,317.2" fill="none" stroke="#1f77b4" stroke-width="4.0" stroke-linejoin="round" stroke-linecap="round" stroke-opacity="1.0"/>
<path d="M400.1,316.6 L400.9,315.7 L401.3,315.8 L402.3,313.6 L402.2,312.8 L403.2,312.8 L403.3,315.1 L404.5,315.4 L404.7,317.2" fill="none" stroke="#1f77b4" stroke-width="8.0" stroke-linejoin="round" stroke-linecap="round" stroke-opacity="0.3"/>
<path d="M400.1,316.6 L400.9,315.7 L401.3,315.8 L402.3,313.6 L402.2,312.8 L403.2,312.8 L403.3,315.1 L404.5,315.4 L404.7,317.2" fill="none" stroke="#1f77b4" stroke-width="5.0" stroke-linejoin="round" stroke-linecap="round" stroke-opacity="1.0"/>
<path d="M404.7,316.8 L405.0,318.1 L405.6,320.5 L405.9,321.7 L406.1,322.6 L406.4,324.8 L406.6,325.0 L406.9,327.1 L407.0,328.0 L407.0,329.9 L407.5,331.0 L407.5,332.0 L407.7,333.2 L408.0,334.7" fill="none" stroke="#1f77b4" stroke-width="4.0" stroke-linejoin="round" stroke-linecap="round" stroke-opacity="1.0"/>
<path d="M407.9,335.9 L408.5,335.7 L409.1,336.9" fill="none" stroke="#1f77b4" stroke-width="8.0" stroke-linejoin="round" stroke-linecap="round" stroke-opacity="0.3"/>
<path d="M407.9,335.9 L408.5,335.7 L409.1,336.9" fill="none" stroke="#1f77b4" stroke-width="5.0" stroke-linejoin="round" stroke-linecap="round" stroke-opacity="1.0"/>
<path d="M409.0,336.4 L409.2,335.3 L409.3,334.7 L409.6,332.9 L409.8,332.4 L409.7,330.9 L410.0,329.7 L410.3,328.5 L410.2,327.5 L410.5,325.2 L410.5,324.2 L410.6,322.9 L410.7,322.1 L411.0,320.4 L411.1,320.0 L411.3,319.0 L411.5,317.0 L411.3,316.3 L411.5,314.7 L411.8,313.1 L412.0,311.7 L412.2,310.9 L412.2,309.9 L412.4,307.9 L412.6,309.5 L413.2,311.3 L413.4,312.5 L413.7,314.3 L413.7,315.4 L413.6,316.7 L414.0,317.9 L414.1,319.0 L414.2,320.6 L414.3,321.9 L414.4,323.2 L414.6,324.2 L414.5,325.6 L414.7,327.3 L414.9,328.8 L415.0,329.2 L415.2,331.3 L415.4,332.2 L415.1,333.8 L415.5,334.0 L415.6,336.2 L415.7,336.9" fill="none" stroke="#1f77b4" stroke-width="4.0" stroke-linejoin="round" stroke-linecap="round" stroke-opacity="1.0"/>
<path d="M415.7,335.8 L416.2,334.8 L416.8,334.7" fill="none" stroke="#1f77b4" stroke-width="8.0" stroke-linejoin="round" stroke-linecap="round" stroke-opacity="0.3"/>
<path d="M415.7,335.8 L416.2,334.8 L416.8,334.7" fill="none" stroke="#1f77b4" stroke-width="5.0" stroke-linejoin="round" stroke-linecap="round" stroke-opacity="1.0"/>
<path d="M416.8,334.3 L417.1,334.0 L417.1,331.5 L417.4,330.9 L417.8,329.0 L417.9,328.2" fill="none" stroke="#1f77b4" stroke-width="4.0" stroke-linejoin="round" stroke-linecap="round" stroke-opacity="1.0"/>
<path d="M417.7,328.4 L418.7,327.1 L419.0,326.0" fill="none" stroke="#1f77b4" stroke-width="8.0" stroke-linejoin="round" stroke-linecap="round" stroke-opacity="0.3"/>
<path d="M417.7,328.4 L418.7,327.1 L419.0,326.0" fill="none" stroke="#1f77b4" stroke-width="5.0" stroke-linejoin="round" stroke-linecap="round" stroke-opacity="1.0"/>
<path d="M419.1,326.2 L419.3,327.4 L419.2,327.9 L419.4,330.0 L419.5,330.7 L419.9,331.7 L419.9,333.4 L420.2,335.3 L420.1,333.0 L420.4,332.4 L420.4,330.9 L420.7,330.3 L420.8,328.4 L421.2,327.4 L421.0,326.0 L421.4,324.4 L421.8,323.5 L422.2,321.1 L422.4,323.0 L422.5,324.3 L423.0,325.2 L423.1,326.6 L423.3,328.2" fill="none" stroke="#1f77b4" stroke-width="4.0" stroke-linejoin="round" stroke-linecap="round" stroke-opacity="1.0"/>
<path d="M423.3,327.9 L424.2,329.3 L424.4,330.4" fill="none" stroke="#1f77b4" stroke-width="8.0" stroke-linejoin="round" stroke-linecap="round" stroke-opacity="0.3"/>
<path d="M423.3,327.9 L424.2,329.3 L424.4,330.4" fill="none" stroke="#1f77b4" stroke-width="5.0" stroke-linejoin="round" stroke-linecap="round" stroke-opacity="1.0"/>
<path d="M424.3,330.1 L424.8,329.2 L425.0,327.0 L425.5,326.0" fill="none" stroke="#1f77b4" stroke-width="4.0" stroke-linejoin="round" stroke-linecap="round" stroke-opacity="1.0"/>
<path d="M425.3,325.5 L426.0,326.6 L426.6,328.2" fill="none" stroke="#1f77b4" stroke-width="8.0" stroke-linejoin="round" stroke-linecap="round" stroke-opacity="0.3"/>
<path d="M425.3,325.5 L426.0,326.6 L426.6,328.2" fill="none" stroke="#1f77b4" stroke-width="5.0" stroke-linejoin="round" stroke-linecap="round" stroke-opacity="1.0"/>
<path d="M426.8,328.1 L427.0,330.2 L427.3,330.6 L427.7,332.5" fill="none" stroke="#1f77b4" stroke-width="4.0" stroke-linejoin="round" stroke-linecap="round" stroke-opacity="1.0"/>
<path d="M427.6,333.5 L428.1,330.5 L428.8,330.4" fill="none" stroke="#1f77b4" stroke-width="8.0" stroke-linejoin="round" stroke-linecap="round" stroke-opacity="0.3"/>
<path d="M427.6,333.5 L428.1,330.5 L428.8,330.4" fill="none" stroke="#1f77b4" stroke-width="5.0" stroke-linejoin="round" stroke-linecap="round" stroke-opacity="1.0"/>
<path d="M428.8,329.9 L429.0,331.5 L429.7,333.8 L429.9,334.8 L430.2,336.7 L430.6,337.6 L431.0,339.7 L431.1,337.8 L431.6,336.5 L431.7,335.4 L431.7,334.4 L432.2,332.5 L432.5,333.8 L432.8,335.0 L433.3,337.2 L433.4,336.1 L433.6,334.5 L434.0,333.4 L434.2,331.9 L434.3,330.4" fill="none" stroke="#1f77b4" stroke-width="4.0" stroke-linejoin="round" stroke-linecap="round" stroke-opacity="1.0"/>
<path d="M434.5,329.9 L435.0,329.6 L435.3,328.5 L435.7,327.5 L436.5,326.0" fill="none" stroke="#1f77b4" stroke-width="8.0" stroke-linejoin="round" stroke-linecap="round" stroke-opacity="0.3"/>
<path d="M434.5,329.9 L435.0,329.6 L435.3,328.5 L435.7,327.5 L436.5,326.0" fill="none" stroke="#1f77b4" stroke-width="5.0" stroke-linejoin="round" stroke-linecap="round" stroke-opacity="1.0"/>
<path d="M436.3,326.1 L436.6,327.6 L436.8,329.0 L437.2,330.1 L437.4,331.2 L437.5,332.5 L437.9,334.0 L438.1,335.0 L438.2,336.1 L438.6,338.0 L438.6,338.7 L439.2,340.9 L439.2,341.7 L439.8,343.5" fill="none" stroke="#1f77b4" stroke-width="4.0" stroke-linejoin="round" stroke-linecap="round" stroke-opacity="1.0"/>
<path d="M440.1,344.4 L440.4,344.8 L440.9,345.7" fill="none" stroke="#1f77b4" stroke-width="8.0" stroke-linejoin="round" stroke-linecap="round" stroke-opacity="0.3"/>
<path d="M440.1,344.4 L440.4,344.8 L440.9,345.7" fill="none" stroke="#1f77b4" stroke-width="5.0" stroke-linejoin="round" stroke-linecap="round" stroke-opacity="1.0"/>
<path d="M440.8,345.6 L441.1,344.7 L441.4,342.9 L441.7,341.3 L441.9,340.6 L442.1,339.2 L442.0,340.8 L442.1,341.3 L442.4,343.1 L442.5,343.8 L442.9,345.5 L443.1,346.8 L442.9,347.3 L443.2,349.4 L443.4,350.0 L443.5,351.5 L443.5,352.4 L443.7,354.3 L444.1,355.8 L444.3,357.2 L444.1,355.3 L444.4,354.0 L444.5,353.0 L444.6,351.4 L444.6,350.2 L444.9,349.2 L445.0,348.0 L445.0,346.1 L445.3,344.9 L445.2,343.0 L445.4,341.8 L445.7,340.9 L445.7,339.2 L445.9,338.2 L446.0,336.9 L446.3,335.9 L446.4,335.1 L446.9,333.2 L447.1,331.9 L447.4,330.4" fill="none" stroke="#1f77b4" stroke-width="4.0" stroke-linejoin="round" stroke-linecap="round" stroke-opacity="1.0"/>
<path d="M447.3,330.0 L448.1,329.5 L448.5,328.2" fill="none" stroke="#1f77b4" stroke-width="8.0" stroke-linejoin="round" stroke-linecap="round" stroke-opacity="0.3"/>
<path d="M447.3,330.0 L448.1,329.5 L448.5,328.2" fill="none" stroke="#1f77b4" stroke-width="5.0" stroke-linejoin="round" stroke-linecap="round" stroke-opacity="1.0"/>
<path d="M448.6,328.5 L448.7,329.6 L449.0,330.4 L449.1,331.8 L449.3,333.2 L449.6,334.7" fill="none" stroke="#1f77b4" stroke-width="4.0" stroke-linejoin="round" stroke-linecap="round" stroke-opacity="1.0"/>
<path d="M449.6,335.2 L450.3,337.0 L450.7,336.9" fill="none" stroke="#1f77b4" stroke-width="8.0" stroke-linejoin="round" stroke-linecap="round" stroke-opacity="0.3"/>
<path d="M449.6,335.2 L450.3,337.0 L450.7,336.9" fill="none" stroke="#1f77b4" stroke-width="5.0" stroke-linejoin="round" stroke-linecap="round" stroke-opacity="1.0"/>
<path d="M450.7,336.6 L451.0,338.7 L451.6,339.9 L452.0,341.0 L452.1,341.5 L452.4,342.6 L452.8,344.8 L453.4,345.9 L453.6,346.1 L454.0,347.9" fill="none" stroke="#1f77b4" stroke-width="4.0" stroke-linejoin="round" stroke-linecap="round" stroke-opacity="1.0"/>
</g>
<g class="an" font-size="10" fill="#1f77b4" color="#1f77b4"><text x="304.6" y="242.9">M1: MEAN 0.04</text><text x="332.1" y="253.4">STD 0.08</text></g>
<g class="an" font-size="10" fill="#d62728" color="#d62728"><text x="304.6" y="262.3">M7: MEAN 0.05</text><text x="332.1" y="272.8">STD 0.06</text></g>
<rect x="304.2" y="234.2" width="149.3" height="147.5" fill="none" stroke="#000" stroke-width="1.6"/>
<line x1="297.2" y1="234.2" x2="304.2" y2="234.2" stroke="#000" stroke-width="1.6"/>
<text x="290.0" y="241.7" font-size="20" text-anchor="end">0.40</text>
<line x1="297.2" y1="258.8" x2="304.2" y2="258.8" stroke="#000" stroke-width="1.6"/>
<text x="290.0" y="266.3" font-size="20" text-anchor="end">0.30</text>
<line x1="297.2" y1="283.4" x2="304.2" y2="283.4" stroke="#000" stroke-width="1.6"/>
<text x="290.0" y="290.9" font-size="20" text-anchor="end">0.20</text>
<line x1="297.2" y1="308.0" x2="304.2" y2="308.0" stroke="#000" stroke-width="1.6"/>
<text x="290.0" y="315.5" font-size="20" text-anchor="end">0.10</text>
<line x1="297.2" y1="332.5" x2="304.2" y2="332.5" stroke="#000" stroke-width="1.6"/>
<text x="290.0" y="340.0" font-size="20" text-anchor="end">0.00</text>
<line x1="297.2" y1="357.1" x2="304.2" y2="357.1" stroke="#000" stroke-width="1.6"/>
<text x="290.0" y="364.6" font-size="20" text-anchor="end">-0.10</text>
<line x1="297.2" y1="381.7" x2="304.2" y2="381.7" stroke="#000" stroke-width="1.6"/>
<text x="290.0" y="389.2" font-size="20" text-anchor="end">-0.20</text>
<line x1="304.2" y1="381.7" x2="304.2" y2="388.7" stroke="#000" stroke-width="1.6"/>
<line x1="341.5" y1="381.7" x2="341.5" y2="388.7" stroke="#000" stroke-width="1.6"/>
<line x1="378.9" y1="381.7" x2="378.9" y2="388.7" stroke="#000" stroke-width="1.6"/>
<line x1="416.2" y1="381.7" x2="416.2" y2="388.7" stroke="#000" stroke-width="1.6"/>
<line x1="453.5" y1="381.7" x2="453.5" y2="388.7" stroke="#000" stroke-width="1.6"/>
<text x="378.9" y="222.3" font-size="20.3" text-anchor="middle">+X [spec.]</text>
<clipPath id="c12"><rect x="525.3" y="234.2" width="149.3" height="147.5"/></clipPath>
<rect x="556.2" y="234.2" width="87.7" height="147.5" fill="#e5e5e5" stroke="#d3d3d3" stroke-width="1.6"/>
<g clip-path="url(#c12)">
<path d="M568.8,297.5 L575.4,295.3 L581.9,288.7 L588.5,290.9 L590.7,295.3 L590.7,326.0 L588.5,332.5 L581.9,321.6 L575.4,323.8 L568.8,321.6Z" fill="#d62728" fill-opacity="0.4" stroke="none" filter="url(#blur2)"/>
<path d="M590.7,288.7 L597.3,282.2 L603.8,273.4 L609.3,266.8 L612.6,288.7 L617.0,306.3 L617.0,326.0 L612.6,330.4 L606.0,326.0 L601.2,341.3 L597.3,330.4 L590.7,326.0Z" fill="#d62728" fill-opacity="0.35" stroke="none" filter="url(#blur2)"/>
<path d="M619.2,306.3 L624.6,286.6 L630.1,295.3 L636.7,304.1 L643.2,321.6 L643.2,336.9 L636.7,334.7 L632.3,321.6 L625.7,330.4 L619.2,326.0Z" fill="#d62728" fill-opacity="0.35" stroke="none" filter="url(#blur2)"/>
<line x1="588.5" y1="326.0" x2="588.5" y2="345.7" stroke="#d62728" stroke-width="3.5" stroke-opacity="0.3" stroke-linecap="round" stroke-dasharray="0.6 2.2"/>
<line x1="600.5" y1="326.0" x2="600.5" y2="342.4" stroke="#d62728" stroke-width="3.5" stroke-opacity="0.3" stroke-linecap="round" stroke-dasharray="0.6 2.2"/>
<line x1="625.7" y1="286.6" x2="625.7" y2="326.0" stroke="#d62728" stroke-width="3.5" stroke-opacity="0.3" stroke-linecap="round" stroke-dasharray="0.6 2.2"/>
<line x1="627.9" y1="299.7" x2="627.9" y2="330.4" stroke="#d62728" stroke-width="3.5" stroke-opacity="0.25" stroke-linecap="round" stroke-dasharray="0.6 2.2"/>
<line x1="638.9" y1="326.0" x2="638.9" y2="336.9" stroke="#d62728" stroke-width="3.5" stroke-opacity="0.3" stroke-linecap="round" stroke-dasharray="0.6 2.2"/>
<path d="M546.5,315.1 L548.2,316.1 L549.5,317.4 L550.4,318.1 L551.7,317.9 L551.6,319.8 L552.4,319.0 L552.4,321.6" fill="none" stroke="#d62728" stroke-width="9.0" stroke-linejoin="round" stroke-linecap="round" stroke-opacity="0.3"/>
<path d="M546.5,315.1 L548.2,316.1 L549.5,317.4 L550.4,318.1 L551.7,317.9 L551.6,319.8 L552.4,319.0 L552.4,321.6" fill="none" stroke="#d62728" stroke-width="6.0" stroke-linejoin="round" stroke-linecap="round" stroke-opacity="1.0"/>
<path d="M552.2,321.1 L552.4,320.8 L552.6,318.8 L552.8,318.0 L552.9,316.5 L553.1,314.9 L553.2,313.5 L553.0,312.5 L553.4,311.2 L553.3,310.0 L553.5,308.5" fill="none" stroke="#d62728" stroke-width="4.0" stroke-linejoin="round" stroke-linecap="round" stroke-opacity="0.6"/>
<path d="M553.2,307.4 L554.6,308.1 L556.1,305.0 L556.6,306.0 L557.9,309.6 L558.9,308.6 L560.1,306.6 L560.9,306.8 L562.6,308.6 L562.9,311.0 L563.1,312.0 L564.2,310.9 L564.2,313.6 L565.7,315.0 L566.3,314.1 L567.3,316.8 L568.8,317.2" fill="none" stroke="#d62728" stroke-width="9.0" stroke-linejoin="round" stroke-linecap="round" stroke-opacity="0.3"/>
<path d="M553.2,307.4 L554.6,308.1 L556.1,305.0 L556.6,306.0 L557.9,309.6 L558.9,308.6 L560.1,306.6 L560.9,306.8 L562.6,308.6 L562.9,311.0 L563.1,312.0 L564.2,310.9 L564.2,313.6 L565.7,315.0 L566.3,314.1 L567.3,316.8 L568.8,317.2" fill="none" stroke="#d62728" stroke-width="6.0" stroke-linejoin="round" stroke-linecap="round" stroke-opacity="1.0"/>
<path d="M568.7,316.8 L569.0,316.1 L568.9,314.5 L569.1,313.3 L569.1,311.7 L569.3,311.1 L569.2,309.4 L569.5,308.0 L569.3,307.5 L569.7,306.5 L569.6,304.3 L569.7,303.8 L569.8,302.2 L569.8,301.1 L569.9,299.7" fill="none" stroke="#d62728" stroke-width="4.0" stroke-linejoin="round" stroke-linecap="round" stroke-opacity="0.6"/>
<path d="M570.3,298.9 L570.0,299.9 L570.2,303.9 L571.0,304.1" fill="none" stroke="#d62728" stroke-width="9.0" stroke-linejoin="round" stroke-linecap="round" stroke-opacity="0.3"/>
<path d="M570.3,298.9 L570.0,299.9 L570.2,303.9 L571.0,304.1" fill="none" stroke="#d62728" stroke-width="6.0" stroke-linejoin="round" stroke-linecap="round" stroke-opacity="1.0"/>
<path d="M570.9,303.6 L571.4,303.2 L571.3,301.7 L571.8,300.6 L571.9,298.4 L572.1,297.5" fill="none" stroke="#d62728" stroke-width="4.0" stroke-linejoin="round" stroke-linecap="round" stroke-opacity="0.6"/>
<path d="M571.8,298.0 L573.0,298.1 L573.0,298.4 L574.0,300.5 L574.6,299.9 L574.8,304.1 L575.4,304.1" fill="none" stroke="#d62728" stroke-width="9.0" stroke-linejoin="round" stroke-linecap="round" stroke-opacity="0.3"/>
<path d="M571.8,298.0 L573.0,298.1 L573.0,298.4 L574.0,300.5 L574.6,299.9 L574.8,304.1 L575.4,304.1" fill="none" stroke="#d62728" stroke-width="6.0" stroke-linejoin="round" stroke-linecap="round" stroke-opacity="1.0"/>
<path d="M575.4,303.6 L575.7,305.6 L575.9,306.1 L575.9,308.4 L576.2,309.2 L576.5,310.6" fill="none" stroke="#d62728" stroke-width="4.0" stroke-linejoin="round" stroke-linecap="round" stroke-opacity="0.6"/>
<path d="M576.1,310.9 L577.4,312.8 L577.9,312.6 L577.9,310.2 L578.3,310.2 L578.8,309.8 L579.0,306.8 L580.2,305.8 L580.5,304.6 L580.8,304.1" fill="none" stroke="#d62728" stroke-width="9.0" stroke-linejoin="round" stroke-linecap="round" stroke-opacity="0.3"/>
<path d="M576.1,310.9 L577.4,312.8 L577.9,312.6 L577.9,310.2 L578.3,310.2 L578.8,309.8 L579.0,306.8 L580.2,305.8 L580.5,304.6 L580.8,304.1" fill="none" stroke="#d62728" stroke-width="6.0" stroke-linejoin="round" stroke-linecap="round" stroke-opacity="1.0"/>
<path d="M581.0,304.0 L580.9,303.2 L581.2,301.3 L581.2,300.0 L581.2,299.3 L581.5,296.9 L581.3,296.7 L581.6,294.4 L581.8,293.7 L581.9,291.9 L581.9,290.7 L582.0,292.3 L582.0,293.4 L582.1,294.1 L582.3,295.6 L582.2,296.6 L582.3,299.0 L582.3,300.1 L582.6,301.1 L582.6,302.3 L582.9,304.1 L582.9,305.3 L583.0,306.3 L583.1,307.4 L583.4,308.7 L583.7,310.2 L584.0,311.0 L584.1,312.8" fill="none" stroke="#d62728" stroke-width="4.0" stroke-linejoin="round" stroke-linecap="round" stroke-opacity="0.6"/>
<path d="M584.1,312.0 L584.4,310.5 L585.1,309.7 L585.2,308.5" fill="none" stroke="#d62728" stroke-width="9.0" stroke-linejoin="round" stroke-linecap="round" stroke-opacity="0.3"/>
<path d="M584.1,312.0 L584.4,310.5 L585.1,309.7 L585.2,308.5" fill="none" stroke="#d62728" stroke-width="6.0" stroke-linejoin="round" stroke-linecap="round" stroke-opacity="1.0"/>
<path d="M585.4,307.9 L585.4,307.0 L585.7,306.3 L586.0,304.3 L586.1,303.4 L586.3,301.9" fill="none" stroke="#d62728" stroke-width="4.0" stroke-linejoin="round" stroke-linecap="round" stroke-opacity="0.6"/>
<path d="M586.3,301.9 L587.4,317.2 L588.5,334.7 L588.9,343.5 L589.6,326.0 L590.7,308.5" fill="none" stroke="#d62728" stroke-width="3.5" stroke-opacity="0.35" stroke-linecap="round" stroke-dasharray="0.6 2.2"/>
<path d="M590.7,308.0 L590.7,306.6 L591.0,305.5 L591.1,304.8 L591.1,302.7 L591.2,301.7 L591.2,301.0 L591.4,299.2 L591.7,297.7 L591.6,296.5 L591.9,295.6 L592.1,294.0 L592.3,292.3 L592.3,291.6 L592.8,290.2 L592.8,288.2 L592.9,289.9 L593.3,291.4 L593.4,292.8 L593.6,293.7 L593.8,295.2 L593.7,296.3 L594.0,297.1 L594.2,299.1 L594.4,299.5 L594.5,301.2 L594.7,303.1 L594.7,303.4 L594.9,305.3 L595.1,306.3" fill="none" stroke="#d62728" stroke-width="4.0" stroke-linejoin="round" stroke-linecap="round" stroke-opacity="0.6"/>
<path d="M595.3,305.0 L595.5,306.8 L596.2,308.5" fill="none" stroke="#d62728" stroke-width="9.0" stroke-linejoin="round" stroke-linecap="round" stroke-opacity="0.3"/>
<path d="M595.3,305.0 L595.5,306.8 L596.2,308.5" fill="none" stroke="#d62728" stroke-width="6.0" stroke-linejoin="round" stroke-linecap="round" stroke-opacity="1.0"/>
<path d="M596.0,308.0 L596.3,307.2 L596.6,306.3 L596.6,304.8 L596.7,303.4 L596.8,302.1 L596.9,300.8 L597.3,299.7" fill="none" stroke="#d62728" stroke-width="4.0" stroke-linejoin="round" stroke-linecap="round" stroke-opacity="0.6"/>
<path d="M596.9,300.4 L597.8,300.9 L598.0,301.9 L598.4,304.1" fill="none" stroke="#d62728" stroke-width="9.0" stroke-linejoin="round" stroke-linecap="round" stroke-opacity="0.3"/>
<path d="M596.9,300.4 L597.8,300.9 L598.0,301.9 L598.4,304.1" fill="none" stroke="#d62728" stroke-width="6.0" stroke-linejoin="round" stroke-linecap="round" stroke-opacity="1.0"/>
<path d="M598.4,304.1 L599.5,317.2 L600.5,334.7 L601.2,341.3 L601.6,326.0 L602.7,317.2" fill="none" stroke="#d62728" stroke-width="3.5" stroke-opacity="0.35" stroke-linecap="round" stroke-dasharray="0.6 2.2"/>
<path d="M602.8,317.4 L603.0,315.8 L602.8,314.1 L603.1,313.8 L603.0,312.4 L603.1,310.5 L603.3,309.7 L603.2,308.6 L603.3,306.8 L603.4,306.0 L603.4,304.7 L603.7,303.3 L603.6,301.8 L603.7,300.9 L603.7,299.2 L603.7,298.1 L603.8,297.6 L603.9,296.1 L604.2,295.4 L604.0,294.2 L604.2,292.3 L604.3,290.8 L604.4,289.7 L604.3,288.6 L604.6,288.1 L604.5,286.0 L604.5,285.6 L604.7,284.0 L604.8,282.9 L604.7,281.9 L604.8,280.3 L605.0,278.8 L604.9,277.8" fill="none" stroke="#d62728" stroke-width="4.0" stroke-linejoin="round" stroke-linecap="round" stroke-opacity="0.6"/>
<path d="M604.5,276.7 L605.1,279.1 L606.0,280.0" fill="none" stroke="#d62728" stroke-width="9.0" stroke-linejoin="round" stroke-linecap="round" stroke-opacity="0.3"/>
<path d="M604.5,276.7 L605.1,279.1 L606.0,280.0" fill="none" stroke="#d62728" stroke-width="6.0" stroke-linejoin="round" stroke-linecap="round" stroke-opacity="1.0"/>
<path d="M606.1,279.4 L606.1,281.3 L606.3,283.0 L606.6,283.4 L606.5,285.1 L606.9,286.3 L607.1,287.7 L607.1,288.7 L607.1,287.1 L607.1,286.5 L607.4,284.7 L607.5,284.1 L607.4,282.2 L607.8,281.4 L607.7,280.3 L607.9,278.3 L608.1,276.7 L608.1,276.5 L608.3,274.9 L608.0,273.4 L608.5,272.2 L608.7,270.9 L608.9,269.0 L609.3,268.5 L609.4,266.3 L609.5,267.6 L609.6,269.1 L609.5,270.8 L609.6,271.5 L609.8,273.4 L609.8,273.6 L610.0,275.0 L610.1,276.8 L610.1,278.4 L610.2,278.5 L610.1,280.7 L609.9,281.0 L610.0,282.4 L610.1,284.3 L610.0,284.8 L610.3,286.0 L610.3,287.3 L610.1,288.8 L610.4,290.7 L610.3,291.9 L610.2,292.5 L610.5,294.6 L610.3,295.8 L610.6,296.0 L610.7,298.0 L610.8,299.4 L611.1,300.9 L611.2,301.9 L611.3,302.8 L611.6,303.5 L611.6,305.0 L611.7,307.2 L611.8,308.1 L612.1,308.8 L611.9,311.2 L612.0,311.5 L612.1,313.6 L612.5,315.0 L612.3,315.3 L612.5,316.9 L612.8,318.4 L613.1,320.3 L613.3,321.2 L613.5,322.3 L613.7,323.8" fill="none" stroke="#d62728" stroke-width="4.0" stroke-linejoin="round" stroke-linecap="round" stroke-opacity="0.6"/>
<path d="M613.8,322.9 L613.8,323.4 L615.2,322.9 L616.0,321.9 L617.1,318.0 L618.3,319.2 L619.2,317.2" fill="none" stroke="#d62728" stroke-width="9.0" stroke-linejoin="round" stroke-linecap="round" stroke-opacity="0.3"/>
<path d="M613.8,322.9 L613.8,323.4 L615.2,322.9 L616.0,321.9 L617.1,318.0 L618.3,319.2 L619.2,317.2" fill="none" stroke="#d62728" stroke-width="6.0" stroke-linejoin="round" stroke-linecap="round" stroke-opacity="1.0"/>
<path d="M619.1,317.7 L619.4,316.0 L619.6,314.7 L620.0,313.1 L620.4,312.0 L620.8,311.3 L621.2,310.2 L621.4,308.5" fill="none" stroke="#d62728" stroke-width="4.0" stroke-linejoin="round" stroke-linecap="round" stroke-opacity="0.6"/>
<path d="M621.1,307.6 L621.6,308.2 L622.5,305.5 L623.1,304.7 L623.5,304.1" fill="none" stroke="#d62728" stroke-width="9.0" stroke-linejoin="round" stroke-linecap="round" stroke-opacity="0.3"/>
<path d="M621.1,307.6 L621.6,308.2 L622.5,305.5 L623.1,304.7 L623.5,304.1" fill="none" stroke="#d62728" stroke-width="6.0" stroke-linejoin="round" stroke-linecap="round" stroke-opacity="1.0"/>
<path d="M623.6,303.7 L623.7,302.2 L624.0,302.0 L624.1,300.7 L624.2,299.5 L624.3,297.4 L624.5,296.9 L624.7,295.9 L624.9,294.6 L625.1,292.4 L625.2,291.3 L625.3,290.8 L625.4,289.1 L625.4,288.3 L625.7,286.6" fill="none" stroke="#d62728" stroke-width="4.0" stroke-linejoin="round" stroke-linecap="round" stroke-opacity="0.6"/>
<path d="M625.7,286.4 L625.7,289.5 L626.4,290.1 L626.8,290.9" fill="none" stroke="#d62728" stroke-width="9.0" stroke-linejoin="round" stroke-linecap="round" stroke-opacity="0.3"/>
<path d="M625.7,286.4 L625.7,289.5 L626.4,290.1 L626.8,290.9" fill="none" stroke="#d62728" stroke-width="6.0" stroke-linejoin="round" stroke-linecap="round" stroke-opacity="1.0"/>
<path d="M626.7,291.2 L627.1,292.5 L627.0,293.4 L627.4,294.2 L627.5,295.6 L627.7,297.1 L627.6,298.9 L627.9,299.2 L628.3,300.9 L628.4,302.2 L628.5,303.5 L628.8,304.8 L629.1,306.1 L629.1,305.1 L629.6,303.4 L629.8,301.8 L630.1,301.5 L630.1,299.7" fill="none" stroke="#d62728" stroke-width="4.0" stroke-linejoin="round" stroke-linecap="round" stroke-opacity="0.6"/>
<path d="M629.9,301.1 L630.8,297.8 L631.3,296.3 L631.6,298.7 L631.8,299.4 L632.3,302.5 L633.0,302.5 L632.8,306.1 L633.4,306.3" fill="none" stroke="#d62728" stroke-width="9.0" stroke-linejoin="round" stroke-linecap="round" stroke-opacity="0.3"/>
<path d="M629.9,301.1 L630.8,297.8 L631.3,296.3 L631.6,298.7 L631.8,299.4 L632.3,302.5 L633.0,302.5 L632.8,306.1 L633.4,306.3" fill="none" stroke="#d62728" stroke-width="6.0" stroke-linejoin="round" stroke-linecap="round" stroke-opacity="1.0"/>
<path d="M633.3,306.7 L633.6,307.8 L633.8,309.1 L634.0,310.0 L634.1,311.6 L634.6,313.4 L634.4,314.1 L634.8,315.7 L635.0,317.0 L635.0,318.3 L635.1,318.9 L635.1,320.4 L635.3,321.8 L635.4,323.8 L635.4,325.1 L635.6,326.0" fill="none" stroke="#d62728" stroke-width="4.0" stroke-linejoin="round" stroke-linecap="round" stroke-opacity="0.6"/>
<path d="M636.0,326.1 L636.2,328.4 L636.2,328.8 L636.7,329.2 L637.3,333.2 L637.4,333.1 L638.0,335.4 L638.2,332.9 L638.6,331.6 L639.3,329.4 L639.7,329.5 L640.1,329.4 L640.3,328.5 L641.2,324.6 L641.5,326.9 L642.4,328.1 L642.4,329.7 L643.3,329.6 L643.4,333.1 L644.2,332.0 L644.0,335.2 L645.2,336.2 L645.8,336.6 L645.4,336.1 L646.4,334.3 L646.7,332.6 L647.1,331.3 L646.9,328.8 L647.7,327.1 L648.3,328.0 L648.8,324.7 L649.1,325.3 L649.8,323.8" fill="none" stroke="#d62728" stroke-width="9.0" stroke-linejoin="round" stroke-linecap="round" stroke-opacity="0.3"/>
<path d="M636.0,326.1 L636.2,328.4 L636.2,328.8 L636.7,329.2 L637.3,333.2 L637.4,333.1 L638.0,335.4 L638.2,332.9 L638.6,331.6 L639.3,329.4 L639.7,329.5 L640.1,329.4 L640.3,328.5 L641.2,324.6 L641.5,326.9 L642.4,328.1 L642.4,329.7 L643.3,329.6 L643.4,333.1 L644.2,332.0 L644.0,335.2 L645.2,336.2 L645.8,336.6 L645.4,336.1 L646.4,334.3 L646.7,332.6 L647.1,331.3 L646.9,328.8 L647.7,327.1 L648.3,328.0 L648.8,324.7 L649.1,325.3 L649.8,323.8" fill="none" stroke="#d62728" stroke-width="6.0" stroke-linejoin="round" stroke-linecap="round" stroke-opacity="1.0"/>
<path d="M668.1,308.6 L668.8,310.5 L669.0,310.9 L669.5,312.8" fill="none" stroke="#d62728" stroke-width="8.0" stroke-linejoin="round" stroke-linecap="round" stroke-opacity="0.3"/>
<path d="M668.1,308.6 L668.8,310.5 L669.0,310.9 L669.5,312.8" fill="none" stroke="#d62728" stroke-width="5.0" stroke-linejoin="round" stroke-linecap="round" stroke-opacity="1.0"/>
<path d="M588.5,290.9 L592.9,271.2 L598.4,247.1 L603.8,238.4 L608.2,277.8 L608.2,304.1 L603.8,317.2 L600.5,326.0 L597.3,308.5 L592.9,306.3 L588.5,308.5Z" fill="#1f77b4" fill-opacity="0.35" stroke="none" filter="url(#blur2)"/>
<line x1="600.5" y1="277.8" x2="600.5" y2="326.0" stroke="#1f77b4" stroke-width="3.5" stroke-opacity="0.3" stroke-linecap="round" stroke-dasharray="0.6 2.2"/>
<line x1="603.4" y1="255.9" x2="603.4" y2="310.6" stroke="#1f77b4" stroke-width="3.5" stroke-opacity="0.3" stroke-linecap="round" stroke-dasharray="0.6 2.2"/>
<path d="M525.2,327.6 L525.0,329.3 L525.3,330.2 L525.2,332.1 L525.6,332.7 L525.7,333.8 L525.7,335.3 L525.7,336.8 L525.9,337.7 L526.3,339.4 L526.4,340.2 L526.3,341.2 L526.6,343.3 L526.9,343.8 L526.9,345.4 L527.1,346.4 L527.2,347.6 L527.4,346.1 L527.8,344.6 L528.4,343.2 L528.5,342.1 L528.4,340.7 L528.5,339.0 L528.6,337.8 L528.8,336.8 L529.1,335.9 L529.1,334.2 L529.0,332.5 L529.3,332.0 L529.3,330.9 L529.6,328.9 L529.7,328.4 L530.0,326.7 L530.2,325.6 L530.1,324.6 L530.4,323.3 L530.4,322.0 L531.0,323.6 L531.2,324.5 L531.6,326.3 L531.7,327.8 L532.0,328.7 L532.4,330.4 L532.6,331.4 L532.8,332.1 L532.8,331.7 L533.0,329.6 L533.2,328.8 L533.1,328.0 L533.4,326.1 L533.5,324.6 L533.6,323.2 L534.0,322.8 L534.6,321.4 L534.7,319.0 L535.2,321.1 L535.2,321.5 L535.6,323.1 L535.8,324.4 L536.0,326.4 L536.1,324.3 L536.1,323.6 L536.4,322.2 L536.6,321.0 L536.6,319.8 L536.8,318.9 L537.2,317.4 L537.3,315.9 L537.6,314.3 L538.1,312.8" fill="none" stroke="#1f77b4" stroke-width="4.0" stroke-linejoin="round" stroke-linecap="round" stroke-opacity="1.0"/>
<path d="M537.8,312.9 L538.4,312.8 L539.0,310.6 L540.0,312.6 L540.3,312.4 L541.1,313.2 L541.4,315.0" fill="none" stroke="#1f77b4" stroke-width="7.5" stroke-linejoin="round" stroke-linecap="round" stroke-opacity="0.3"/>
<path d="M537.8,312.9 L538.4,312.8 L539.0,310.6 L540.0,312.6 L540.3,312.4 L541.1,313.2 L541.4,315.0" fill="none" stroke="#1f77b4" stroke-width="4.5" stroke-linejoin="round" stroke-linecap="round" stroke-opacity="1.0"/>
<path d="M541.3,315.3 L541.7,316.0 L542.1,318.4 L542.5,319.4" fill="none" stroke="#1f77b4" stroke-width="4.0" stroke-linejoin="round" stroke-linecap="round" stroke-opacity="1.0"/>
<path d="M542.3,319.4 L543.2,318.2 L543.4,317.1 L544.2,315.8 L544.5,315.7 L545.2,312.9 L545.8,312.8" fill="none" stroke="#1f77b4" stroke-width="7.5" stroke-linejoin="round" stroke-linecap="round" stroke-opacity="0.3"/>
<path d="M542.3,319.4 L543.2,318.2 L543.4,317.1 L544.2,315.8 L544.5,315.7 L545.2,312.9 L545.8,312.8" fill="none" stroke="#1f77b4" stroke-width="4.5" stroke-linejoin="round" stroke-linecap="round" stroke-opacity="1.0"/>
<path d="M545.7,312.3 L546.3,314.0 L546.6,315.4 L546.9,317.2" fill="none" stroke="#1f77b4" stroke-width="4.0" stroke-linejoin="round" stroke-linecap="round" stroke-opacity="1.0"/>
<path d="M547.0,317.9 L547.2,317.1 L547.7,314.6 L548.8,313.0 L549.1,312.8" fill="none" stroke="#1f77b4" stroke-width="7.5" stroke-linejoin="round" stroke-linecap="round" stroke-opacity="0.3"/>
<path d="M547.0,317.9 L547.2,317.1 L547.7,314.6 L548.8,313.0 L549.1,312.8" fill="none" stroke="#1f77b4" stroke-width="4.5" stroke-linejoin="round" stroke-linecap="round" stroke-opacity="1.0"/>
<path d="M549.1,312.5 L549.3,314.8 L549.7,315.5 L550.2,317.2" fill="none" stroke="#1f77b4" stroke-width="4.0" stroke-linejoin="round" stroke-linecap="round" stroke-opacity="1.0"/>
<path d="M550.0,318.4 L551.0,317.7 L551.3,319.4" fill="none" stroke="#1f77b4" stroke-width="7.5" stroke-linejoin="round" stroke-linecap="round" stroke-opacity="0.3"/>
<path d="M550.0,318.4 L551.0,317.7 L551.3,319.4" fill="none" stroke="#1f77b4" stroke-width="4.5" stroke-linejoin="round" stroke-linecap="round" stroke-opacity="1.0"/>
<path d="M551.1,319.2 L551.7,318.3 L552.1,316.4 L552.3,314.4 L552.9,314.1 L553.0,312.3 L553.5,310.6" fill="none" stroke="#1f77b4" stroke-width="4.0" stroke-linejoin="round" stroke-linecap="round" stroke-opacity="1.0"/>
<path d="M553.4,310.1 L553.8,310.8 L554.7,313.6 L554.8,314.6 L555.9,313.9 L557.1,314.1 L558.2,313.2 L559.2,314.3 L560.0,313.9 L560.9,314.8 L562.0,313.5 L563.3,311.0 L564.7,309.5 L565.5,312.8 L566.5,313.2 L567.4,312.1 L569.0,311.6 L570.2,310.4 L570.8,309.9 L572.1,308.0 L573.5,307.3 L574.3,310.1 L575.4,310.5 L576.2,309.0 L577.4,309.4 L578.4,308.4 L578.6,306.1 L579.5,304.0 L579.7,304.1" fill="none" stroke="#1f77b4" stroke-width="7.5" stroke-linejoin="round" stroke-linecap="round" stroke-opacity="0.3"/>
<path d="M553.4,310.1 L553.8,310.8 L554.7,313.6 L554.8,314.6 L555.9,313.9 L557.1,314.1 L558.2,313.2 L559.2,314.3 L560.0,313.9 L560.9,314.8 L562.0,313.5 L563.3,311.0 L564.7,309.5 L565.5,312.8 L566.5,313.2 L567.4,312.1 L569.0,311.6 L570.2,310.4 L570.8,309.9 L572.1,308.0 L573.5,307.3 L574.3,310.1 L575.4,310.5 L576.2,309.0 L577.4,309.4 L578.4,308.4 L578.6,306.1 L579.5,304.0 L579.7,304.1" fill="none" stroke="#1f77b4" stroke-width="4.5" stroke-linejoin="round" stroke-linecap="round" stroke-opacity="1.0"/>
<path d="M579.9,303.5 L580.3,303.1 L580.5,301.0 L580.8,299.3 L581.1,301.4 L581.2,302.9 L581.4,303.4 L581.6,305.4 L581.9,306.7 L582.2,307.9 L582.7,309.5 L582.9,310.2 L583.3,309.5 L583.5,307.4 L583.8,307.0 L583.8,304.9 L584.0,304.0 L584.4,302.9 L584.8,301.1 L585.2,299.8 L585.6,301.2 L586.1,302.3 L586.3,304.1" fill="none" stroke="#1f77b4" stroke-width="4.0" stroke-linejoin="round" stroke-linecap="round" stroke-opacity="1.0"/>
<path d="M586.4,303.9 L586.9,304.1 L587.4,306.3" fill="none" stroke="#1f77b4" stroke-width="7.5" stroke-linejoin="round" stroke-linecap="round" stroke-opacity="0.3"/>
<path d="M586.4,303.9 L586.9,304.1 L587.4,306.3" fill="none" stroke="#1f77b4" stroke-width="4.5" stroke-linejoin="round" stroke-linecap="round" stroke-opacity="1.0"/>
<path d="M587.5,305.8 L587.5,304.8 L587.8,304.1 L588.0,302.8 L588.3,300.8 L588.5,300.0 L588.6,298.2 L588.6,297.3 L589.0,296.2 L589.0,294.9 L589.0,293.8 L589.3,292.7 L589.4,291.1 L589.5,289.5 L589.6,289.0 L589.8,288.1 L589.9,286.3 L590.0,284.7 L590.2,284.5 L590.3,282.5 L590.4,281.1 L590.5,280.0 L590.5,278.7 L590.7,277.3 L591.1,276.3 L591.3,275.3 L591.6,273.4 L592.1,274.3 L592.4,276.2 L592.9,277.3 L593.3,276.6 L593.3,275.8 L593.6,274.4 L593.9,273.1 L594.0,271.2" fill="none" stroke="#1f77b4" stroke-width="4.0" stroke-linejoin="round" stroke-linecap="round" stroke-opacity="1.0"/>
<path d="M593.8,272.4 L594.4,269.6 L595.1,269.0" fill="none" stroke="#1f77b4" stroke-width="7.5" stroke-linejoin="round" stroke-linecap="round" stroke-opacity="0.3"/>
<path d="M593.8,272.4 L594.4,269.6 L595.1,269.0" fill="none" stroke="#1f77b4" stroke-width="4.5" stroke-linejoin="round" stroke-linecap="round" stroke-opacity="1.0"/>
<path d="M595.2,269.4 L595.4,270.0 L595.3,271.5 L595.5,272.9 L595.8,274.0 L595.7,275.5 L596.0,276.6 L596.2,278.0 L596.3,276.1 L596.5,275.4 L596.6,274.0 L596.5,273.2 L596.9,272.2 L596.9,270.7 L597.1,269.5 L597.3,268.1 L597.2,267.3 L597.5,265.7 L597.2,264.9 L597.5,262.8 L597.5,261.7 L597.6,260.2 L597.8,259.1 L597.9,258.2 L597.9,257.5 L597.7,255.8 L597.8,254.7 L597.9,253.3 L598.1,251.8 L598.3,251.1 L598.1,250.1 L598.4,248.5 L598.3,247.4 L598.6,248.6 L598.7,249.5 L598.8,250.8 L598.8,251.8 L599.2,253.9 L599.5,254.8 L599.6,255.8 L599.4,257.6 L599.5,258.5 L599.5,259.2 L599.7,260.2 L599.6,261.9 L599.8,263.5 L599.8,264.4 L600.0,265.1 L600.1,266.3 L600.1,267.7 L600.3,269.9 L600.3,270.2 L600.2,271.5 L600.2,272.9 L600.4,274.1 L600.4,275.7 L600.4,276.9 L600.7,277.2 L600.7,278.7 L600.6,280.5 L600.7,281.5 L601.0,282.7 L601.0,284.3 L601.0,284.7 L600.9,286.1 L601.2,287.8 L601.1,289.3 L601.3,289.6 L601.3,291.0 L601.4,292.5 L601.3,293.6 L601.6,294.5 L601.3,296.2 L601.5,297.2 L601.5,298.2 L601.5,299.6 L601.6,298.3 L602.0,297.1 L602.0,296.5 L602.3,295.2 L602.2,293.6 L602.2,292.8 L602.5,291.2 L602.8,289.8 L602.8,288.9 L602.9,288.0 L602.9,286.9 L602.6,285.4 L602.8,283.5 L603.0,282.4 L602.9,281.6 L602.7,280.6 L602.9,278.6 L602.9,277.7 L602.9,277.1 L602.9,275.3 L602.9,274.3 L602.9,273.4 L603.2,271.7 L602.9,270.0 L603.1,269.1 L602.9,267.6 L603.1,266.6 L603.0,265.5 L603.0,264.7 L603.2,263.4 L603.1,261.6 L603.1,261.1 L603.2,259.2 L603.3,258.0 L603.2,257.5 L603.2,255.3 L603.2,254.8 L603.2,253.0 L603.2,252.4 L603.3,250.9 L603.4,249.3 L603.5,248.3 L603.4,246.9 L603.3,246.3 L603.6,245.1 L603.3,243.1 L603.7,241.9 L603.6,241.2 L603.8,239.4 L603.9,238.2 L603.8,240.0 L603.9,241.2 L604.1,241.7 L604.1,243.6 L604.0,244.4 L604.2,246.3 L604.2,247.4 L604.1,248.1 L604.1,249.4 L604.1,251.4 L604.2,252.6 L604.4,253.5 L604.4,254.6 L604.6,255.7 L604.5,257.7 L604.4,258.8 L604.6,259.5 L604.7,260.7 L604.7,262.1 L604.7,263.6 L604.7,264.6 L604.8,265.9 L605.0,266.3 L604.9,268.6 L605.0,269.3 L604.9,270.8 L604.9,271.6 L604.9,272.8 L605.1,274.3 L605.1,275.5 L605.0,276.0 L605.3,278.3 L605.3,278.7 L605.2,280.2 L605.4,282.1 L605.3,282.7 L605.4,284.1 L605.6,285.6 L605.7,286.9 L605.6,287.5 L606.0,289.0 L606.0,290.2 L605.8,292.2 L606.2,293.2 L606.2,294.1 L606.4,296.1 L606.8,297.2 L607.0,298.5 L607.3,300.0 L607.1,298.9 L607.3,297.5 L607.7,295.6 L607.6,294.4 L607.8,294.0 L607.7,292.9 L608.1,291.5 L608.1,290.4 L608.2,288.9 L608.4,287.9 L608.5,286.5 L608.7,284.8 L608.8,284.1 L608.7,283.2 L609.0,281.5 L609.0,280.7 L609.0,278.4 L609.3,277.8 L609.4,278.6 L609.7,280.5 L609.5,281.3 L609.9,283.3 L609.7,284.4 L610.0,285.4 L609.9,286.8 L610.1,288.3 L610.2,289.2 L610.3,290.9 L610.6,292.8 L610.7,293.6 L610.7,294.3 L611.0,295.8 L611.3,296.8 L611.2,298.2 L611.7,299.6 L611.9,300.9 L612.1,302.0 L612.2,303.8 L612.3,304.9 L612.7,306.8 L613.0,304.4 L613.4,303.3 L613.5,302.1 L613.9,303.4 L614.3,304.3 L614.4,305.2 L614.5,307.1 L614.9,308.3 L615.0,309.6 L615.6,311.3 L615.8,312.7 L616.2,314.1 L616.5,315.8 L616.9,316.7 L617.1,316.2 L617.5,315.1 L617.7,313.1 L618.0,312.3 L618.2,310.1 L618.5,309.7 L618.7,308.3 L619.0,306.3 L619.4,307.0 L619.6,308.8 L620.0,310.5 L619.9,311.4 L620.4,312.5 L620.5,311.9 L620.9,310.5 L621.3,308.0 L621.8,307.1 L622.1,305.8 L622.6,303.6 L622.7,305.3 L622.8,306.4 L623.0,308.2 L623.4,309.9 L623.7,310.4 L623.9,309.4 L624.3,308.0 L624.6,306.6 L625.0,304.5 L625.0,304.1 L625.5,302.9 L625.7,300.6 L625.9,299.9 L626.0,301.1 L626.6,302.8 L626.8,304.3 L627.2,305.3 L627.4,306.4 L627.6,308.4 L627.7,309.7 L627.9,310.7 L628.4,312.3 L628.7,313.2 L629.1,315.2 L629.1,313.6 L629.3,312.9 L629.4,310.7 L629.6,309.5 L629.9,308.8 L630.0,307.1 L630.1,306.3" fill="none" stroke="#1f77b4" stroke-width="4.0" stroke-linejoin="round" stroke-linecap="round" stroke-opacity="1.0"/>
<path d="M629.9,305.1 L630.8,304.2 L631.2,304.1" fill="none" stroke="#1f77b4" stroke-width="7.5" stroke-linejoin="round" stroke-linecap="round" stroke-opacity="0.3"/>
<path d="M629.9,305.1 L630.8,304.2 L631.2,304.1" fill="none" stroke="#1f77b4" stroke-width="4.5" stroke-linejoin="round" stroke-linecap="round" stroke-opacity="1.0"/>
<path d="M631.1,304.4 L631.6,305.5 L631.8,306.6 L632.2,308.2 L632.4,310.2 L632.6,310.6 L633.0,312.4 L633.3,313.7 L633.6,315.0 L633.9,314.0 L634.1,312.3 L634.5,310.2 L634.7,312.0 L634.9,313.0 L635.0,314.5 L635.4,316.4 L635.5,317.7 L636.1,318.7 L636.2,320.6 L636.7,321.1 L637.0,323.3 L637.1,324.6 L637.3,325.7 L637.7,326.5 L637.8,328.2" fill="none" stroke="#1f77b4" stroke-width="4.0" stroke-linejoin="round" stroke-linecap="round" stroke-opacity="1.0"/>
<path d="M637.5,327.9 L638.3,326.1 L638.9,326.0" fill="none" stroke="#1f77b4" stroke-width="7.5" stroke-linejoin="round" stroke-linecap="round" stroke-opacity="0.3"/>
<path d="M637.5,327.9 L638.3,326.1 L638.9,326.0" fill="none" stroke="#1f77b4" stroke-width="4.5" stroke-linejoin="round" stroke-linecap="round" stroke-opacity="1.0"/>
<path d="M638.7,326.3 L639.2,324.1 L639.8,322.5 L639.9,322.0 L640.3,320.0 L640.7,318.2 L640.9,317.1 L641.4,316.4 L641.3,315.0 L641.9,313.6 L642.1,312.4 L642.2,310.2 L642.4,312.3 L642.6,312.7 L642.8,314.4 L642.9,316.4 L643.3,317.6 L643.8,318.1 L644.0,320.2 L644.3,321.6" fill="none" stroke="#1f77b4" stroke-width="4.0" stroke-linejoin="round" stroke-linecap="round" stroke-opacity="1.0"/>
<path d="M644.6,321.5 L645.2,319.6 L645.4,319.4" fill="none" stroke="#1f77b4" stroke-width="7.5" stroke-linejoin="round" stroke-linecap="round" stroke-opacity="0.3"/>
<path d="M644.6,321.5 L645.2,319.6 L645.4,319.4" fill="none" stroke="#1f77b4" stroke-width="4.5" stroke-linejoin="round" stroke-linecap="round" stroke-opacity="1.0"/>
<path d="M645.6,319.0 L645.9,318.0 L646.2,316.6 L646.5,315.0" fill="none" stroke="#1f77b4" stroke-width="4.0" stroke-linejoin="round" stroke-linecap="round" stroke-opacity="1.0"/>
<path d="M646.3,316.1 L647.2,316.8 L647.6,317.2" fill="none" stroke="#1f77b4" stroke-width="7.5" stroke-linejoin="round" stroke-linecap="round" stroke-opacity="0.3"/>
<path d="M646.3,316.1 L647.2,316.8 L647.6,317.2" fill="none" stroke="#1f77b4" stroke-width="4.5" stroke-linejoin="round" stroke-linecap="round" stroke-opacity="1.0"/>
<path d="M647.5,316.8 L647.8,318.3 L648.2,320.7 L648.6,321.1 L649.0,319.7 L649.5,319.0 L649.8,317.5 L650.3,315.9 L650.6,314.6 L650.9,312.7 L651.2,313.8 L651.2,315.9 L651.6,316.7 L651.7,317.7 L652.0,319.7 L652.4,320.9 L652.3,322.5 L652.7,322.8 L652.9,324.7 L653.2,326.5 L653.5,324.5 L653.8,322.6 L654.1,321.2 L654.7,319.5 L654.8,318.5 L655.3,317.2" fill="none" stroke="#1f77b4" stroke-width="4.0" stroke-linejoin="round" stroke-linecap="round" stroke-opacity="1.0"/>
<path d="M655.6,316.1 L656.0,319.5 L656.4,319.4" fill="none" stroke="#1f77b4" stroke-width="7.5" stroke-linejoin="round" stroke-linecap="round" stroke-opacity="0.3"/>
<path d="M655.6,316.1 L656.0,319.5 L656.4,319.4" fill="none" stroke="#1f77b4" stroke-width="4.5" stroke-linejoin="round" stroke-linecap="round" stroke-opacity="1.0"/>
<path d="M656.5,319.7 L656.8,321.0 L657.2,321.7 L657.5,323.8" fill="none" stroke="#1f77b4" stroke-width="4.0" stroke-linejoin="round" stroke-linecap="round" stroke-opacity="1.0"/>
<path d="M657.8,322.9 L657.8,325.8 L658.6,326.0" fill="none" stroke="#1f77b4" stroke-width="7.5" stroke-linejoin="round" stroke-linecap="round" stroke-opacity="0.3"/>
<path d="M657.8,322.9 L657.8,325.8 L658.6,326.0" fill="none" stroke="#1f77b4" stroke-width="4.5" stroke-linejoin="round" stroke-linecap="round" stroke-opacity="1.0"/>
<path d="M658.7,326.1 L658.9,327.6 L659.3,328.4 L659.9,330.2 L659.9,329.6 L660.0,327.7 L660.1,326.0 L660.4,324.8 L660.4,324.1 L660.6,322.9 L660.7,321.8 L661.0,322.7 L661.6,324.9 L662.0,326.0 L662.1,327.7 L662.1,328.9 L662.3,329.5 L662.1,331.5 L662.3,332.4 L662.6,333.9 L662.7,334.8 L662.6,336.7 L662.8,338.2 L663.0,338.9 L663.5,340.6 L663.5,342.5 L664.1,343.5" fill="none" stroke="#1f77b4" stroke-width="4.0" stroke-linejoin="round" stroke-linecap="round" stroke-opacity="1.0"/>
<path d="M664.3,343.5 L664.7,343.4 L665.1,341.3" fill="none" stroke="#1f77b4" stroke-width="7.5" stroke-linejoin="round" stroke-linecap="round" stroke-opacity="0.3"/>
<path d="M664.3,343.5 L664.7,343.4 L665.1,341.3" fill="none" stroke="#1f77b4" stroke-width="4.5" stroke-linejoin="round" stroke-linecap="round" stroke-opacity="1.0"/>
<path d="M665.0,341.8 L665.4,339.4 L666.0,337.8 L666.2,336.6 L666.4,336.1 L666.4,334.9 L666.7,333.6 L666.6,332.1 L666.8,330.4 L666.8,329.0 L667.0,328.3 L667.2,326.7 L667.4,325.8 L667.7,325.0 L668.1,323.6 L668.4,321.6" fill="none" stroke="#1f77b4" stroke-width="4.0" stroke-linejoin="round" stroke-linecap="round" stroke-opacity="1.0"/>
<path d="M668.3,322.6 L668.8,319.4 L669.5,319.4" fill="none" stroke="#1f77b4" stroke-width="7.5" stroke-linejoin="round" stroke-linecap="round" stroke-opacity="0.3"/>
<path d="M668.3,322.6 L668.8,319.4 L669.5,319.4" fill="none" stroke="#1f77b4" stroke-width="4.5" stroke-linejoin="round" stroke-linecap="round" stroke-opacity="1.0"/>
<path d="M669.7,319.3 L669.7,321.0 L669.9,322.4 L670.1,322.8 L670.3,324.6 L670.5,326.2 L670.9,324.6 L671.0,323.5 L671.1,321.6 L671.4,321.0 L671.4,320.0 L671.5,318.1 L671.8,316.8 L672.1,319.1 L672.4,319.6 L672.8,321.6" fill="none" stroke="#1f77b4" stroke-width="4.0" stroke-linejoin="round" stroke-linecap="round" stroke-opacity="1.0"/>
<path d="M672.9,321.9 L673.3,322.0 L673.7,324.6 L674.6,325.7 L675.0,326.0" fill="none" stroke="#1f77b4" stroke-width="7.5" stroke-linejoin="round" stroke-linecap="round" stroke-opacity="0.3"/>
<path d="M672.9,321.9 L673.3,322.0 L673.7,324.6 L674.6,325.7 L675.0,326.0" fill="none" stroke="#1f77b4" stroke-width="4.5" stroke-linejoin="round" stroke-linecap="round" stroke-opacity="1.0"/>
</g>
<g class="an" font-size="10" fill="#1f77b4" color="#1f77b4"><text x="525.7" y="242.9">M1: MEAN 0.79</text><text x="553.2" y="253.4">STD 0.07</text></g>
<g class="an" font-size="10" fill="#d62728" color="#d62728"><text x="525.7" y="262.3">M7: MEAN 0.79</text><text x="553.2" y="272.8">STD 0.05</text></g>
<rect x="525.3" y="234.2" width="149.3" height="147.5" fill="none" stroke="#000" stroke-width="1.6"/>
<line x1="518.3" y1="234.2" x2="525.3" y2="234.2" stroke="#000" stroke-width="1.6"/>
<text x="511.1" y="241.7" font-size="20" text-anchor="end">1.10</text>
<line x1="518.3" y1="283.4" x2="525.3" y2="283.4" stroke="#000" stroke-width="1.6"/>
<text x="511.1" y="290.9" font-size="20" text-anchor="end">0.90</text>
<line x1="518.3" y1="332.5" x2="525.3" y2="332.5" stroke="#000" stroke-width="1.6"/>
<text x="511.1" y="340.0" font-size="20" text-anchor="end">0.70</text>
<line x1="518.3" y1="381.7" x2="525.3" y2="381.7" stroke="#000" stroke-width="1.6"/>
<text x="511.1" y="389.2" font-size="20" text-anchor="end">0.50</text>
<line x1="525.3" y1="381.7" x2="525.3" y2="388.7" stroke="#000" stroke-width="1.6"/>
<line x1="562.6" y1="381.7" x2="562.6" y2="388.7" stroke="#000" stroke-width="1.6"/>
<line x1="599.9" y1="381.7" x2="599.9" y2="388.7" stroke="#000" stroke-width="1.6"/>
<line x1="637.3" y1="381.7" x2="637.3" y2="388.7" stroke="#000" stroke-width="1.6"/>
<line x1="674.6" y1="381.7" x2="674.6" y2="388.7" stroke="#000" stroke-width="1.6"/>
<text x="599.9" y="222.3" font-size="20.3" text-anchor="middle">+Z [absp.&amp;diff.]</text>
<clipPath id="c20"><rect x="83.1" y="440.5" width="149.3" height="147.5"/></clipPath>
<rect x="114.0" y="440.5" width="87.7" height="147.5" fill="#e5e5e5" stroke="#d3d3d3" stroke-width="1.6"/>
<g clip-path="url(#c20)">
<path d="M126.8,505.7 L135.6,503.5 L142.1,496.9 L146.5,490.4 L153.1,494.7 L159.6,496.9 L166.2,494.7 L172.8,494.7 L181.5,501.3 L190.3,492.6 L199.1,505.7 L199.1,529.8 L190.3,536.4 L181.5,532.0 L172.8,534.2 L166.2,532.0 L159.6,542.9 L153.1,549.5 L146.5,553.9 L142.1,536.4 L135.6,523.2 L126.8,521.0Z" fill="#d62728" fill-opacity="0.3" stroke="none" filter="url(#blur2)"/>
<path d="M133.4,505.7 L139.9,505.7 L146.5,512.3 L153.1,512.3 L159.6,505.7 L166.2,503.5 L175.0,507.9 L183.7,512.3 L192.5,512.3 L199.1,512.3 L199.1,523.2 L192.5,529.8 L183.7,529.8 L175.0,527.6 L166.2,525.4 L159.6,527.6 L153.1,536.4 L146.5,536.4 L139.9,523.2 L133.4,518.8Z" fill="#d62728" fill-opacity="0.35" stroke="none" filter="url(#blur2)"/>
<path d="M133.4,505.7 L139.9,503.5 L146.5,505.7 L153.1,510.1 L159.6,505.7 L166.2,501.3 L175.0,505.7 L183.7,510.1 L192.5,510.1 L199.1,512.3 L199.1,523.2 L192.5,532.0 L183.7,532.0 L175.0,529.8 L166.2,529.8 L159.6,532.0 L153.1,540.7 L146.5,540.7 L139.9,525.4 L133.4,521.0Z" fill="#d62728" fill-opacity="0.25" stroke="none" filter="url(#blur2)"/>
<line x1="146.5" y1="488.2" x2="146.5" y2="584.5" stroke="#d62728" stroke-width="3.5" stroke-opacity="0.25" stroke-linecap="round" stroke-dasharray="0.6 2.2"/>
<line x1="148.7" y1="527.6" x2="148.7" y2="562.6" stroke="#d62728" stroke-width="3.5" stroke-opacity="0.3" stroke-linecap="round" stroke-dasharray="0.6 2.2"/>
<line x1="154.2" y1="532.0" x2="154.2" y2="553.9" stroke="#d62728" stroke-width="3.5" stroke-opacity="0.3" stroke-linecap="round" stroke-dasharray="0.6 2.2"/>
<line x1="170.6" y1="494.7" x2="170.6" y2="512.3" stroke="#d62728" stroke-width="3.5" stroke-opacity="0.3" stroke-linecap="round" stroke-dasharray="0.6 2.2"/>
<line x1="190.3" y1="492.6" x2="190.3" y2="505.7" stroke="#d62728" stroke-width="3.5" stroke-opacity="0.3" stroke-linecap="round" stroke-dasharray="0.6 2.2"/>
<line x1="193.6" y1="525.4" x2="193.6" y2="536.4" stroke="#d62728" stroke-width="3.5" stroke-opacity="0.3" stroke-linecap="round" stroke-dasharray="0.6 2.2"/>
<line x1="130.1" y1="518.8" x2="130.1" y2="527.6" stroke="#d62728" stroke-width="3.5" stroke-opacity="0.3" stroke-linecap="round" stroke-dasharray="0.6 2.2"/>
<path d="M105.4,512.1 L105.6,510.2 L107.0,511.1 L108.1,512.1 L109.8,511.9 L110.6,511.1 L112.6,510.6 L113.1,511.1 L114.1,513.4 L115.9,511.5 L117.4,511.9 L118.0,510.8 L119.4,510.4 L120.8,513.1 L121.9,510.6 L123.6,512.3 L124.3,512.4 L125.8,510.9 L127.2,511.8 L127.8,510.3 L128.7,513.9 L129.0,512.2 L130.3,514.6 L130.7,515.4 L132.3,511.7 L133.4,512.3 L134.2,509.9 L136.1,510.4 L136.6,511.2 L137.6,510.8 L139.3,512.4 L140.3,513.6 L140.9,511.3 L142.2,513.6 L143.1,514.3 L144.0,514.1 L145.8,517.0 L146.5,516.6 L147.7,515.0 L148.1,518.2 L150.4,515.5 L150.4,517.1 L152.0,517.4 L153.6,519.9 L153.6,518.9 L155.2,518.9 L156.3,518.1 L156.9,515.8 L158.3,514.4 L158.9,514.4 L159.6,515.1 L160.9,512.3 L162.0,513.3 L162.5,513.0 L164.2,511.7 L166.0,513.0 L166.9,514.7 L168.7,513.7 L169.3,514.1 L170.4,515.3 L171.3,516.7 L172.8,515.9 L174.1,518.6 L174.7,518.3 L175.2,519.5 L177.0,518.5 L177.6,517.9 L178.0,518.7 L178.9,520.8 L181.2,519.6 L182.1,522.5 L182.6,520.5 L184.0,522.3 L185.1,520.1 L187.2,521.8 L187.6,522.4 L188.9,521.4 L190.8,519.8 L191.9,518.1 L193.5,520.8 L194.0,521.0 L195.8,519.4 L197.1,519.6 L198.1,519.3 L198.6,518.6 L200.4,518.2 L201.1,516.7 L202.5,516.5 L203.4,514.5" fill="none" stroke="#d62728" stroke-width="10.0" stroke-linejoin="round" stroke-linecap="round" stroke-opacity="0.3"/>
<path d="M105.4,512.1 L105.6,510.2 L107.0,511.1 L108.1,512.1 L109.8,511.9 L110.6,511.1 L112.6,510.6 L113.1,511.1 L114.1,513.4 L115.9,511.5 L117.4,511.9 L118.0,510.8 L119.4,510.4 L120.8,513.1 L121.9,510.6 L123.6,512.3 L124.3,512.4 L125.8,510.9 L127.2,511.8 L127.8,510.3 L128.7,513.9 L129.0,512.2 L130.3,514.6 L130.7,515.4 L132.3,511.7 L133.4,512.3 L134.2,509.9 L136.1,510.4 L136.6,511.2 L137.6,510.8 L139.3,512.4 L140.3,513.6 L140.9,511.3 L142.2,513.6 L143.1,514.3 L144.0,514.1 L145.8,517.0 L146.5,516.6 L147.7,515.0 L148.1,518.2 L150.4,515.5 L150.4,517.1 L152.0,517.4 L153.6,519.9 L153.6,518.9 L155.2,518.9 L156.3,518.1 L156.9,515.8 L158.3,514.4 L158.9,514.4 L159.6,515.1 L160.9,512.3 L162.0,513.3 L162.5,513.0 L164.2,511.7 L166.0,513.0 L166.9,514.7 L168.7,513.7 L169.3,514.1 L170.4,515.3 L171.3,516.7 L172.8,515.9 L174.1,518.6 L174.7,518.3 L175.2,519.5 L177.0,518.5 L177.6,517.9 L178.0,518.7 L178.9,520.8 L181.2,519.6 L182.1,522.5 L182.6,520.5 L184.0,522.3 L185.1,520.1 L187.2,521.8 L187.6,522.4 L188.9,521.4 L190.8,519.8 L191.9,518.1 L193.5,520.8 L194.0,521.0 L195.8,519.4 L197.1,519.6 L198.1,519.3 L198.6,518.6 L200.4,518.2 L201.1,516.7 L202.5,516.5 L203.4,514.5" fill="none" stroke="#d62728" stroke-width="7.0" stroke-linejoin="round" stroke-linecap="round" stroke-opacity="1.0"/>
<path d="M226.5,492.2 L226.8,493.5 L226.9,496.3 L227.4,496.7 L228.1,499.0 L228.0,500.0 L228.6,501.3" fill="none" stroke="#d62728" stroke-width="8.0" stroke-linejoin="round" stroke-linecap="round" stroke-opacity="0.3"/>
<path d="M226.5,492.2 L226.8,493.5 L226.9,496.3 L227.4,496.7 L228.1,499.0 L228.0,500.0 L228.6,501.3" fill="none" stroke="#d62728" stroke-width="5.0" stroke-linejoin="round" stroke-linecap="round" stroke-opacity="1.0"/>
<path d="M138.8,503.5 L143.2,505.7 L148.7,518.8 L155.3,536.4 L158.5,545.1 L158.5,558.2 L155.3,562.6 L150.9,553.9 L146.5,542.9 L142.1,527.6 L138.8,516.6Z" fill="#1f77b4" fill-opacity="0.55" stroke="none" filter="url(#blur2)"/>
<path d="M137.7,505.7 L144.3,510.1 L153.1,512.3 L157.5,483.8 L160.7,481.6 L164.0,457.5 L167.3,494.7 L175.0,507.9 L175.0,521.0 L166.2,536.4 L161.8,562.6 L158.5,553.9 L155.3,558.2 L150.9,549.5 L144.3,532.0 L137.7,518.8Z" fill="#1f77b4" fill-opacity="0.3" stroke="none" filter="url(#blur2)"/>
<line x1="161.2" y1="549.5" x2="161.2" y2="588.9" stroke="#1f77b4" stroke-width="3.5" stroke-opacity="0.3" stroke-linecap="round" stroke-dasharray="0.6 2.2"/>
<line x1="164.0" y1="457.5" x2="164.0" y2="483.8" stroke="#1f77b4" stroke-width="3.5" stroke-opacity="0.3" stroke-linecap="round" stroke-dasharray="0.6 2.2"/>
<line x1="158.5" y1="479.4" x2="158.5" y2="496.9" stroke="#1f77b4" stroke-width="3.0" stroke-opacity="0.3" stroke-linecap="round" stroke-dasharray="0.6 2.2"/>
<path d="M83.0,494.9 L83.5,493.3 L83.8,491.4 L84.2,490.1 L84.1,491.9 L84.4,492.8 L84.5,493.7 L84.7,495.4 L84.6,496.0 L84.7,498.0 L85.1,499.0 L85.0,499.7 L85.2,501.2 L85.6,502.6 L86.1,504.3 L86.2,505.6 L86.4,504.0 L86.6,503.0 L86.9,502.0 L86.8,500.9 L86.9,499.5 L87.0,498.5 L87.4,496.8 L87.5,497.9 L88.0,499.2 L88.0,501.2 L88.3,502.6 L88.3,503.8 L88.5,504.4 L88.9,506.1 L88.9,507.0 L88.9,508.1 L89.1,509.4 L89.5,511.1 L89.7,512.1 L89.6,511.5 L90.1,509.9 L90.1,508.0 L90.4,507.3 L90.7,506.0 L91.2,507.1 L91.4,508.8 L91.8,510.6 L92.0,508.3 L92.1,507.0 L92.5,506.3 L92.8,505.2 L92.9,504.1 L93.2,504.9 L93.1,505.9 L93.5,507.4 L93.5,509.0 L93.5,510.2 L93.7,511.1 L93.9,512.1 L94.2,513.2 L94.3,515.5 L94.5,516.2 L94.8,517.1 L95.2,519.3 L95.0,520.0 L95.1,521.6 L95.3,523.0 L95.6,523.7 L95.4,525.6 L95.8,526.1 L95.9,527.6 L95.6,526.3 L95.8,524.6 L95.8,524.0 L95.8,522.7 L95.9,521.1 L96.0,519.9 L96.0,518.4 L96.1,517.6 L96.2,515.4 L96.1,515.0 L96.4,513.1 L96.9,511.2 L97.2,510.1" fill="none" stroke="#1f77b4" stroke-width="4.0" stroke-linejoin="round" stroke-linecap="round" stroke-opacity="1.0"/>
<path d="M97.4,508.6 L97.5,509.0 L98.1,507.0 L99.9,508.8 L100.7,509.6 L101.2,509.9 L102.9,507.6 L103.7,508.8 L104.7,509.3 L106.0,511.9 L107.1,511.1 L108.6,510.4 L109.3,512.3" fill="none" stroke="#1f77b4" stroke-width="8.5" stroke-linejoin="round" stroke-linecap="round" stroke-opacity="0.3"/>
<path d="M97.4,508.6 L97.5,509.0 L98.1,507.0 L99.9,508.8 L100.7,509.6 L101.2,509.9 L102.9,507.6 L103.7,508.8 L104.7,509.3 L106.0,511.9 L107.1,511.1 L108.6,510.4 L109.3,512.3" fill="none" stroke="#1f77b4" stroke-width="5.5" stroke-linejoin="round" stroke-linecap="round" stroke-opacity="1.0"/>
<path d="M109.1,512.5 L109.6,513.6 L110.1,514.7 L110.4,516.9 L110.6,515.5 L110.9,514.4 L111.2,513.3 L111.4,511.3 L111.5,510.1" fill="none" stroke="#1f77b4" stroke-width="4.0" stroke-linejoin="round" stroke-linecap="round" stroke-opacity="1.0"/>
<path d="M111.4,510.0 L112.4,511.2 L113.7,512.4 L114.6,511.5 L116.0,508.6 L117.2,512.5 L118.3,512.3 L119.0,511.9 L120.2,508.8 L121.2,509.7 L122.3,511.0 L123.4,512.9 L124.4,513.3 L126.0,513.8 L126.6,513.2 L128.0,513.9 L129.2,515.0 L130.3,512.9 L131.2,512.1 L131.9,510.7 L132.9,508.7 L134.0,510.9 L134.4,513.3 L135.0,514.0 L135.5,514.2 L136.4,513.1 L137.7,512.3" fill="none" stroke="#1f77b4" stroke-width="8.5" stroke-linejoin="round" stroke-linecap="round" stroke-opacity="0.3"/>
<path d="M111.4,510.0 L112.4,511.2 L113.7,512.4 L114.6,511.5 L116.0,508.6 L117.2,512.5 L118.3,512.3 L119.0,511.9 L120.2,508.8 L121.2,509.7 L122.3,511.0 L123.4,512.9 L124.4,513.3 L126.0,513.8 L126.6,513.2 L128.0,513.9 L129.2,515.0 L130.3,512.9 L131.2,512.1 L131.9,510.7 L132.9,508.7 L134.0,510.9 L134.4,513.3 L135.0,514.0 L135.5,514.2 L136.4,513.1 L137.7,512.3" fill="none" stroke="#1f77b4" stroke-width="5.5" stroke-linejoin="round" stroke-linecap="round" stroke-opacity="1.0"/>
<path d="M137.8,511.7 L138.3,511.1 L138.6,509.1 L139.1,508.1 L139.6,507.5 L140.0,505.5 L139.9,504.9 L140.3,503.3 L140.4,501.6 L140.5,500.6 L140.6,499.7 L140.8,498.0 L141.0,496.5 L141.3,498.0 L141.3,499.3 L141.6,500.5 L141.5,502.1 L142.0,502.9 L142.1,504.8 L142.1,506.3 L142.2,507.0 L142.4,508.6 L142.5,509.1 L142.6,510.2 L143.1,512.4 L143.0,512.8 L143.3,513.9 L143.4,516.2 L143.6,517.0 L144.0,518.2 L144.1,519.6 L144.3,521.2 L144.4,522.3 L144.9,523.4 L145.0,524.7 L145.3,525.9 L145.4,527.3 L145.6,525.6 L146.1,525.2 L146.5,523.5 L146.6,524.9 L146.8,526.1 L146.9,527.4 L147.3,528.4 L147.4,529.2 L147.3,530.3 L147.6,532.0" fill="none" stroke="#1f77b4" stroke-width="4.0" stroke-linejoin="round" stroke-linecap="round" stroke-opacity="1.0"/>
<path d="M147.9,532.8 L148.1,531.6 L148.7,534.2" fill="none" stroke="#1f77b4" stroke-width="8.5" stroke-linejoin="round" stroke-linecap="round" stroke-opacity="0.3"/>
<path d="M147.9,532.8 L148.1,531.6 L148.7,534.2" fill="none" stroke="#1f77b4" stroke-width="5.5" stroke-linejoin="round" stroke-linecap="round" stroke-opacity="1.0"/>
<path d="M148.6,534.1 L148.9,535.1 L149.3,537.1 L149.4,538.2 L149.6,539.0 L149.9,541.3 L150.2,542.4 L150.4,543.3 L150.9,545.1" fill="none" stroke="#1f77b4" stroke-width="4.0" stroke-linejoin="round" stroke-linecap="round" stroke-opacity="1.0"/>
<path d="M150.5,545.4 L151.3,544.8 L152.0,542.9" fill="none" stroke="#1f77b4" stroke-width="8.5" stroke-linejoin="round" stroke-linecap="round" stroke-opacity="0.3"/>
<path d="M150.5,545.4 L151.3,544.8 L152.0,542.9" fill="none" stroke="#1f77b4" stroke-width="5.5" stroke-linejoin="round" stroke-linecap="round" stroke-opacity="1.0"/>
<path d="M151.9,542.9 L152.2,541.5 L152.2,540.7 L152.5,538.9 L152.8,537.2 L153.1,536.1 L153.2,538.0 L153.2,539.5 L153.3,540.1 L153.4,542.0 L153.6,543.0 L153.8,543.7 L153.7,546.1 L154.0,547.1 L154.1,548.1 L154.1,550.0 L154.4,550.6 L154.5,552.3 L154.7,553.5 L154.8,553.8 L154.9,555.5 L155.1,557.3 L155.0,558.2 L155.1,558.6 L155.2,560.2 L155.2,559.5 L155.6,558.4 L155.4,556.2 L155.7,555.2 L155.8,554.2 L155.7,552.3 L156.0,551.1 L155.8,549.9 L156.1,548.7 L156.2,548.1 L156.2,546.8 L156.3,544.7 L156.3,543.7 L156.3,542.6 L156.5,540.9 L156.5,539.9 L156.3,539.2 L156.4,537.2 L156.6,536.9 L156.6,535.0 L156.4,534.5 L156.5,532.7 L156.5,532.2 L156.9,530.9 L156.8,528.5 L156.9,528.0 L156.8,526.6 L156.6,525.7 L156.8,524.0 L156.9,523.3 L157.0,521.3 L156.7,520.9 L156.7,519.3 L157.1,518.0 L157.1,516.6 L156.8,515.4 L157.2,514.8 L157.0,513.2 L156.9,512.2 L157.2,511.0 L157.3,509.2 L157.2,508.2 L157.0,507.2 L157.2,505.9 L157.3,505.2 L157.2,503.1 L157.2,502.3 L157.4,501.3 L157.4,499.9 L157.2,497.9 L157.6,497.8 L157.6,495.5 L157.6,494.8 L157.7,493.5 L157.6,492.1 L158.0,491.4 L157.9,489.3 L158.1,488.2 L158.3,487.3 L158.5,485.8 L158.3,485.0 L158.4,484.4 L158.6,484.7 L158.5,485.8 L158.7,487.1 L158.6,488.9 L158.9,489.4 L159.1,491.5 L158.8,492.4 L159.1,493.0 L159.3,494.4 L159.1,495.6 L159.1,497.4 L159.3,498.7 L159.5,499.4 L159.5,500.7 L159.5,502.4 L159.6,503.3 L159.6,504.2 L159.6,505.7 L159.5,506.5 L159.6,508.6 L159.7,509.3 L159.8,510.5 L160.1,512.2 L160.0,513.0 L160.0,514.0 L160.0,515.0 L160.2,516.9 L160.3,517.9 L160.5,518.9 L160.3,520.0 L160.4,521.6 L160.4,522.8 L160.6,524.1 L160.6,525.4 L160.6,526.2 L160.6,527.3 L160.7,529.1 L160.7,529.9 L161.0,530.8 L160.9,532.0 L160.8,533.5 L161.1,535.3 L161.1,536.1 L161.1,536.8 L161.0,539.0 L161.2,539.6 L161.2,541.1 L161.3,541.6 L161.3,543.2 L161.3,544.7 L161.2,546.4 L161.2,547.0 L161.4,547.8 L161.4,549.7 L161.4,551.2 L161.5,551.9 L161.5,553.0 L161.7,554.8 L161.7,555.3 L161.8,556.8 L161.8,558.3 L161.7,559.2 L161.7,561.0 L161.7,559.2 L162.0,557.5 L161.8,556.4 L162.0,555.6 L162.1,553.8 L161.9,553.2 L161.9,551.7 L162.0,550.7 L162.0,549.1 L162.2,548.5 L162.1,546.9 L162.0,546.0 L162.1,544.7 L162.0,543.6 L162.3,542.8 L162.1,541.4 L162.4,540.3 L162.2,538.7 L162.3,537.2 L162.3,535.7 L162.2,534.8 L162.5,534.1 L162.2,532.3 L162.5,531.6 L162.4,529.7 L162.3,529.4 L162.6,527.4 L162.5,526.6 L162.4,525.7 L162.5,523.7 L162.4,523.0 L162.6,521.5 L162.6,520.6 L162.7,518.8 L162.5,517.6 L162.7,516.5 L162.8,515.9 L162.6,514.7 L162.8,513.2 L162.7,511.4 L163.0,510.0 L162.7,509.9 L162.7,507.7 L162.9,507.2 L162.9,506.0 L162.9,504.9 L163.0,502.6 L163.1,501.5 L163.2,500.1 L163.1,499.6 L163.2,497.7 L163.1,496.4 L163.3,496.3 L163.1,494.2 L163.1,493.3 L163.1,491.7 L163.4,490.9 L163.4,490.0 L163.3,488.2 L163.5,487.2 L163.6,485.5 L163.6,484.6 L163.5,483.1 L163.6,482.4 L163.5,480.3 L163.8,479.8 L163.6,477.7 L163.9,476.5 L163.9,474.9 L163.9,473.8 L164.1,473.3 L164.1,474.4 L164.2,475.3 L164.4,476.9 L164.4,478.2 L164.6,478.5 L164.8,480.3 L164.8,480.9 L165.1,482.4 L165.0,483.6 L165.2,484.6 L165.3,486.8 L165.4,488.0 L165.4,489.0 L165.4,490.3 L165.6,491.1 L165.5,492.2 L165.6,493.9 L165.8,495.0 L165.9,496.0 L166.0,497.9 L165.9,498.5 L166.1,500.2 L166.1,500.9 L166.4,503.1 L166.5,504.4 L166.5,505.3 L166.9,506.0 L166.9,507.5 L167.1,508.4 L167.2,510.2 L167.3,511.6 L167.5,513.1 L167.8,514.5 L167.8,515.1 L167.9,517.0 L167.9,518.4 L168.2,518.8 L168.1,520.2 L168.2,522.5 L168.5,523.1 L168.6,521.6 L168.7,520.4 L168.9,520.2 L169.0,518.5 L169.2,517.2 L169.2,516.3 L169.3,515.1 L169.5,513.1 L169.4,512.1 L169.8,510.7 L169.9,509.1 L170.2,507.9 L170.5,507.4 L170.6,505.3 L170.8,507.5 L170.9,508.8 L171.2,509.5 L171.6,511.5 L171.7,511.9 L172.0,514.0 L172.3,514.8 L172.3,516.6 L172.5,517.1 L172.8,518.8" fill="none" stroke="#1f77b4" stroke-width="4.0" stroke-linejoin="round" stroke-linecap="round" stroke-opacity="1.0"/>
<path d="M172.4,520.0 L173.7,518.9 L174.7,518.0 L175.4,514.8 L175.8,515.7 L176.4,514.2 L176.8,511.0 L178.6,513.9 L179.5,514.5 L180.4,512.1 L181.6,511.3 L182.4,513.9 L184.1,514.5 L184.8,515.1 L185.7,515.4 L186.7,514.3 L187.9,514.9 L189.3,512.1 L190.2,513.3 L191.6,512.9 L192.7,515.7 L193.9,516.9 L194.6,517.7 L195.0,515.1 L195.3,515.0 L196.7,512.0 L197.2,513.5 L198.1,512.2 L199.4,513.6 L199.7,512.2 L201.2,512.8 L202.1,511.7 L203.6,513.9 L204.5,511.3 L205.5,512.0 L206.9,510.6 L208.2,509.1 L209.0,510.5 L209.6,513.6 L210.2,509.9 L211.2,508.6 L211.4,508.1 L212.2,506.9 L213.6,507.2 L214.8,507.1 L215.4,503.7 L216.3,503.4 L217.5,502.7 L218.8,501.3" fill="none" stroke="#1f77b4" stroke-width="8.5" stroke-linejoin="round" stroke-linecap="round" stroke-opacity="0.3"/>
<path d="M172.4,520.0 L173.7,518.9 L174.7,518.0 L175.4,514.8 L175.8,515.7 L176.4,514.2 L176.8,511.0 L178.6,513.9 L179.5,514.5 L180.4,512.1 L181.6,511.3 L182.4,513.9 L184.1,514.5 L184.8,515.1 L185.7,515.4 L186.7,514.3 L187.9,514.9 L189.3,512.1 L190.2,513.3 L191.6,512.9 L192.7,515.7 L193.9,516.9 L194.6,517.7 L195.0,515.1 L195.3,515.0 L196.7,512.0 L197.2,513.5 L198.1,512.2 L199.4,513.6 L199.7,512.2 L201.2,512.8 L202.1,511.7 L203.6,513.9 L204.5,511.3 L205.5,512.0 L206.9,510.6 L208.2,509.1 L209.0,510.5 L209.6,513.6 L210.2,509.9 L211.2,508.6 L211.4,508.1 L212.2,506.9 L213.6,507.2 L214.8,507.1 L215.4,503.7 L216.3,503.4 L217.5,502.7 L218.8,501.3" fill="none" stroke="#1f77b4" stroke-width="5.5" stroke-linejoin="round" stroke-linecap="round" stroke-opacity="1.0"/>
<path d="M218.8,501.4 L219.1,500.1 L219.4,498.1 L219.9,496.9" fill="none" stroke="#1f77b4" stroke-width="4.0" stroke-linejoin="round" stroke-linecap="round" stroke-opacity="1.0"/>
<path d="M220.3,495.5 L220.5,495.7 L221.0,494.7" fill="none" stroke="#1f77b4" stroke-width="8.5" stroke-linejoin="round" stroke-linecap="round" stroke-opacity="0.3"/>
<path d="M220.3,495.5 L220.5,495.7 L221.0,494.7" fill="none" stroke="#1f77b4" stroke-width="5.5" stroke-linejoin="round" stroke-linecap="round" stroke-opacity="1.0"/>
<path d="M220.9,494.3 L221.2,493.6 L221.8,491.6 L222.1,490.7 L222.1,491.5 L222.5,493.3 L222.9,494.7 L222.8,496.1 L223.0,496.8 L223.2,498.6 L223.5,499.7 L223.7,500.4 L224.2,502.0 L224.2,503.5" fill="none" stroke="#1f77b4" stroke-width="4.0" stroke-linejoin="round" stroke-linecap="round" stroke-opacity="1.0"/>
<path d="M224.1,502.3 L225.0,502.8 L225.3,501.3" fill="none" stroke="#1f77b4" stroke-width="8.5" stroke-linejoin="round" stroke-linecap="round" stroke-opacity="0.3"/>
<path d="M224.1,502.3 L225.0,502.8 L225.3,501.3" fill="none" stroke="#1f77b4" stroke-width="5.5" stroke-linejoin="round" stroke-linecap="round" stroke-opacity="1.0"/>
<path d="M225.2,501.0 L225.5,502.9 L226.1,504.5 L226.4,505.7" fill="none" stroke="#1f77b4" stroke-width="4.0" stroke-linejoin="round" stroke-linecap="round" stroke-opacity="1.0"/>
<path d="M226.1,504.9 L227.0,505.4 L227.5,507.9" fill="none" stroke="#1f77b4" stroke-width="8.5" stroke-linejoin="round" stroke-linecap="round" stroke-opacity="0.3"/>
<path d="M226.1,504.9 L227.0,505.4 L227.5,507.9" fill="none" stroke="#1f77b4" stroke-width="5.5" stroke-linejoin="round" stroke-linecap="round" stroke-opacity="1.0"/>
<path d="M227.6,508.0 L227.8,507.0 L228.4,504.8 L228.7,503.5 L228.8,505.1 L229.4,506.2 L229.7,507.9" fill="none" stroke="#1f77b4" stroke-width="4.0" stroke-linejoin="round" stroke-linecap="round" stroke-opacity="1.0"/>
<path d="M229.3,509.0 L231.0,507.4 L231.5,507.6 L233.0,505.7" fill="none" stroke="#1f77b4" stroke-width="8.5" stroke-linejoin="round" stroke-linecap="round" stroke-opacity="0.3"/>
<path d="M229.3,509.0 L231.0,507.4 L231.5,507.6 L233.0,505.7" fill="none" stroke="#1f77b4" stroke-width="5.5" stroke-linejoin="round" stroke-linecap="round" stroke-opacity="1.0"/>
<path d="M143.2,512.3 L146.5,510.1 L149.8,514.5 L149.8,545.1 L146.5,553.9 L143.2,542.9Z" fill="#d62728" fill-opacity="0.45" stroke="none" filter="url(#blur2)"/>
<path d="M166.2,494.7 L170.6,496.9 L175.0,501.3 L175.0,514.5 L170.6,512.3 L166.2,512.3Z" fill="#d62728" fill-opacity="0.35" stroke="none" filter="url(#blur2)"/>
</g>
<g class="an" font-size="10" fill="#1f77b4" color="#1f77b4"><text x="83.5" y="449.2">M1: MEAN 0.20</text><text x="111.0" y="459.7">STD 0.03</text></g>
<g class="an" font-size="10" fill="#d62728" color="#d62728"><text x="83.5" y="468.6">M7: MEAN 0.19</text><text x="111.0" y="479.1">STD 0.03</text></g>
<rect x="83.1" y="440.5" width="149.3" height="147.5" fill="none" stroke="#000" stroke-width="1.6"/>
<line x1="76.1" y1="440.5" x2="83.1" y2="440.5" stroke="#000" stroke-width="1.6"/>
<text x="68.9" y="448.0" font-size="20" text-anchor="end">0.40</text>
<line x1="76.1" y1="477.4" x2="83.1" y2="477.4" stroke="#000" stroke-width="1.6"/>
<text x="68.9" y="484.9" font-size="20" text-anchor="end">0.30</text>
<line x1="76.1" y1="514.2" x2="83.1" y2="514.2" stroke="#000" stroke-width="1.6"/>
<text x="68.9" y="521.8" font-size="20" text-anchor="end">0.20</text>
<line x1="76.1" y1="551.1" x2="83.1" y2="551.1" stroke="#000" stroke-width="1.6"/>
<text x="68.9" y="558.6" font-size="20" text-anchor="end">0.10</text>
<line x1="76.1" y1="588.0" x2="83.1" y2="588.0" stroke="#000" stroke-width="1.6"/>
<text x="68.9" y="595.5" font-size="20" text-anchor="end">0.00</text>
<line x1="83.1" y1="588.0" x2="83.1" y2="595.0" stroke="#000" stroke-width="1.6"/>
<line x1="120.4" y1="588.0" x2="120.4" y2="595.0" stroke="#000" stroke-width="1.6"/>
<line x1="157.8" y1="588.0" x2="157.8" y2="595.0" stroke="#000" stroke-width="1.6"/>
<line x1="195.1" y1="588.0" x2="195.1" y2="595.0" stroke="#000" stroke-width="1.6"/>
<line x1="232.4" y1="588.0" x2="232.4" y2="595.0" stroke="#000" stroke-width="1.6"/>
<text x="157.8" y="428.6" font-size="20.3" text-anchor="middle">+Z [spec.]</text>
<clipPath id="c21"><rect x="304.2" y="440.5" width="149.3" height="147.5"/></clipPath>
<rect x="335.1" y="440.5" width="87.7" height="147.5" fill="#e5e5e5" stroke="#d3d3d3" stroke-width="1.6"/>
<g clip-path="url(#c21)">
<path d="M347.8,503.5 L354.4,502.4 L360.9,499.1 L367.5,503.5 L369.7,505.7 L369.7,532.0 L367.9,556.1 L365.3,538.5 L360.9,527.6 L354.4,523.2 L347.8,518.8Z" fill="#d62728" fill-opacity="0.35" stroke="none" filter="url(#blur2)"/>
<path d="M387.2,510.1 L398.2,514.5 L404.7,507.9 L413.5,512.3 L424.4,516.6 L431.0,518.8 L431.0,527.6 L424.4,529.8 L417.9,534.2 L413.5,527.6 L404.7,527.6 L398.2,529.8 L387.2,527.6Z" fill="#d62728" fill-opacity="0.45" stroke="none" filter="url(#blur2)"/>
<line x1="367.5" y1="532.0" x2="367.5" y2="558.2" stroke="#d62728" stroke-width="3.5" stroke-opacity="0.3" stroke-linecap="round" stroke-dasharray="0.6 2.2"/>
<line x1="380.6" y1="532.0" x2="380.6" y2="549.5" stroke="#d62728" stroke-width="3.5" stroke-opacity="0.3" stroke-linecap="round" stroke-dasharray="0.6 2.2"/>
<line x1="354.4" y1="505.7" x2="354.4" y2="523.2" stroke="#d62728" stroke-width="3.5" stroke-opacity="0.3" stroke-linecap="round" stroke-dasharray="0.6 2.2"/>
<line x1="369.7" y1="505.7" x2="369.7" y2="532.0" stroke="#d62728" stroke-width="3.5" stroke-opacity="0.25" stroke-linecap="round" stroke-dasharray="0.6 2.2"/>
<line x1="388.3" y1="490.4" x2="388.3" y2="505.7" stroke="#d62728" stroke-width="3.5" stroke-opacity="0.3" stroke-linecap="round" stroke-dasharray="0.6 2.2"/>
<path d="M325.6,513.1 L327.0,514.5 L327.7,513.2 L328.9,512.4 L330.2,515.5 L331.5,512.5 L332.7,514.8 L333.5,512.3 L334.6,511.1 L336.1,512.9 L336.9,514.7 L338.3,512.7 L339.0,513.8 L339.9,512.5 L340.8,512.4 L342.3,512.3 L343.4,512.9 L344.8,511.7 L346.0,511.2 L346.5,511.5 L347.9,509.8 L348.2,508.0 L348.8,507.3 L348.7,505.6 L349.2,506.7 L349.9,507.8 L350.3,509.5 L351.1,510.2 L351.6,507.5 L352.2,508.2 L352.3,506.2 L352.6,507.8 L352.8,508.7 L353.3,509.8 L354.3,511.0 L354.7,512.7 L354.5,513.8 L355.3,513.6 L355.7,514.0 L356.1,510.2 L356.5,509.7 L357.6,511.7 L358.3,512.7 L359.5,512.2 L360.9,513.3 L361.2,517.3 L362.0,516.9 L361.7,518.2 L362.2,516.0 L362.7,517.2 L363.0,515.8 L363.5,514.4 L363.7,512.0 L364.2,510.1" fill="none" stroke="#d62728" stroke-width="9.5" stroke-linejoin="round" stroke-linecap="round" stroke-opacity="0.3"/>
<path d="M325.6,513.1 L327.0,514.5 L327.7,513.2 L328.9,512.4 L330.2,515.5 L331.5,512.5 L332.7,514.8 L333.5,512.3 L334.6,511.1 L336.1,512.9 L336.9,514.7 L338.3,512.7 L339.0,513.8 L339.9,512.5 L340.8,512.4 L342.3,512.3 L343.4,512.9 L344.8,511.7 L346.0,511.2 L346.5,511.5 L347.9,509.8 L348.2,508.0 L348.8,507.3 L348.7,505.6 L349.2,506.7 L349.9,507.8 L350.3,509.5 L351.1,510.2 L351.6,507.5 L352.2,508.2 L352.3,506.2 L352.6,507.8 L352.8,508.7 L353.3,509.8 L354.3,511.0 L354.7,512.7 L354.5,513.8 L355.3,513.6 L355.7,514.0 L356.1,510.2 L356.5,509.7 L357.6,511.7 L358.3,512.7 L359.5,512.2 L360.9,513.3 L361.2,517.3 L362.0,516.9 L361.7,518.2 L362.2,516.0 L362.7,517.2 L363.0,515.8 L363.5,514.4 L363.7,512.0 L364.2,510.1" fill="none" stroke="#d62728" stroke-width="6.5" stroke-linejoin="round" stroke-linecap="round" stroke-opacity="1.0"/>
<path d="M364.3,509.6 L364.5,511.1 L364.7,513.1 L364.9,514.3 L365.0,515.4 L365.0,516.6 L365.0,517.8 L365.3,518.8" fill="none" stroke="#d62728" stroke-width="4.0" stroke-linejoin="round" stroke-linecap="round" stroke-opacity="0.6"/>
<path d="M365.3,518.8 L366.4,532.0 L367.5,545.1 L367.9,556.1 L368.6,538.5 L369.7,523.2" fill="none" stroke="#d62728" stroke-width="3.5" stroke-opacity="0.35" stroke-linecap="round" stroke-dasharray="0.6 2.2"/>
<path d="M369.8,523.6 L369.8,522.1 L370.1,520.6 L370.0,519.1 L370.2,518.2 L370.1,517.7 L370.3,515.7 L370.5,514.7 L370.5,513.5 L370.9,512.6 L371.0,511.2 L371.1,509.7 L371.4,508.4 L371.7,507.0 L371.9,505.7" fill="none" stroke="#d62728" stroke-width="4.0" stroke-linejoin="round" stroke-linecap="round" stroke-opacity="0.6"/>
<path d="M371.6,504.9 L372.3,508.4 L372.5,507.8 L373.3,511.1 L372.9,511.7 L373.3,511.5 L374.1,514.5" fill="none" stroke="#d62728" stroke-width="9.5" stroke-linejoin="round" stroke-linecap="round" stroke-opacity="0.3"/>
<path d="M371.6,504.9 L372.3,508.4 L372.5,507.8 L373.3,511.1 L372.9,511.7 L373.3,511.5 L374.1,514.5" fill="none" stroke="#d62728" stroke-width="6.5" stroke-linejoin="round" stroke-linecap="round" stroke-opacity="1.0"/>
<path d="M374.1,514.7 L374.2,513.6 L374.6,511.8 L374.9,510.3 L374.8,509.6 L375.0,508.4 L375.4,507.0 L375.6,505.8 L375.7,503.9 L376.1,502.7 L376.3,501.3" fill="none" stroke="#d62728" stroke-width="4.0" stroke-linejoin="round" stroke-linecap="round" stroke-opacity="0.6"/>
<path d="M376.0,500.2 L376.7,503.1 L377.4,503.5" fill="none" stroke="#d62728" stroke-width="9.5" stroke-linejoin="round" stroke-linecap="round" stroke-opacity="0.3"/>
<path d="M376.0,500.2 L376.7,503.1 L377.4,503.5" fill="none" stroke="#d62728" stroke-width="6.5" stroke-linejoin="round" stroke-linecap="round" stroke-opacity="1.0"/>
<path d="M377.3,504.0 L377.5,504.7 L377.7,505.9 L377.7,507.2 L377.9,508.9 L378.1,509.3 L378.0,510.5 L378.3,512.3 L378.5,512.7 L378.5,514.5" fill="none" stroke="#d62728" stroke-width="4.0" stroke-linejoin="round" stroke-linecap="round" stroke-opacity="0.6"/>
<path d="M378.5,514.5 L379.5,527.6 L380.6,542.9 L381.1,547.3 L381.7,534.2 L382.8,523.2" fill="none" stroke="#d62728" stroke-width="3.5" stroke-opacity="0.35" stroke-linecap="round" stroke-dasharray="0.6 2.2"/>
<path d="M382.7,523.5 L382.9,521.8 L383.0,520.2 L383.2,519.8 L383.3,517.6 L383.5,516.1 L383.7,515.8 L383.6,513.9 L383.7,513.1 L383.7,511.4 L383.7,509.9 L384.1,508.4 L384.3,508.1 L384.4,505.9 L384.6,505.2 L384.8,503.6 L384.8,502.9 L385.0,501.5 L385.1,499.6 L385.4,498.5 L385.4,498.0 L385.5,496.8 L385.6,495.2 L386.1,494.2 L386.1,492.6" fill="none" stroke="#d62728" stroke-width="4.0" stroke-linejoin="round" stroke-linecap="round" stroke-opacity="0.6"/>
<path d="M386.2,493.0 L386.7,493.7 L386.5,495.6 L387.2,496.9" fill="none" stroke="#d62728" stroke-width="9.5" stroke-linejoin="round" stroke-linecap="round" stroke-opacity="0.3"/>
<path d="M386.2,493.0 L386.7,493.7 L386.5,495.6 L387.2,496.9" fill="none" stroke="#d62728" stroke-width="6.5" stroke-linejoin="round" stroke-linecap="round" stroke-opacity="1.0"/>
<path d="M387.4,496.8 L387.3,498.8 L387.6,499.6 L388.0,501.4 L388.0,502.4 L388.2,503.8 L388.6,504.7 L388.7,505.6 L389.0,507.8 L389.1,509.3 L389.6,510.1 L389.6,511.8 L389.6,512.7 L389.9,514.3 L389.9,515.1 L390.1,515.7 L390.3,518.1 L390.5,518.8" fill="none" stroke="#d62728" stroke-width="4.0" stroke-linejoin="round" stroke-linecap="round" stroke-opacity="0.6"/>
<path d="M390.3,519.2 L391.3,519.4 L391.5,522.0 L391.4,522.9 L392.4,524.7 L393.5,523.0 L394.5,523.9 L395.5,522.2 L397.2,525.3 L398.2,526.6 L399.5,522.8 L400.2,523.7 L401.8,521.2 L402.5,521.0" fill="none" stroke="#d62728" stroke-width="9.5" stroke-linejoin="round" stroke-linecap="round" stroke-opacity="0.3"/>
<path d="M390.3,519.2 L391.3,519.4 L391.5,522.0 L391.4,522.9 L392.4,524.7 L393.5,523.0 L394.5,523.9 L395.5,522.2 L397.2,525.3 L398.2,526.6 L399.5,522.8 L400.2,523.7 L401.8,521.2 L402.5,521.0" fill="none" stroke="#d62728" stroke-width="6.5" stroke-linejoin="round" stroke-linecap="round" stroke-opacity="1.0"/>
<path d="M402.7,521.5 L402.8,519.3 L403.1,518.3 L403.1,517.2 L403.2,515.6 L403.6,514.5" fill="none" stroke="#d62728" stroke-width="4.0" stroke-linejoin="round" stroke-linecap="round" stroke-opacity="0.6"/>
<path d="M403.2,515.6 L404.0,512.1 L404.4,513.4 L405.0,515.2 L405.0,515.8 L405.7,516.1 L406.1,517.6 L406.9,520.6 L407.4,521.1 L408.2,522.7 L408.8,523.8 L410.3,522.7 L411.3,521.0" fill="none" stroke="#d62728" stroke-width="9.5" stroke-linejoin="round" stroke-linecap="round" stroke-opacity="0.3"/>
<path d="M403.2,515.6 L404.0,512.1 L404.4,513.4 L405.0,515.2 L405.0,515.8 L405.7,516.1 L406.1,517.6 L406.9,520.6 L407.4,521.1 L408.2,522.7 L408.8,523.8 L410.3,522.7 L411.3,521.0" fill="none" stroke="#d62728" stroke-width="6.5" stroke-linejoin="round" stroke-linecap="round" stroke-opacity="1.0"/>
<path d="M411.4,520.9 L411.6,519.5 L411.7,518.2 L412.0,517.6 L412.1,515.3 L412.4,514.5" fill="none" stroke="#d62728" stroke-width="4.0" stroke-linejoin="round" stroke-linecap="round" stroke-opacity="0.6"/>
<path d="M412.2,513.4 L412.9,514.5 L413.1,516.4 L413.5,518.8" fill="none" stroke="#d62728" stroke-width="9.5" stroke-linejoin="round" stroke-linecap="round" stroke-opacity="0.3"/>
<path d="M412.2,513.4 L412.9,514.5 L413.1,516.4 L413.5,518.8" fill="none" stroke="#d62728" stroke-width="6.5" stroke-linejoin="round" stroke-linecap="round" stroke-opacity="1.0"/>
<path d="M413.4,518.4 L413.7,520.5 L413.8,521.2 L414.2,522.6 L414.2,523.7 L414.6,525.4" fill="none" stroke="#d62728" stroke-width="4.0" stroke-linejoin="round" stroke-linecap="round" stroke-opacity="0.6"/>
<path d="M414.7,524.0 L415.4,525.1 L415.8,527.2 L416.0,528.6 L416.7,530.3 L417.4,529.7 L417.4,531.2 L418.0,531.0 L418.9,528.5 L419.2,528.9 L419.7,528.6 L420.9,527.8 L422.4,524.6 L423.5,522.8 L424.7,523.5 L425.3,522.1 L426.4,520.6 L427.9,520.7 L428.8,523.2" fill="none" stroke="#d62728" stroke-width="9.5" stroke-linejoin="round" stroke-linecap="round" stroke-opacity="0.3"/>
<path d="M414.7,524.0 L415.4,525.1 L415.8,527.2 L416.0,528.6 L416.7,530.3 L417.4,529.7 L417.4,531.2 L418.0,531.0 L418.9,528.5 L419.2,528.9 L419.7,528.6 L420.9,527.8 L422.4,524.6 L423.5,522.8 L424.7,523.5 L425.3,522.1 L426.4,520.6 L427.9,520.7 L428.8,523.2" fill="none" stroke="#d62728" stroke-width="6.5" stroke-linejoin="round" stroke-linecap="round" stroke-opacity="1.0"/>
<path d="M446.5,514.0 L446.4,514.0 L446.9,510.6 L447.4,510.1" fill="none" stroke="#d62728" stroke-width="8.0" stroke-linejoin="round" stroke-linecap="round" stroke-opacity="0.3"/>
<path d="M446.5,514.0 L446.4,514.0 L446.9,510.6 L447.4,510.1" fill="none" stroke="#d62728" stroke-width="5.0" stroke-linejoin="round" stroke-linecap="round" stroke-opacity="1.0"/>
<path d="M447.3,510.1 L447.5,510.9 L447.8,512.9 L448.2,514.4 L448.5,515.1 L448.5,516.6" fill="none" stroke="#d62728" stroke-width="4.0" stroke-linejoin="round" stroke-linecap="round" stroke-opacity="0.6"/>
<path d="M358.7,510.1 L367.5,496.9 L374.1,481.6 L376.3,475.0 L382.8,453.1 L387.2,488.2 L391.6,512.3 L391.6,521.0 L382.8,518.8 L379.5,532.0 L374.1,512.3 L367.5,516.6 L358.7,518.8Z" fill="#1f77b4" fill-opacity="0.35" stroke="none" filter="url(#blur2)"/>
<path d="M303.8,523.3 L304.3,524.1 L304.3,526.3 L304.5,526.8 L304.6,528.7 L304.8,530.0 L305.1,530.9 L305.1,531.8 L305.4,533.1 L305.8,534.3 L306.1,536.9 L306.5,535.1 L306.8,532.9 L307.3,531.6 L307.5,530.1 L307.6,529.9 L307.6,528.6 L307.9,527.3 L307.9,526.1 L308.0,524.6 L308.4,523.8 L308.5,521.7 L308.9,520.0 L309.0,519.8 L309.2,518.0 L309.5,516.6" fill="none" stroke="#1f77b4" stroke-width="4.0" stroke-linejoin="round" stroke-linecap="round" stroke-opacity="1.0"/>
<path d="M309.7,515.9 L309.7,515.8 L310.5,515.0 L311.1,513.4 L311.9,511.6 L312.1,513.4 L312.8,514.7 L313.4,512.8 L314.2,512.3 L314.4,514.3 L315.0,514.0 L315.7,512.9 L315.8,510.5 L317.3,512.7 L317.7,511.5 L318.2,510.1" fill="none" stroke="#1f77b4" stroke-width="8.0" stroke-linejoin="round" stroke-linecap="round" stroke-opacity="0.3"/>
<path d="M309.7,515.9 L309.7,515.8 L310.5,515.0 L311.1,513.4 L311.9,511.6 L312.1,513.4 L312.8,514.7 L313.4,512.8 L314.2,512.3 L314.4,514.3 L315.0,514.0 L315.7,512.9 L315.8,510.5 L317.3,512.7 L317.7,511.5 L318.2,510.1" fill="none" stroke="#1f77b4" stroke-width="5.0" stroke-linejoin="round" stroke-linecap="round" stroke-opacity="1.0"/>
<path d="M318.2,510.0 L318.6,511.2 L319.0,512.5 L319.3,514.5" fill="none" stroke="#1f77b4" stroke-width="4.0" stroke-linejoin="round" stroke-linecap="round" stroke-opacity="1.0"/>
<path d="M319.1,514.3 L320.3,514.5 L321.4,516.8 L322.9,515.8 L323.7,516.2 L324.6,515.2 L326.2,516.9 L327.1,515.3 L328.1,516.2 L328.9,516.1 L330.3,514.5 L331.6,513.8 L332.7,515.5 L333.7,516.2 L334.7,516.0 L335.9,514.9 L336.9,516.1 L337.7,514.0 L339.0,513.9 L340.4,514.8 L340.9,516.4 L342.4,516.5 L343.1,516.4 L344.4,514.9 L345.6,516.6 L346.5,516.0 L347.5,514.4 L349.1,514.2 L349.7,515.1 L350.8,514.8 L351.9,513.0 L353.6,515.0 L354.3,514.4 L355.2,513.5 L356.8,512.3 L357.5,513.4 L358.7,514.5" fill="none" stroke="#1f77b4" stroke-width="8.0" stroke-linejoin="round" stroke-linecap="round" stroke-opacity="0.3"/>
<path d="M319.1,514.3 L320.3,514.5 L321.4,516.8 L322.9,515.8 L323.7,516.2 L324.6,515.2 L326.2,516.9 L327.1,515.3 L328.1,516.2 L328.9,516.1 L330.3,514.5 L331.6,513.8 L332.7,515.5 L333.7,516.2 L334.7,516.0 L335.9,514.9 L336.9,516.1 L337.7,514.0 L339.0,513.9 L340.4,514.8 L340.9,516.4 L342.4,516.5 L343.1,516.4 L344.4,514.9 L345.6,516.6 L346.5,516.0 L347.5,514.4 L349.1,514.2 L349.7,515.1 L350.8,514.8 L351.9,513.0 L353.6,515.0 L354.3,514.4 L355.2,513.5 L356.8,512.3 L357.5,513.4 L358.7,514.5" fill="none" stroke="#1f77b4" stroke-width="5.0" stroke-linejoin="round" stroke-linecap="round" stroke-opacity="1.0"/>
<path d="M358.9,514.2 L359.0,513.5 L359.5,512.1 L359.7,509.8 L360.0,508.5 L360.4,507.5 L360.4,505.5 L360.9,504.7 L360.9,503.5" fill="none" stroke="#1f77b4" stroke-width="4.0" stroke-linejoin="round" stroke-linecap="round" stroke-opacity="1.0"/>
<path d="M361.1,503.9 L361.6,502.3 L362.0,501.3" fill="none" stroke="#1f77b4" stroke-width="8.0" stroke-linejoin="round" stroke-linecap="round" stroke-opacity="0.3"/>
<path d="M361.1,503.9 L361.6,502.3 L362.0,501.3" fill="none" stroke="#1f77b4" stroke-width="5.0" stroke-linejoin="round" stroke-linecap="round" stroke-opacity="1.0"/>
<path d="M362.0,500.8 L362.3,502.6 L362.6,503.4 L362.7,505.0 L362.9,507.1 L363.0,507.5 L363.4,509.6 L364.0,510.9 L364.3,512.0 L364.4,513.8 L364.8,515.2 L365.3,516.1 L365.5,515.8 L365.8,514.5 L366.0,512.6 L366.3,511.8 L366.4,509.6 L366.6,509.3 L366.9,507.2 L366.9,506.5 L367.0,505.5 L367.4,503.2 L367.3,502.8 L367.4,501.5 L367.8,500.3 L368.4,498.6 L368.6,496.9" fill="none" stroke="#1f77b4" stroke-width="4.0" stroke-linejoin="round" stroke-linecap="round" stroke-opacity="1.0"/>
<path d="M368.5,497.2 L369.5,496.9 L369.7,494.7" fill="none" stroke="#1f77b4" stroke-width="8.0" stroke-linejoin="round" stroke-linecap="round" stroke-opacity="0.3"/>
<path d="M368.5,497.2 L369.5,496.9 L369.7,494.7" fill="none" stroke="#1f77b4" stroke-width="5.0" stroke-linejoin="round" stroke-linecap="round" stroke-opacity="1.0"/>
<path d="M369.9,494.2 L370.0,496.3 L370.3,497.8 L370.8,499.1" fill="none" stroke="#1f77b4" stroke-width="4.0" stroke-linejoin="round" stroke-linecap="round" stroke-opacity="1.0"/>
<path d="M370.8,500.0 L371.0,500.5 L371.9,501.3" fill="none" stroke="#1f77b4" stroke-width="8.0" stroke-linejoin="round" stroke-linecap="round" stroke-opacity="0.3"/>
<path d="M370.8,500.0 L371.0,500.5 L371.9,501.3" fill="none" stroke="#1f77b4" stroke-width="5.0" stroke-linejoin="round" stroke-linecap="round" stroke-opacity="1.0"/>
<path d="M372.0,501.9 L372.0,500.5 L372.2,499.4 L372.2,497.7 L372.4,496.0 L372.5,495.7 L372.5,493.9 L372.8,493.2 L372.9,491.3 L373.1,490.9 L373.2,489.1 L373.8,487.4 L374.2,485.9 L374.6,487.9 L374.7,489.3 L375.1,490.0 L375.2,489.0 L375.5,487.3 L375.5,486.6 L375.7,485.6 L375.7,483.4 L375.9,482.0 L376.0,481.3 L375.9,479.4 L376.2,478.3 L376.3,477.2 L376.5,478.5 L376.7,480.2 L376.9,480.7 L377.3,482.6 L377.3,483.9 L377.5,485.0 L377.8,486.0 L377.7,487.6 L377.8,489.0 L378.0,489.9 L378.0,492.0 L378.2,492.8 L378.4,493.9 L378.2,495.1 L378.4,497.3 L378.4,497.7 L378.5,499.6 L378.7,501.3 L378.8,502.0 L379.0,503.7 L379.0,504.7 L379.1,505.7 L379.4,507.6 L379.3,509.3 L379.5,510.1 L379.6,511.9 L379.8,512.6 L379.9,514.5 L379.7,515.6 L379.7,516.3 L379.8,518.0 L380.0,519.7 L380.2,520.3 L380.2,522.5 L380.0,523.8 L380.4,524.3 L380.2,525.4 L380.4,527.5 L380.6,528.6 L380.7,529.9 L380.8,531.2 L380.5,532.5 L380.7,530.5 L380.7,529.3 L380.9,528.4 L381.0,526.4 L381.1,525.9 L381.2,524.3 L380.9,523.2 L381.1,522.0 L381.3,521.3 L381.1,519.6 L381.4,518.8 L381.1,516.8 L381.3,515.8 L381.4,515.1 L381.3,512.9 L381.5,511.7 L381.3,511.2 L381.4,510.4 L381.7,508.8 L381.6,507.7 L381.4,505.7 L381.5,505.3 L381.7,503.4 L381.7,502.8 L381.7,501.7 L381.8,500.1 L381.8,498.7 L381.7,497.1 L381.8,496.1 L381.9,495.6 L382.1,494.4 L382.1,493.1 L382.1,491.5 L382.3,489.8 L382.2,489.3 L382.2,487.1 L382.2,486.3 L382.2,484.9 L382.2,484.2 L382.5,482.2 L382.6,481.2 L382.4,479.9 L382.6,478.5 L382.6,476.9 L382.6,476.2 L382.7,474.2 L382.9,473.3 L382.8,471.8 L382.7,470.7 L382.9,468.9 L382.8,468.6 L383.0,467.2 L383.1,466.0 L383.1,463.9 L383.2,463.0 L383.1,461.2 L383.0,460.3 L383.2,459.6 L383.1,457.7 L383.4,457.0 L383.2,455.8 L383.4,456.8 L383.2,457.7 L383.3,458.9 L383.6,460.4 L383.6,461.6 L383.5,462.5 L383.6,464.0 L383.6,465.2 L383.6,466.2 L383.7,467.8 L383.6,468.8 L383.7,470.8 L383.8,471.9 L383.8,473.3 L383.8,474.5 L384.2,475.7 L384.2,476.2 L384.0,478.5 L384.3,478.8 L384.2,480.5 L384.3,481.8 L384.5,483.4 L384.3,484.0 L384.6,485.0 L384.5,487.3 L384.7,487.9 L384.6,489.8 L384.8,490.5 L384.9,492.3 L384.9,493.5 L385.0,494.7 L384.9,496.2 L385.0,497.1 L385.0,497.6 L385.3,499.1 L385.1,501.0 L385.2,502.1 L385.4,502.8 L385.5,504.4 L385.5,506.2 L385.5,504.1 L386.0,503.3 L386.1,501.5 L386.4,499.6 L386.4,498.9 L386.9,497.6 L387.1,495.6 L387.1,495.0 L387.7,496.6 L388.0,498.2 L388.4,499.3 L388.7,500.8 L388.7,502.1 L388.8,502.5 L389.1,504.1 L389.5,505.9 L389.4,507.2 L389.5,507.9 L390.0,509.1 L390.0,511.0 L390.0,511.4 L390.4,513.6 L390.5,514.5" fill="none" stroke="#1f77b4" stroke-width="4.0" stroke-linejoin="round" stroke-linecap="round" stroke-opacity="1.0"/>
<path d="M390.8,514.9 L390.8,514.7 L391.7,517.0 L393.0,516.8 L394.0,516.2 L395.1,515.1 L395.7,517.2 L397.4,514.6 L398.0,514.3 L399.1,514.1 L400.2,515.7 L401.8,515.7 L402.4,515.5 L403.5,516.8 L404.5,515.3 L405.5,515.5 L407.1,514.5 L407.7,515.5 L408.6,517.5 L409.4,517.8 L410.2,519.0 L411.4,519.4 L412.1,517.7 L413.6,517.8 L414.9,517.1 L415.9,517.1 L416.9,518.9 L418.2,519.6 L418.9,519.6 L420.0,520.0 L421.4,519.5 L422.2,519.6 L423.2,520.6 L424.7,521.0 L425.7,519.2 L426.6,519.9 L427.9,517.0 L428.8,516.0 L429.6,518.2 L431.2,518.3 L431.4,517.8 L432.6,514.8 L433.0,514.4 L433.6,515.0 L434.5,516.3 L435.2,518.1 L435.4,518.8" fill="none" stroke="#1f77b4" stroke-width="8.0" stroke-linejoin="round" stroke-linecap="round" stroke-opacity="0.3"/>
<path d="M390.8,514.9 L390.8,514.7 L391.7,517.0 L393.0,516.8 L394.0,516.2 L395.1,515.1 L395.7,517.2 L397.4,514.6 L398.0,514.3 L399.1,514.1 L400.2,515.7 L401.8,515.7 L402.4,515.5 L403.5,516.8 L404.5,515.3 L405.5,515.5 L407.1,514.5 L407.7,515.5 L408.6,517.5 L409.4,517.8 L410.2,519.0 L411.4,519.4 L412.1,517.7 L413.6,517.8 L414.9,517.1 L415.9,517.1 L416.9,518.9 L418.2,519.6 L418.9,519.6 L420.0,520.0 L421.4,519.5 L422.2,519.6 L423.2,520.6 L424.7,521.0 L425.7,519.2 L426.6,519.9 L427.9,517.0 L428.8,516.0 L429.6,518.2 L431.2,518.3 L431.4,517.8 L432.6,514.8 L433.0,514.4 L433.6,515.0 L434.5,516.3 L435.2,518.1 L435.4,518.8" fill="none" stroke="#1f77b4" stroke-width="5.0" stroke-linejoin="round" stroke-linecap="round" stroke-opacity="1.0"/>
<path d="M435.3,519.3 L435.5,520.4 L435.7,522.0 L436.1,523.1 L436.2,524.0 L436.5,525.4" fill="none" stroke="#1f77b4" stroke-width="4.0" stroke-linejoin="round" stroke-linecap="round" stroke-opacity="1.0"/>
<path d="M436.7,524.6 L437.4,527.2 L437.6,527.6" fill="none" stroke="#1f77b4" stroke-width="8.0" stroke-linejoin="round" stroke-linecap="round" stroke-opacity="0.3"/>
<path d="M436.7,524.6 L437.4,527.2 L437.6,527.6" fill="none" stroke="#1f77b4" stroke-width="5.0" stroke-linejoin="round" stroke-linecap="round" stroke-opacity="1.0"/>
<path d="M437.6,527.9 L437.8,526.5 L438.4,524.6 L438.8,523.2 L439.0,524.4 L439.0,526.1 L439.3,526.9 L439.4,528.9 L439.6,529.6 L440.1,531.5 L440.5,532.7 L441.0,533.9 L441.2,533.2 L441.4,531.4 L441.6,530.5 L441.9,529.4 L442.0,527.6" fill="none" stroke="#1f77b4" stroke-width="4.0" stroke-linejoin="round" stroke-linecap="round" stroke-opacity="1.0"/>
<path d="M441.6,526.4 L442.4,527.8 L443.2,529.0 L443.2,531.8 L444.1,532.0" fill="none" stroke="#1f77b4" stroke-width="8.0" stroke-linejoin="round" stroke-linecap="round" stroke-opacity="0.3"/>
<path d="M441.6,526.4 L442.4,527.8 L443.2,529.0 L443.2,531.8 L444.1,532.0" fill="none" stroke="#1f77b4" stroke-width="5.0" stroke-linejoin="round" stroke-linecap="round" stroke-opacity="1.0"/>
<path d="M444.0,532.1 L444.2,530.5 L444.4,529.3 L444.9,527.6 L445.2,526.9 L445.3,525.0 L445.8,523.7 L446.1,522.0 L446.3,521.0" fill="none" stroke="#1f77b4" stroke-width="4.0" stroke-linejoin="round" stroke-linecap="round" stroke-opacity="1.0"/>
<path d="M446.4,520.1 L446.7,521.0 L447.4,518.8" fill="none" stroke="#1f77b4" stroke-width="8.0" stroke-linejoin="round" stroke-linecap="round" stroke-opacity="0.3"/>
<path d="M446.4,520.1 L446.7,521.0 L447.4,518.8" fill="none" stroke="#1f77b4" stroke-width="5.0" stroke-linejoin="round" stroke-linecap="round" stroke-opacity="1.0"/>
<path d="M447.3,518.9 L447.6,520.4 L448.0,521.2 L448.4,523.6 L448.7,525.1 L449.4,526.4 L449.8,527.5 L449.7,526.5 L450.0,524.5 L450.1,523.2 L450.6,521.8 L450.7,521.0" fill="none" stroke="#1f77b4" stroke-width="4.0" stroke-linejoin="round" stroke-linecap="round" stroke-opacity="1.0"/>
<path d="M450.8,520.4 L451.3,520.9 L452.1,522.1 L453.5,525.3 L454.0,525.4" fill="none" stroke="#1f77b4" stroke-width="8.0" stroke-linejoin="round" stroke-linecap="round" stroke-opacity="0.3"/>
<path d="M450.8,520.4 L451.3,520.9 L452.1,522.1 L453.5,525.3 L454.0,525.4" fill="none" stroke="#1f77b4" stroke-width="5.0" stroke-linejoin="round" stroke-linecap="round" stroke-opacity="1.0"/>
</g>
<g class="an" font-size="10" fill="#1f77b4" color="#1f77b4"><text x="304.6" y="449.2">M1: MEAN 0.79</text><text x="332.1" y="459.7">STD 0.05</text></g>
<g class="an" font-size="10" fill="#d62728" color="#d62728"><text x="304.6" y="468.6">M7: MEAN 0.79</text><text x="332.1" y="479.1">STD 0.05</text></g>
<rect x="304.2" y="440.5" width="149.3" height="147.5" fill="none" stroke="#000" stroke-width="1.6"/>
<line x1="297.2" y1="440.5" x2="304.2" y2="440.5" stroke="#000" stroke-width="1.6"/>
<text x="290.0" y="448.0" font-size="20" text-anchor="end">1.20</text>
<line x1="297.2" y1="477.4" x2="304.2" y2="477.4" stroke="#000" stroke-width="1.6"/>
<text x="290.0" y="484.9" font-size="20" text-anchor="end">1.00</text>
<line x1="297.2" y1="514.2" x2="304.2" y2="514.2" stroke="#000" stroke-width="1.6"/>
<text x="290.0" y="521.8" font-size="20" text-anchor="end">0.80</text>
<line x1="297.2" y1="551.1" x2="304.2" y2="551.1" stroke="#000" stroke-width="1.6"/>
<text x="290.0" y="558.6" font-size="20" text-anchor="end">0.60</text>
<line x1="297.2" y1="588.0" x2="304.2" y2="588.0" stroke="#000" stroke-width="1.6"/>
<text x="290.0" y="595.5" font-size="20" text-anchor="end">0.40</text>
<line x1="304.2" y1="588.0" x2="304.2" y2="595.0" stroke="#000" stroke-width="1.6"/>
<line x1="341.5" y1="588.0" x2="341.5" y2="595.0" stroke="#000" stroke-width="1.6"/>
<line x1="378.9" y1="588.0" x2="378.9" y2="595.0" stroke="#000" stroke-width="1.6"/>
<line x1="416.2" y1="588.0" x2="416.2" y2="595.0" stroke="#000" stroke-width="1.6"/>
<line x1="453.5" y1="588.0" x2="453.5" y2="595.0" stroke="#000" stroke-width="1.6"/>
<text x="378.9" y="428.6" font-size="20.3" text-anchor="middle">-Z [absp.&amp;diff.]</text>
<clipPath id="c22"><rect x="525.3" y="440.5" width="149.3" height="147.5"/></clipPath>
<rect x="556.2" y="440.5" width="87.7" height="147.5" fill="#e5e5e5" stroke="#d3d3d3" stroke-width="1.6"/>
<g clip-path="url(#c22)">
<path d="M568.8,501.3 L573.2,488.2 L577.6,499.1 L584.1,494.7 L590.7,483.8 L597.3,470.7 L601.6,461.9 L606.0,470.7 L610.4,475.0 L617.0,496.9 L625.7,496.9 L636.7,488.2 L643.2,501.3 L643.2,512.3 L636.7,518.8 L625.7,518.8 L617.0,516.6 L610.4,529.8 L603.8,532.0 L598.4,549.5 L592.9,549.5 L588.5,558.2 L581.9,518.8 L575.4,523.2 L568.8,510.1Z" fill="#d62728" fill-opacity="0.25" stroke="none" filter="url(#blur2)"/>
<line x1="572.1" y1="487.1" x2="572.1" y2="505.7" stroke="#d62728" stroke-width="3.5" stroke-opacity="0.3" stroke-linecap="round" stroke-dasharray="0.6 2.2"/>
<line x1="574.3" y1="488.2" x2="574.3" y2="501.3" stroke="#d62728" stroke-width="3.5" stroke-opacity="0.3" stroke-linecap="round" stroke-dasharray="0.6 2.2"/>
<line x1="576.5" y1="507.9" x2="576.5" y2="523.2" stroke="#d62728" stroke-width="3.5" stroke-opacity="0.3" stroke-linecap="round" stroke-dasharray="0.6 2.2"/>
<line x1="635.6" y1="490.4" x2="635.6" y2="503.5" stroke="#d62728" stroke-width="3.5" stroke-opacity="0.3" stroke-linecap="round" stroke-dasharray="0.6 2.2"/>
<line x1="637.8" y1="490.4" x2="637.8" y2="501.3" stroke="#d62728" stroke-width="3.5" stroke-opacity="0.3" stroke-linecap="round" stroke-dasharray="0.6 2.2"/>
<line x1="638.9" y1="510.1" x2="638.9" y2="518.8" stroke="#d62728" stroke-width="3.5" stroke-opacity="0.3" stroke-linecap="round" stroke-dasharray="0.6 2.2"/>
<line x1="575.4" y1="490.4" x2="575.4" y2="523.2" stroke="#d62728" stroke-width="3.5" stroke-opacity="0.3" stroke-linecap="round" stroke-dasharray="0.6 2.2"/>
<line x1="588.5" y1="510.1" x2="588.5" y2="560.4" stroke="#d62728" stroke-width="3.5" stroke-opacity="0.3" stroke-linecap="round" stroke-dasharray="0.6 2.2"/>
<line x1="591.8" y1="488.2" x2="591.8" y2="549.5" stroke="#d62728" stroke-width="3.5" stroke-opacity="0.3" stroke-linecap="round" stroke-dasharray="0.6 2.2"/>
<line x1="597.3" y1="472.8" x2="597.3" y2="549.5" stroke="#d62728" stroke-width="3.5" stroke-opacity="0.3" stroke-linecap="round" stroke-dasharray="0.6 2.2"/>
<line x1="601.2" y1="461.9" x2="601.2" y2="483.8" stroke="#d62728" stroke-width="3.5" stroke-opacity="0.3" stroke-linecap="round" stroke-dasharray="0.6 2.2"/>
<line x1="608.2" y1="472.8" x2="608.2" y2="496.9" stroke="#d62728" stroke-width="3.5" stroke-opacity="0.3" stroke-linecap="round" stroke-dasharray="0.6 2.2"/>
<line x1="636.7" y1="488.2" x2="636.7" y2="516.6" stroke="#d62728" stroke-width="3.5" stroke-opacity="0.3" stroke-linecap="round" stroke-dasharray="0.6 2.2"/>
<line x1="590.7" y1="512.3" x2="590.7" y2="545.1" stroke="#d62728" stroke-width="3.5" stroke-opacity="0.25" stroke-linecap="round" stroke-dasharray="0.6 2.2"/>
<line x1="595.1" y1="523.2" x2="595.1" y2="549.5" stroke="#d62728" stroke-width="3.5" stroke-opacity="0.25" stroke-linecap="round" stroke-dasharray="0.6 2.2"/>
<path d="M547.1,505.8 L547.6,504.1 L550.5,507.0 L551.4,504.0 L553.3,502.3 L553.7,503.8 L555.1,503.0 L557.5,506.2 L559.1,504.2 L560.8,507.1 L562.0,502.6 L562.6,505.1 L564.2,504.3 L565.8,502.3 L566.7,505.6 L568.8,505.6 L570.9,505.3 L571.8,501.9 L573.4,502.4 L574.0,505.2 L575.6,506.3 L576.3,506.9 L578.0,506.2 L579.6,505.9 L581.9,503.7 L582.0,502.9 L584.7,502.7 L584.8,507.4 L586.3,506.6 L586.8,507.1 L587.7,510.2 L587.9,509.4 L589.6,507.9 L591.3,507.0 L591.5,504.4 L593.0,505.8 L593.3,505.0 L595.2,504.7 L595.6,501.8 L596.9,506.6 L598.0,505.2 L600.1,503.2 L600.8,507.1 L601.3,502.5 L603.2,503.4 L603.5,506.0 L604.6,504.6 L605.4,502.3 L607.8,503.7 L607.7,503.6 L609.6,505.1 L611.6,504.5 L612.8,507.3 L613.9,508.1 L615.0,506.3 L615.8,503.0 L617.2,506.7 L618.7,506.6 L619.9,504.5 L620.6,505.5 L622.1,506.4 L624.2,503.3 L624.7,505.4 L625.8,503.8 L627.2,504.3 L627.5,503.7 L629.5,506.2 L630.2,506.8 L631.3,503.2 L633.2,506.5 L634.9,507.8 L635.8,508.1 L637.3,507.1 L639.1,507.9 L641.1,506.0 L641.5,504.8 L643.3,505.7 L644.8,506.0 L645.9,504.2 L647.6,505.5 L649.3,504.1 L650.9,505.7" fill="none" stroke="#d62728" stroke-width="15.0" stroke-linejoin="round" stroke-linecap="round" stroke-opacity="0.3"/>
<path d="M547.1,505.8 L547.6,504.1 L550.5,507.0 L551.4,504.0 L553.3,502.3 L553.7,503.8 L555.1,503.0 L557.5,506.2 L559.1,504.2 L560.8,507.1 L562.0,502.6 L562.6,505.1 L564.2,504.3 L565.8,502.3 L566.7,505.6 L568.8,505.6 L570.9,505.3 L571.8,501.9 L573.4,502.4 L574.0,505.2 L575.6,506.3 L576.3,506.9 L578.0,506.2 L579.6,505.9 L581.9,503.7 L582.0,502.9 L584.7,502.7 L584.8,507.4 L586.3,506.6 L586.8,507.1 L587.7,510.2 L587.9,509.4 L589.6,507.9 L591.3,507.0 L591.5,504.4 L593.0,505.8 L593.3,505.0 L595.2,504.7 L595.6,501.8 L596.9,506.6 L598.0,505.2 L600.1,503.2 L600.8,507.1 L601.3,502.5 L603.2,503.4 L603.5,506.0 L604.6,504.6 L605.4,502.3 L607.8,503.7 L607.7,503.6 L609.6,505.1 L611.6,504.5 L612.8,507.3 L613.9,508.1 L615.0,506.3 L615.8,503.0 L617.2,506.7 L618.7,506.6 L619.9,504.5 L620.6,505.5 L622.1,506.4 L624.2,503.3 L624.7,505.4 L625.8,503.8 L627.2,504.3 L627.5,503.7 L629.5,506.2 L630.2,506.8 L631.3,503.2 L633.2,506.5 L634.9,507.8 L635.8,508.1 L637.3,507.1 L639.1,507.9 L641.1,506.0 L641.5,504.8 L643.3,505.7 L644.8,506.0 L645.9,504.2 L647.6,505.5 L649.3,504.1 L650.9,505.7" fill="none" stroke="#d62728" stroke-width="12.0" stroke-linejoin="round" stroke-linecap="round" stroke-opacity="1.0"/>
<path d="M667.4,498.9 L667.6,498.6 L668.1,495.6 L668.4,494.2 L669.1,492.5 L669.3,490.7 L669.8,493.7 L669.8,493.4 L670.2,496.5 L670.6,496.9" fill="none" stroke="#d62728" stroke-width="8.0" stroke-linejoin="round" stroke-linecap="round" stroke-opacity="0.3"/>
<path d="M667.4,498.9 L667.6,498.6 L668.1,495.6 L668.4,494.2 L669.1,492.5 L669.3,490.7 L669.8,493.7 L669.8,493.4 L670.2,496.5 L670.6,496.9" fill="none" stroke="#d62728" stroke-width="5.0" stroke-linejoin="round" stroke-linecap="round" stroke-opacity="1.0"/>
<path d="M590.7,499.1 L597.3,492.6 L600.5,470.7 L603.8,488.2 L610.4,501.3 L610.4,512.3 L606.0,536.4 L602.7,567.0 L597.3,545.1 L590.7,512.3Z" fill="#1f77b4" fill-opacity="0.3" stroke="none" filter="url(#blur2)"/>
<line x1="601.6" y1="523.2" x2="601.6" y2="567.0" stroke="#1f77b4" stroke-width="3.5" stroke-opacity="0.3" stroke-linecap="round" stroke-dasharray="0.6 2.2"/>
<line x1="597.3" y1="523.2" x2="597.3" y2="549.5" stroke="#1f77b4" stroke-width="3.0" stroke-opacity="0.3" stroke-linecap="round" stroke-dasharray="0.6 2.2"/>
<line x1="600.5" y1="470.7" x2="600.5" y2="505.7" stroke="#1f77b4" stroke-width="3.0" stroke-opacity="0.25" stroke-linecap="round" stroke-dasharray="0.6 2.2"/>
<path d="M525.1,496.8 L526.1,495.7 L526.1,494.7" fill="none" stroke="#1f77b4" stroke-width="12.0" stroke-linejoin="round" stroke-linecap="round" stroke-opacity="0.3"/>
<path d="M525.1,496.8 L526.1,495.7 L526.1,494.7" fill="none" stroke="#1f77b4" stroke-width="9.0" stroke-linejoin="round" stroke-linecap="round" stroke-opacity="1.0"/>
<path d="M526.0,494.5 L526.3,495.5 L526.4,497.2 L526.5,499.1 L526.7,500.3 L527.0,501.4 L526.9,502.2 L527.2,503.5" fill="none" stroke="#1f77b4" stroke-width="4.0" stroke-linejoin="round" stroke-linecap="round" stroke-opacity="1.0"/>
<path d="M526.8,501.2 L527.8,503.1 L529.9,505.8 L531.1,506.8 L531.3,501.7 L533.4,503.5 L533.8,505.7" fill="none" stroke="#1f77b4" stroke-width="12.0" stroke-linejoin="round" stroke-linecap="round" stroke-opacity="0.3"/>
<path d="M526.8,501.2 L527.8,503.1 L529.9,505.8 L531.1,506.8 L531.3,501.7 L533.4,503.5 L533.8,505.7" fill="none" stroke="#1f77b4" stroke-width="9.0" stroke-linejoin="round" stroke-linecap="round" stroke-opacity="1.0"/>
<path d="M533.8,505.8 L534.0,507.4 L534.5,509.1 L534.8,509.9 L535.3,511.2 L535.7,512.7 L535.9,514.8 L536.4,516.4 L536.6,517.7 L536.9,519.3 L537.4,520.2 L537.8,522.0 L537.8,521.0 L537.7,519.2 L537.8,518.6 L537.8,516.8 L538.1,516.3 L538.1,515.0 L538.1,513.3 L538.2,512.1 L538.5,511.1 L538.5,509.1 L538.8,508.0 L538.9,507.0 L539.2,505.7" fill="none" stroke="#1f77b4" stroke-width="4.0" stroke-linejoin="round" stroke-linecap="round" stroke-opacity="1.0"/>
<path d="M539.8,506.7 L539.5,502.2 L539.6,501.0 L540.7,506.4 L542.2,504.4 L543.3,507.3 L545.2,503.8 L545.4,503.5 L546.7,502.4 L548.4,505.4 L548.6,505.9 L550.3,505.1 L551.3,505.9 L552.5,504.0 L554.2,506.3 L554.7,505.2 L555.9,506.1 L557.3,504.6 L557.3,506.4 L558.7,505.0 L559.3,504.7 L561.2,505.0 L561.8,506.2 L563.9,505.2 L564.6,504.4 L565.2,505.2 L566.3,506.2 L567.9,507.7 L569.2,507.7 L570.3,506.4 L571.7,506.4 L572.2,505.5 L572.6,505.0 L574.9,504.9 L575.7,503.7 L576.2,506.4 L577.8,504.5 L578.6,506.2 L579.0,504.4 L580.5,507.2 L582.3,503.6 L583.1,504.2 L584.8,502.1 L585.4,506.4 L585.8,506.7 L587.7,507.7 L589.2,507.1 L589.6,507.9 L590.8,506.4 L591.6,508.1 L591.1,508.5 L592.9,510.2 L592.4,509.5 L593.0,512.3 L593.6,510.6 L594.6,513.5 L595.1,514.5" fill="none" stroke="#1f77b4" stroke-width="12.0" stroke-linejoin="round" stroke-linecap="round" stroke-opacity="0.3"/>
<path d="M539.8,506.7 L539.5,502.2 L539.6,501.0 L540.7,506.4 L542.2,504.4 L543.3,507.3 L545.2,503.8 L545.4,503.5 L546.7,502.4 L548.4,505.4 L548.6,505.9 L550.3,505.1 L551.3,505.9 L552.5,504.0 L554.2,506.3 L554.7,505.2 L555.9,506.1 L557.3,504.6 L557.3,506.4 L558.7,505.0 L559.3,504.7 L561.2,505.0 L561.8,506.2 L563.9,505.2 L564.6,504.4 L565.2,505.2 L566.3,506.2 L567.9,507.7 L569.2,507.7 L570.3,506.4 L571.7,506.4 L572.2,505.5 L572.6,505.0 L574.9,504.9 L575.7,503.7 L576.2,506.4 L577.8,504.5 L578.6,506.2 L579.0,504.4 L580.5,507.2 L582.3,503.6 L583.1,504.2 L584.8,502.1 L585.4,506.4 L585.8,506.7 L587.7,507.7 L589.2,507.1 L589.6,507.9 L590.8,506.4 L591.6,508.1 L591.1,508.5 L592.9,510.2 L592.4,509.5 L593.0,512.3 L593.6,510.6 L594.6,513.5 L595.1,514.5" fill="none" stroke="#1f77b4" stroke-width="9.0" stroke-linejoin="round" stroke-linecap="round" stroke-opacity="1.0"/>
<path d="M595.0,515.0 L595.3,513.7 L595.5,512.5 L595.4,510.4 L595.7,509.9 L595.8,508.2 L595.9,506.7 L596.1,505.2 L596.3,505.0 L596.3,503.0 L596.6,501.4 L596.7,500.9 L597.0,499.4 L597.1,497.7 L597.1,497.3 L597.4,498.1 L597.7,499.4 L597.8,500.6 L598.0,501.5 L598.1,503.2 L598.1,504.7 L598.5,505.3 L598.4,507.1 L598.5,508.7 L598.4,509.2 L598.7,510.8 L598.7,512.1 L599.0,513.4 L598.7,514.1 L599.1,515.7 L599.0,517.3 L599.0,518.4 L599.1,519.2 L599.1,520.5 L599.3,521.6 L599.3,522.8 L599.8,524.0 L599.9,526.1 L599.8,527.4 L599.9,528.0 L600.1,530.0 L600.4,530.7 L600.7,532.3 L600.6,533.2 L600.7,534.3 L601.0,536.1 L601.0,537.3 L601.3,538.5 L601.4,539.8 L601.5,540.3 L601.6,541.7 L601.9,543.3 L601.9,544.8 L601.8,546.1 L601.9,546.5 L602.0,548.0 L602.2,548.9 L602.2,550.2 L602.3,551.7 L602.2,553.4 L602.3,554.2 L602.4,555.2 L602.5,556.0 L602.6,557.4 L602.6,558.5 L602.7,559.8 L602.8,561.3 L602.8,563.2 L603.0,564.5 L603.1,565.6 L603.1,567.1 L603.4,565.4 L603.2,564.8 L603.1,563.5 L603.3,561.7 L603.4,560.5 L603.2,559.0 L603.5,558.2 L603.4,556.9 L603.4,556.1 L603.5,554.4 L603.6,553.7 L603.6,551.9 L603.4,550.3 L603.7,550.0 L603.7,548.3 L603.8,547.1 L603.9,545.5 L603.9,544.2 L603.8,542.9 L603.9,542.4 L603.8,540.3 L603.9,538.9 L604.0,538.6 L604.3,537.4 L604.3,534.9 L604.3,534.3 L604.4,532.4 L604.5,531.7 L604.7,530.7 L604.8,529.4 L604.8,527.4 L605.2,526.6 L605.0,525.4 L605.3,524.0 L605.5,522.3 L605.7,521.8 L605.7,520.4 L605.9,518.6 L605.9,517.7 L605.9,516.6 L606.0,515.3 L606.2,513.8 L606.6,512.9 L606.5,511.6 L606.9,510.4 L607.1,509.2 L607.1,507.9" fill="none" stroke="#1f77b4" stroke-width="4.0" stroke-linejoin="round" stroke-linecap="round" stroke-opacity="1.0"/>
<path d="M607.5,505.8 L607.0,505.1 L608.4,507.8 L608.6,505.2 L610.2,503.7 L612.0,505.5 L613.2,507.2 L614.0,504.1 L615.3,504.7 L616.3,508.2 L616.4,506.9 L618.4,503.1 L619.2,504.4 L620.1,506.9 L620.9,508.0 L622.5,504.1 L623.1,508.1 L624.0,504.4 L625.1,504.9 L627.6,503.1 L627.5,504.1 L629.1,505.0 L630.1,507.1 L631.3,505.6 L632.1,508.1 L633.1,505.6 L634.3,505.5 L635.6,504.0 L636.8,502.7 L637.6,507.6 L639.5,507.2 L640.2,505.2 L640.6,504.3 L642.7,505.7 L642.6,506.7 L644.7,503.3 L645.3,505.1 L646.0,504.5 L647.8,503.5 L648.6,505.4 L649.9,504.5 L650.9,504.3 L651.7,505.1 L652.4,505.2 L654.2,507.9 L655.7,506.4 L655.8,505.9 L657.4,504.5 L658.5,509.0 L659.6,505.9 L660.8,505.7 L661.4,502.8 L662.5,505.3 L664.6,506.5 L664.9,508.0 L666.7,506.7 L667.1,504.2 L668.2,500.8 L669.5,501.3" fill="none" stroke="#1f77b4" stroke-width="12.0" stroke-linejoin="round" stroke-linecap="round" stroke-opacity="0.3"/>
<path d="M607.5,505.8 L607.0,505.1 L608.4,507.8 L608.6,505.2 L610.2,503.7 L612.0,505.5 L613.2,507.2 L614.0,504.1 L615.3,504.7 L616.3,508.2 L616.4,506.9 L618.4,503.1 L619.2,504.4 L620.1,506.9 L620.9,508.0 L622.5,504.1 L623.1,508.1 L624.0,504.4 L625.1,504.9 L627.6,503.1 L627.5,504.1 L629.1,505.0 L630.1,507.1 L631.3,505.6 L632.1,508.1 L633.1,505.6 L634.3,505.5 L635.6,504.0 L636.8,502.7 L637.6,507.6 L639.5,507.2 L640.2,505.2 L640.6,504.3 L642.7,505.7 L642.6,506.7 L644.7,503.3 L645.3,505.1 L646.0,504.5 L647.8,503.5 L648.6,505.4 L649.9,504.5 L650.9,504.3 L651.7,505.1 L652.4,505.2 L654.2,507.9 L655.7,506.4 L655.8,505.9 L657.4,504.5 L658.5,509.0 L659.6,505.9 L660.8,505.7 L661.4,502.8 L662.5,505.3 L664.6,506.5 L664.9,508.0 L666.7,506.7 L667.1,504.2 L668.2,500.8 L669.5,501.3" fill="none" stroke="#1f77b4" stroke-width="9.0" stroke-linejoin="round" stroke-linecap="round" stroke-opacity="1.0"/>
<path d="M669.5,501.8 L669.7,503.1 L670.4,503.6 L670.6,505.7" fill="none" stroke="#1f77b4" stroke-width="4.0" stroke-linejoin="round" stroke-linecap="round" stroke-opacity="1.0"/>
<path d="M671.2,506.9 L671.4,504.8 L671.7,503.5 L672.8,506.3 L673.4,505.6 L675.0,505.7" fill="none" stroke="#1f77b4" stroke-width="12.0" stroke-linejoin="round" stroke-linecap="round" stroke-opacity="0.3"/>
<path d="M671.2,506.9 L671.4,504.8 L671.7,503.5 L672.8,506.3 L673.4,505.6 L675.0,505.7" fill="none" stroke="#1f77b4" stroke-width="9.0" stroke-linejoin="round" stroke-linecap="round" stroke-opacity="1.0"/>
</g>
<g class="an" font-size="10" fill="#1f77b4" color="#1f77b4"><text x="525.7" y="449.2">M1: MEAN 0.18</text><text x="553.2" y="459.7">STD 0.02</text></g>
<g class="an" font-size="10" fill="#d62728" color="#d62728"><text x="525.7" y="468.6">M7: MEAN 0.18</text><text x="553.2" y="479.1">STD 0.03</text></g>
<rect x="525.3" y="440.5" width="149.3" height="147.5" fill="none" stroke="#000" stroke-width="1.6"/>
<line x1="518.3" y1="440.5" x2="525.3" y2="440.5" stroke="#000" stroke-width="1.6"/>
<text x="511.1" y="448.0" font-size="20" text-anchor="end">0.40</text>
<line x1="518.3" y1="470.0" x2="525.3" y2="470.0" stroke="#000" stroke-width="1.6"/>
<text x="511.1" y="477.5" font-size="20" text-anchor="end">0.30</text>
<line x1="518.3" y1="499.5" x2="525.3" y2="499.5" stroke="#000" stroke-width="1.6"/>
<text x="511.1" y="507.0" font-size="20" text-anchor="end">0.20</text>
<line x1="518.3" y1="529.0" x2="525.3" y2="529.0" stroke="#000" stroke-width="1.6"/>
<text x="511.1" y="536.5" font-size="20" text-anchor="end">0.10</text>
<line x1="518.3" y1="558.5" x2="525.3" y2="558.5" stroke="#000" stroke-width="1.6"/>
<text x="511.1" y="566.0" font-size="20" text-anchor="end">0.00</text>
<line x1="518.3" y1="588.0" x2="525.3" y2="588.0" stroke="#000" stroke-width="1.6"/>
<text x="511.1" y="595.5" font-size="20" text-anchor="end">-0.10</text>
<line x1="525.3" y1="588.0" x2="525.3" y2="595.0" stroke="#000" stroke-width="1.6"/>
<text x="525.3" y="617.3" font-size="20" text-anchor="middle">−20</text>
<line x1="562.6" y1="588.0" x2="562.6" y2="595.0" stroke="#000" stroke-width="1.6"/>
<text x="562.6" y="617.3" font-size="20" text-anchor="middle">−10</text>
<line x1="599.9" y1="588.0" x2="599.9" y2="595.0" stroke="#000" stroke-width="1.6"/>
<text x="599.9" y="617.3" font-size="20" text-anchor="middle">0</text>
<line x1="637.3" y1="588.0" x2="637.3" y2="595.0" stroke="#000" stroke-width="1.6"/>
<text x="637.3" y="617.3" font-size="20" text-anchor="middle">10</text>
<line x1="674.6" y1="588.0" x2="674.6" y2="595.0" stroke="#000" stroke-width="1.6"/>
<text x="674.6" y="617.3" font-size="20" text-anchor="middle">20</text>
<text x="599.9" y="428.6" font-size="20.3" text-anchor="middle">-Z [spec.]</text>
<clipPath id="c30"><rect x="83.1" y="646.8" width="149.3" height="147.5"/></clipPath>
<rect x="114.0" y="646.8" width="87.7" height="147.5" fill="#e5e5e5" stroke="#d3d3d3" stroke-width="1.6"/>
<g clip-path="url(#c30)">
<path d="M104.9,729.1 L115.8,728.0 L126.8,721.5 L135.6,717.1 L139.9,714.9 L144.3,712.7 L148.7,717.1 L155.3,719.3 L166.2,717.1 L175.0,717.1 L183.7,717.1 L192.5,725.8 L201.2,732.4 L207.8,734.6 L207.8,741.2 L201.2,749.9 L194.7,763.1 L185.9,760.9 L179.4,754.3 L170.6,756.5 L161.8,756.5 L155.3,752.1 L148.7,760.9 L142.1,741.2 L135.6,739.0 L126.8,737.9 L115.8,739.0 L104.9,736.8Z" fill="#d62728" fill-opacity="0.32" stroke="none" filter="url(#blur2)"/>
<line x1="146.5" y1="682.0" x2="146.5" y2="712.7" stroke="#d62728" stroke-width="3.5" stroke-opacity="0.3" stroke-linecap="round" stroke-dasharray="0.6 2.2"/>
<line x1="148.7" y1="741.2" x2="148.7" y2="765.2" stroke="#d62728" stroke-width="3.5" stroke-opacity="0.3" stroke-linecap="round" stroke-dasharray="0.6 2.2"/>
<line x1="149.8" y1="708.3" x2="149.8" y2="719.3" stroke="#d62728" stroke-width="3.5" stroke-opacity="0.3" stroke-linecap="round" stroke-dasharray="0.6 2.2"/>
<line x1="184.8" y1="714.9" x2="184.8" y2="725.8" stroke="#d62728" stroke-width="3.5" stroke-opacity="0.3" stroke-linecap="round" stroke-dasharray="0.6 2.2"/>
<line x1="194.7" y1="747.7" x2="194.7" y2="763.1" stroke="#d62728" stroke-width="3.5" stroke-opacity="0.3" stroke-linecap="round" stroke-dasharray="0.6 2.2"/>
<line x1="131.2" y1="719.3" x2="131.2" y2="730.2" stroke="#d62728" stroke-width="3.5" stroke-opacity="0.3" stroke-linecap="round" stroke-dasharray="0.6 2.2"/>
<line x1="155.3" y1="710.5" x2="155.3" y2="725.8" stroke="#d62728" stroke-width="3.5" stroke-opacity="0.3" stroke-linecap="round" stroke-dasharray="0.6 2.2"/>
<line x1="158.5" y1="693.0" x2="158.5" y2="719.3" stroke="#d62728" stroke-width="3.5" stroke-opacity="0.3" stroke-linecap="round" stroke-dasharray="0.6 2.2"/>
<line x1="164.0" y1="712.7" x2="164.0" y2="739.0" stroke="#d62728" stroke-width="3.5" stroke-opacity="0.3" stroke-linecap="round" stroke-dasharray="0.6 2.2"/>
<path d="M105.0,734.2 L106.3,733.8 L107.4,733.3 L108.0,733.1 L110.0,733.8 L111.3,731.4 L112.4,730.8 L114.0,732.6 L114.0,732.8 L115.7,730.1 L117.5,732.8 L119.0,733.5 L118.8,733.3 L120.8,732.9 L122.6,728.4 L123.7,731.7 L124.2,728.0 L125.6,731.4 L126.7,731.3 L128.4,731.2 L128.6,730.1 L131.0,730.5 L131.4,729.3 L133.0,729.9 L135.0,725.2 L135.6,726.4 L136.8,727.3 L138.9,725.5 L140.1,724.3 L140.6,723.7 L142.2,727.8 L143.0,724.2 L143.3,727.7 L145.5,728.7 L145.3,731.8 L146.0,729.9 L147.2,730.2 L147.0,732.9 L148.2,733.2 L148.6,732.9 L149.0,734.1 L149.5,738.9 L150.4,736.4 L151.4,740.4 L151.5,740.5 L153.3,739.4 L154.2,739.6 L155.9,741.0 L156.9,743.3 L158.3,744.2 L158.7,741.6 L159.9,741.8 L161.4,745.1 L163.8,743.7 L163.9,743.3 L165.6,744.9 L167.2,746.3 L168.3,745.0 L170.0,747.3 L170.9,744.6 L171.4,744.6 L172.8,745.9 L174.7,745.0 L175.9,743.9 L177.6,745.4 L177.4,744.4 L180.1,743.7 L180.7,746.7 L182.4,746.5 L183.5,744.7 L183.9,746.9 L185.4,749.4 L187.0,748.0 L187.9,747.5 L190.1,751.5 L190.8,750.0 L192.1,751.9 L193.0,747.2 L193.7,746.6 L195.2,746.4 L195.9,744.7 L196.8,744.7 L198.7,745.9 L198.4,744.5 L200.0,742.9 L201.2,740.6 L202.0,743.2 L203.5,742.3 L204.9,738.4 L206.9,738.4 L207.8,739.0" fill="none" stroke="#d62728" stroke-width="9.5" stroke-linejoin="round" stroke-linecap="round" stroke-opacity="0.3"/>
<path d="M105.0,734.2 L106.3,733.8 L107.4,733.3 L108.0,733.1 L110.0,733.8 L111.3,731.4 L112.4,730.8 L114.0,732.6 L114.0,732.8 L115.7,730.1 L117.5,732.8 L119.0,733.5 L118.8,733.3 L120.8,732.9 L122.6,728.4 L123.7,731.7 L124.2,728.0 L125.6,731.4 L126.7,731.3 L128.4,731.2 L128.6,730.1 L131.0,730.5 L131.4,729.3 L133.0,729.9 L135.0,725.2 L135.6,726.4 L136.8,727.3 L138.9,725.5 L140.1,724.3 L140.6,723.7 L142.2,727.8 L143.0,724.2 L143.3,727.7 L145.5,728.7 L145.3,731.8 L146.0,729.9 L147.2,730.2 L147.0,732.9 L148.2,733.2 L148.6,732.9 L149.0,734.1 L149.5,738.9 L150.4,736.4 L151.4,740.4 L151.5,740.5 L153.3,739.4 L154.2,739.6 L155.9,741.0 L156.9,743.3 L158.3,744.2 L158.7,741.6 L159.9,741.8 L161.4,745.1 L163.8,743.7 L163.9,743.3 L165.6,744.9 L167.2,746.3 L168.3,745.0 L170.0,747.3 L170.9,744.6 L171.4,744.6 L172.8,745.9 L174.7,745.0 L175.9,743.9 L177.6,745.4 L177.4,744.4 L180.1,743.7 L180.7,746.7 L182.4,746.5 L183.5,744.7 L183.9,746.9 L185.4,749.4 L187.0,748.0 L187.9,747.5 L190.1,751.5 L190.8,750.0 L192.1,751.9 L193.0,747.2 L193.7,746.6 L195.2,746.4 L195.9,744.7 L196.8,744.7 L198.7,745.9 L198.4,744.5 L200.0,742.9 L201.2,740.6 L202.0,743.2 L203.5,742.3 L204.9,738.4 L206.9,738.4 L207.8,739.0" fill="none" stroke="#d62728" stroke-width="6.5" stroke-linejoin="round" stroke-linecap="round" stroke-opacity="1.0"/>
<path d="M226.5,743.2 L226.4,745.0 L226.7,745.7 L226.6,746.5 L226.6,748.3 L226.9,749.8 L226.9,750.9 L226.9,751.8 L227.1,753.0 L227.1,754.3" fill="none" stroke="#d62728" stroke-width="4.0" stroke-linejoin="round" stroke-linecap="round" stroke-opacity="0.6"/>
<path d="M227.2,754.4 L227.0,755.6 L227.2,757.8 L227.5,758.7" fill="none" stroke="#d62728" stroke-width="8.0" stroke-linejoin="round" stroke-linecap="round" stroke-opacity="0.3"/>
<path d="M227.2,754.4 L227.0,755.6 L227.2,757.8 L227.5,758.7" fill="none" stroke="#d62728" stroke-width="5.0" stroke-linejoin="round" stroke-linecap="round" stroke-opacity="1.0"/>
<path d="M153.1,734.6 L156.4,719.3 L158.5,695.2 L161.4,679.8 L164.0,712.7 L168.4,732.4 L168.4,745.5 L164.5,778.4 L161.8,765.2 L158.5,769.6 L156.4,760.9 L153.1,745.5Z" fill="#1f77b4" fill-opacity="0.3" stroke="none" filter="url(#blur2)"/>
<line x1="157.5" y1="743.4" x2="157.5" y2="782.8" stroke="#1f77b4" stroke-width="3.0" stroke-opacity="0.3" stroke-linecap="round" stroke-dasharray="0.6 2.2"/>
<line x1="96.1" y1="714.9" x2="96.1" y2="725.8" stroke="#1f77b4" stroke-width="3.0" stroke-opacity="0.3" stroke-linecap="round" stroke-dasharray="0.6 2.2"/>
<path d="M82.9,735.1 L83.2,736.1 L83.3,737.5 L83.2,738.4 L83.6,739.2 L83.6,741.2 L83.8,741.5 L84.0,743.0 L84.0,744.0 L84.2,745.6 L84.3,747.4 L84.6,748.6 L84.6,749.1 L84.9,751.2 L85.2,751.6 L85.7,753.4 L85.9,755.1 L86.4,756.8 L86.3,754.8 L86.4,754.1 L86.7,753.4 L86.7,751.1 L86.7,750.1 L87.1,749.2 L87.1,748.2 L87.4,747.0 L87.5,745.5 L87.7,744.7 L88.0,742.6 L87.9,741.9 L88.3,740.8 L88.5,738.5 L88.9,737.6 L89.0,735.7 L89.4,734.0 L89.8,735.7 L90.3,737.8 L90.5,738.5 L90.8,737.5 L90.9,736.7 L91.1,735.2 L91.3,733.5 L91.3,732.4 L91.5,732.0 L91.8,730.5 L92.0,728.8 L92.3,726.7 L92.9,725.9 L93.2,727.6 L93.7,729.2 L93.8,730.5 L94.1,728.7 L94.4,727.4 L94.5,726.6 L94.7,724.8 L94.6,723.5 L94.8,722.6 L95.1,721.6 L95.2,719.7 L95.6,718.2 L95.7,716.7 L95.9,718.1 L95.8,719.6 L95.9,720.6 L96.0,722.0 L96.0,723.1 L96.1,725.3 L95.9,726.5 L96.1,727.0 L96.1,729.0 L96.1,729.9 L96.5,731.3 L96.3,733.3 L96.6,734.2 L96.8,735.3 L97.0,735.9 L97.0,737.1 L97.2,739.0" fill="none" stroke="#1f77b4" stroke-width="4.0" stroke-linejoin="round" stroke-linecap="round" stroke-opacity="1.0"/>
<path d="M97.1,738.2 L98.1,735.5 L98.1,736.1 L99.9,735.7 L100.4,736.2 L101.0,737.3 L102.3,737.2 L104.4,740.0 L104.7,736.4 L106.6,735.6 L106.6,737.6 L108.8,735.3 L109.8,736.8 L109.8,736.5 L112.0,739.3 L112.0,738.8 L113.8,738.8 L115.5,735.6 L115.8,736.8 L116.4,735.3 L118.8,736.5 L118.7,735.8 L120.1,737.5 L121.4,737.2 L122.7,737.2 L124.2,739.6 L124.2,734.5 L126.1,739.0 L127.3,736.6 L127.4,739.8 L129.1,737.8 L130.6,737.5 L131.6,737.8 L132.2,741.3 L133.3,742.5 L134.2,738.8 L135.9,738.2 L136.7,741.3 L138.2,741.0 L139.1,739.7 L139.9,739.0" fill="none" stroke="#1f77b4" stroke-width="11.0" stroke-linejoin="round" stroke-linecap="round" stroke-opacity="0.3"/>
<path d="M97.1,738.2 L98.1,735.5 L98.1,736.1 L99.9,735.7 L100.4,736.2 L101.0,737.3 L102.3,737.2 L104.4,740.0 L104.7,736.4 L106.6,735.6 L106.6,737.6 L108.8,735.3 L109.8,736.8 L109.8,736.5 L112.0,739.3 L112.0,738.8 L113.8,738.8 L115.5,735.6 L115.8,736.8 L116.4,735.3 L118.8,736.5 L118.7,735.8 L120.1,737.5 L121.4,737.2 L122.7,737.2 L124.2,739.6 L124.2,734.5 L126.1,739.0 L127.3,736.6 L127.4,739.8 L129.1,737.8 L130.6,737.5 L131.6,737.8 L132.2,741.3 L133.3,742.5 L134.2,738.8 L135.9,738.2 L136.7,741.3 L138.2,741.0 L139.1,739.7 L139.9,739.0" fill="none" stroke="#1f77b4" stroke-width="8.0" stroke-linejoin="round" stroke-linecap="round" stroke-opacity="1.0"/>
<path d="M140.0,739.4 L140.0,739.8 L140.2,741.9 L140.5,743.0 L140.6,744.5 L140.9,745.2 L140.8,746.0 L141.1,747.5 L141.3,746.0 L141.4,745.7 L141.4,743.9 L141.8,742.7 L141.9,741.3 L142.0,740.7 L142.1,739.0" fill="none" stroke="#1f77b4" stroke-width="4.0" stroke-linejoin="round" stroke-linecap="round" stroke-opacity="1.0"/>
<path d="M142.0,740.0 L143.3,740.4 L144.6,734.6 L146.1,736.0 L147.2,736.9 L146.6,741.5 L147.1,741.9 L147.4,744.3 L148.7,743.4" fill="none" stroke="#1f77b4" stroke-width="11.0" stroke-linejoin="round" stroke-linecap="round" stroke-opacity="0.3"/>
<path d="M142.0,740.0 L143.3,740.4 L144.6,734.6 L146.1,736.0 L147.2,736.9 L146.6,741.5 L147.1,741.9 L147.4,744.3 L148.7,743.4" fill="none" stroke="#1f77b4" stroke-width="8.0" stroke-linejoin="round" stroke-linecap="round" stroke-opacity="1.0"/>
<path d="M148.6,742.8 L149.1,744.9 L149.4,746.4 L149.8,747.7" fill="none" stroke="#1f77b4" stroke-width="4.0" stroke-linejoin="round" stroke-linecap="round" stroke-opacity="1.0"/>
<path d="M150.1,749.7 L150.7,747.1 L150.9,749.9" fill="none" stroke="#1f77b4" stroke-width="11.0" stroke-linejoin="round" stroke-linecap="round" stroke-opacity="0.3"/>
<path d="M150.1,749.7 L150.7,747.1 L150.9,749.9" fill="none" stroke="#1f77b4" stroke-width="8.0" stroke-linejoin="round" stroke-linecap="round" stroke-opacity="1.0"/>
<path d="M150.9,749.3 L151.0,748.2 L151.3,747.2 L151.3,746.5 L151.6,745.2 L151.8,744.2 L151.7,742.9 L152.0,741.2" fill="none" stroke="#1f77b4" stroke-width="4.0" stroke-linejoin="round" stroke-linecap="round" stroke-opacity="1.0"/>
<path d="M152.2,743.6 L152.1,739.3 L152.6,740.3 L154.1,737.3 L155.3,736.8" fill="none" stroke="#1f77b4" stroke-width="11.0" stroke-linejoin="round" stroke-linecap="round" stroke-opacity="0.3"/>
<path d="M152.2,743.6 L152.1,739.3 L152.6,740.3 L154.1,737.3 L155.3,736.8" fill="none" stroke="#1f77b4" stroke-width="8.0" stroke-linejoin="round" stroke-linecap="round" stroke-opacity="1.0"/>
<path d="M155.4,737.3 L155.5,735.5 L155.9,733.6 L156.2,732.3 L156.8,731.3 L156.9,730.0 L157.3,728.8 L157.2,727.9 L157.2,726.4 L157.5,725.1 L157.7,723.5 L157.7,722.9 L157.9,721.0 L158.0,720.5 L158.0,719.2 L158.1,717.6 L158.1,716.6 L158.2,715.1 L158.3,714.3 L158.7,712.7 L158.5,711.1 L158.6,710.0 L158.9,709.0 L159.2,707.5 L159.0,706.0 L159.4,705.0 L159.2,703.7 L159.6,703.3 L159.8,701.9 L159.7,700.5 L160.0,699.9 L160.1,698.6 L160.1,697.1 L160.4,695.4 L160.2,693.9 L160.3,693.7 L160.8,691.7 L160.7,690.8" fill="none" stroke="#1f77b4" stroke-width="4.0" stroke-linejoin="round" stroke-linecap="round" stroke-opacity="1.0"/>
<path d="M160.7,690.8 L161.4,679.8 L161.4,667.8 L161.8,690.8" fill="none" stroke="#1f77b4" stroke-width="3.5" stroke-opacity="0.35" stroke-linecap="round" stroke-dasharray="0.6 2.2"/>
<path d="M161.9,690.8 L161.9,691.8 L162.0,693.0 L161.9,694.0 L161.8,696.1 L162.0,697.0 L161.9,698.3 L161.9,699.4 L161.9,700.2 L162.1,702.1 L162.0,702.8 L162.0,704.4 L162.0,705.7 L162.1,706.6 L162.3,707.4 L162.3,708.9 L162.1,709.7 L162.2,711.0 L162.4,713.0 L162.4,713.6 L162.2,715.7 L162.2,716.4 L162.3,717.4 L162.4,718.8 L162.4,720.3 L162.6,721.7 L162.4,722.9 L162.5,723.7 L162.7,725.2 L162.6,725.9 L162.7,727.9 L162.6,729.0 L162.5,730.7 L162.7,732.0 L162.6,733.1 L162.9,734.0 L162.8,735.6 L162.8,736.2 L162.8,737.7 L162.9,739.3 L163.1,739.7 L163.1,742.1 L163.0,743.1 L163.1,744.4 L163.2,745.5 L163.2,746.4 L163.3,747.4 L163.2,748.7 L163.5,749.7 L163.3,751.6 L163.3,753.0 L163.5,754.2 L163.5,755.2 L163.4,756.6 L163.5,757.5 L163.8,759.6 L163.7,760.9 L163.9,761.8 L163.9,762.6 L164.0,764.8 L164.3,765.3 L164.3,766.7 L164.3,768.2 L164.5,769.6" fill="none" stroke="#1f77b4" stroke-width="4.0" stroke-linejoin="round" stroke-linecap="round" stroke-opacity="1.0"/>
<path d="M164.5,769.6 L164.5,791.5 L165.1,745.5" fill="none" stroke="#1f77b4" stroke-width="3.5" stroke-opacity="0.35" stroke-linecap="round" stroke-dasharray="0.6 2.2"/>
<path d="M165.2,745.0 L165.3,744.7 L165.4,742.7 L165.7,742.2 L165.9,739.9 L166.2,739.0" fill="none" stroke="#1f77b4" stroke-width="4.0" stroke-linejoin="round" stroke-linecap="round" stroke-opacity="1.0"/>
<path d="M166.9,739.4 L167.6,738.8 L168.0,740.2 L169.7,738.7 L170.8,737.3 L170.5,742.4 L172.3,741.8 L172.8,743.0 L172.2,743.9 L173.1,742.1 L174.2,740.6 L173.8,738.3 L174.3,741.3 L175.4,738.6 L177.4,735.8 L177.1,738.5 L177.5,740.2 L178.3,739.3 L179.5,743.1 L180.7,741.7 L181.7,739.9 L182.3,736.9 L183.6,737.4 L184.5,738.1 L185.1,738.3 L185.6,742.4 L185.6,740.6 L187.0,741.1 L187.6,737.6 L189.3,737.0 L190.8,734.3 L191.3,738.6 L192.2,740.8 L193.7,740.3 L194.9,739.5 L195.3,739.8 L197.6,739.5 L197.6,739.5 L199.7,738.9 L200.4,737.9 L201.6,737.4 L202.0,740.1 L203.9,741.1 L205.0,740.9 L205.2,738.5 L207.4,738.4 L208.3,741.9 L208.7,739.0 L209.8,737.0 L211.2,737.3 L212.0,739.1 L213.0,736.2 L214.4,734.6" fill="none" stroke="#1f77b4" stroke-width="11.0" stroke-linejoin="round" stroke-linecap="round" stroke-opacity="0.3"/>
<path d="M166.9,739.4 L167.6,738.8 L168.0,740.2 L169.7,738.7 L170.8,737.3 L170.5,742.4 L172.3,741.8 L172.8,743.0 L172.2,743.9 L173.1,742.1 L174.2,740.6 L173.8,738.3 L174.3,741.3 L175.4,738.6 L177.4,735.8 L177.1,738.5 L177.5,740.2 L178.3,739.3 L179.5,743.1 L180.7,741.7 L181.7,739.9 L182.3,736.9 L183.6,737.4 L184.5,738.1 L185.1,738.3 L185.6,742.4 L185.6,740.6 L187.0,741.1 L187.6,737.6 L189.3,737.0 L190.8,734.3 L191.3,738.6 L192.2,740.8 L193.7,740.3 L194.9,739.5 L195.3,739.8 L197.6,739.5 L197.6,739.5 L199.7,738.9 L200.4,737.9 L201.6,737.4 L202.0,740.1 L203.9,741.1 L205.0,740.9 L205.2,738.5 L207.4,738.4 L208.3,741.9 L208.7,739.0 L209.8,737.0 L211.2,737.3 L212.0,739.1 L213.0,736.2 L214.4,734.6" fill="none" stroke="#1f77b4" stroke-width="8.0" stroke-linejoin="round" stroke-linecap="round" stroke-opacity="1.0"/>
<path d="M214.4,734.4 L214.6,732.8 L215.1,731.7 L215.6,729.9 L215.6,731.2 L215.8,733.3 L216.0,733.7 L216.2,735.3 L216.4,736.2 L216.3,738.1 L216.4,738.6 L217.0,740.0 L217.3,742.0 L217.7,743.3 L217.9,742.0 L218.1,740.7 L218.1,739.1 L218.3,737.9 L218.5,737.6 L218.8,735.3 L218.8,734.1 L218.8,733.9 L219.1,731.5 L219.6,730.8 L219.6,729.0 L219.9,727.5 L220.4,726.9 L220.6,724.8 L220.9,723.8 L221.1,724.6 L221.4,725.8 L221.5,727.6 L222.0,729.0 L221.9,730.7 L222.0,731.1 L222.1,732.4 L222.3,734.6 L222.4,734.9 L222.5,736.9 L222.7,737.6 L222.6,738.6 L222.6,740.5 L222.7,741.5 L222.8,743.1 L223.0,744.3 L223.1,744.7 L223.2,746.0 L223.3,748.3 L223.6,749.0 L223.9,750.9 L224.3,751.8 L224.2,750.3 L224.5,749.0 L224.7,747.6 L224.6,747.4 L224.8,746.1 L224.8,744.2 L225.0,742.8 L225.2,741.8 L225.3,740.7 L225.3,739.0 L225.7,737.1 L225.9,736.6 L226.4,734.3 L226.9,736.2 L227.2,738.1 L227.4,738.8 L227.9,740.6 L228.1,742.0 L228.5,743.3 L229.1,742.2 L229.4,740.1 L229.7,739.0" fill="none" stroke="#1f77b4" stroke-width="4.0" stroke-linejoin="round" stroke-linecap="round" stroke-opacity="1.0"/>
<path d="M230.2,741.2 L230.5,738.7 L231.9,738.9 L233.0,741.2" fill="none" stroke="#1f77b4" stroke-width="11.0" stroke-linejoin="round" stroke-linecap="round" stroke-opacity="0.3"/>
<path d="M230.2,741.2 L230.5,738.7 L231.9,738.9 L233.0,741.2" fill="none" stroke="#1f77b4" stroke-width="8.0" stroke-linejoin="round" stroke-linecap="round" stroke-opacity="1.0"/>
</g>
<g class="an" font-size="10" fill="#1f77b4" color="#1f77b4"><text x="83.5" y="655.5">M1: MEAN 1.11</text><text x="111.0" y="666.0">STD 0.01</text></g>
<g class="an" font-size="10" fill="#d62728" color="#d62728"><text x="83.5" y="674.9">M7: MEAN 1.12</text><text x="111.0" y="685.4">STD 0.02</text></g>
<rect x="83.1" y="646.8" width="149.3" height="147.5" fill="none" stroke="#000" stroke-width="1.6"/>
<line x1="76.1" y1="646.8" x2="83.1" y2="646.8" stroke="#000" stroke-width="1.6"/>
<text x="68.9" y="654.3" font-size="20" text-anchor="end">1.30</text>
<line x1="76.1" y1="696.0" x2="83.1" y2="696.0" stroke="#000" stroke-width="1.6"/>
<text x="68.9" y="703.5" font-size="20" text-anchor="end">1.20</text>
<line x1="76.1" y1="745.1" x2="83.1" y2="745.1" stroke="#000" stroke-width="1.6"/>
<text x="68.9" y="752.6" font-size="20" text-anchor="end">1.10</text>
<line x1="76.1" y1="794.3" x2="83.1" y2="794.3" stroke="#000" stroke-width="1.6"/>
<text x="68.9" y="801.8" font-size="20" text-anchor="end">1.00</text>
<line x1="83.1" y1="794.3" x2="83.1" y2="801.3" stroke="#000" stroke-width="1.6"/>
<text x="83.1" y="823.6" font-size="20" text-anchor="middle">−20</text>
<line x1="120.4" y1="794.3" x2="120.4" y2="801.3" stroke="#000" stroke-width="1.6"/>
<text x="120.4" y="823.6" font-size="20" text-anchor="middle">−10</text>
<line x1="157.8" y1="794.3" x2="157.8" y2="801.3" stroke="#000" stroke-width="1.6"/>
<text x="157.8" y="823.6" font-size="20" text-anchor="middle">0</text>
<line x1="195.1" y1="794.3" x2="195.1" y2="801.3" stroke="#000" stroke-width="1.6"/>
<text x="195.1" y="823.6" font-size="20" text-anchor="middle">10</text>
<line x1="232.4" y1="794.3" x2="232.4" y2="801.3" stroke="#000" stroke-width="1.6"/>
<text x="232.4" y="823.6" font-size="20" text-anchor="middle">20</text>
<text x="157.8" y="634.9" font-size="20.3" text-anchor="middle">Solar Panels (SP)</text>
<clipPath id="c31"><rect x="304.2" y="646.8" width="149.3" height="147.5"/></clipPath>
<rect x="335.1" y="646.8" width="87.7" height="147.5" fill="#e5e5e5" stroke="#d3d3d3" stroke-width="1.6"/>
<g clip-path="url(#c31)">
<path d="M321.8,712.0 L322.5,712.8 L322.2,711.7 L322.9,711.3 L323.4,712.2 L323.5,714.7 L324.7,715.1 L324.7,712.7 L324.8,714.9 L325.2,716.1 L325.7,716.1 L326.4,716.7 L326.7,716.1 L326.7,712.9 L326.9,713.3 L326.9,711.2 L327.1,710.0 L327.3,708.7 L327.7,708.2 L328.1,705.6 L328.1,703.7 L328.8,702.5 L329.5,701.9 L329.3,702.6 L329.7,703.9 L329.7,706.8 L330.0,706.9 L330.2,707.8 L329.5,708.8 L330.3,710.1 L329.9,711.1 L330.2,712.9 L330.0,714.2 L330.2,715.6 L330.3,716.8 L330.9,719.0 L330.5,719.4 L330.5,719.6 L331.2,721.9 L330.7,723.9 L331.0,723.8 L331.5,725.6 L331.1,723.6 L331.3,722.3 L331.8,721.3 L331.9,719.3 L331.7,719.4 L332.5,718.9 L332.7,716.8 L333.3,716.1 L333.8,715.9 L334.3,714.8 L334.7,718.3 L334.3,719.6 L335.2,720.2 L335.4,720.7 L335.8,724.4 L336.7,721.3 L336.6,722.3 L337.8,721.3 L337.6,719.2 L338.1,717.0 L339.1,717.8 L340.2,718.2 L341.2,719.4 L341.9,716.6 L343.6,716.4 L344.2,716.7 L345.5,715.8 L346.7,714.0 L348.0,713.9 L348.2,713.4 L349.2,714.7 L349.5,714.7 L350.4,710.5 L350.7,711.1 L351.7,710.9 L352.6,711.9 L352.3,714.0 L353.4,714.2 L353.5,715.2 L354.7,712.3 L355.2,710.3 L356.5,710.1 L357.5,708.2 L358.7,707.9 L359.1,706.4 L359.6,706.4 L359.8,706.3 L360.7,708.1 L360.4,711.0 L360.9,709.8 L361.0,713.3 L361.8,712.3 L361.3,709.6 L362.5,707.3 L362.0,708.1 L362.5,706.2 L362.8,704.7 L363.2,705.2 L363.9,708.1 L363.8,707.3 L364.4,707.2 L364.9,705.3 L365.1,703.7 L364.8,702.5 L365.0,701.1 L365.5,700.4 L366.1,700.5 L366.3,698.5 L366.3,696.7 L366.5,694.6 L366.9,694.6 L366.6,691.7 L366.8,692.6 L367.2,691.4 L367.1,688.9 L366.5,688.6 L367.1,686.5 L367.2,685.1 L367.5,685.0 L367.0,683.8 L367.1,682.3 L367.3,679.9 L367.5,679.7 L367.0,678.5 L367.0,677.0 L367.4,674.0 L367.8,677.3 L367.8,677.8 L367.5,678.9 L367.6,680.2 L368.0,682.6 L367.8,683.6 L368.0,684.9 L368.0,681.8 L368.3,679.8 L368.6,678.3 L369.0,679.9 L369.6,682.5 L369.5,683.9 L369.9,683.8 L369.2,686.3 L369.9,688.9 L370.2,688.0 L371.2,691.9 L371.1,693.0 L371.2,692.6 L370.8,693.6 L371.6,697.3 L371.2,698.1 L371.8,699.2 L371.4,701.1 L371.4,700.4 L372.1,702.4 L372.2,704.2 L371.6,706.7 L372.2,706.4 L372.3,709.0 L372.2,709.2 L372.4,711.7 L372.6,711.6 L373.2,713.0 L372.9,715.6 L373.3,716.9 L374.5,718.4 L374.7,714.4 L374.8,713.2 L375.0,711.4 L375.4,711.6 L375.4,711.6 L375.8,709.8 L375.1,707.8 L375.9,705.1 L375.4,704.5 L376.0,705.1 L375.5,700.9 L376.4,700.3 L375.9,698.9 L375.8,699.0 L376.3,696.9 L376.5,696.9 L377.7,693.8 L377.9,694.9 L378.1,697.1 L377.7,698.6 L378.6,700.9 L378.6,703.3 L378.6,704.5 L378.9,704.2 L379.4,707.4 L379.8,706.7 L380.5,707.6 L380.8,711.3 L381.8,712.8 L381.3,712.3 L382.4,712.6 L382.7,708.3 L382.4,706.9 L383.0,708.6 L383.6,707.0 L383.9,703.8 L384.0,702.8 L384.0,702.8 L383.9,703.8 L384.5,705.1 L384.6,707.5 L385.0,705.1 L385.8,703.6 L385.4,701.3 L386.0,699.8 L386.0,701.0 L386.4,697.3 L386.9,698.1 L387.2,698.9 L388.0,698.9 L388.3,703.1 L388.7,703.7 L388.4,705.6 L389.0,706.2 L389.5,707.8 L389.7,708.2 L389.6,708.1 L390.1,706.1 L391.1,703.8 L392.0,703.0 L392.1,703.4 L392.4,700.9 L392.7,699.9 L393.1,699.4 L393.3,696.4 L393.4,694.7 L394.5,696.9 L395.2,696.6 L395.5,699.2 L395.7,700.6 L395.4,700.6 L396.0,701.6 L395.8,703.6 L396.4,706.0 L396.8,706.4 L397.5,703.3 L398.2,702.9 L398.4,700.8 L398.9,701.5 L398.8,700.9 L399.2,701.0 L399.5,701.3 L400.2,704.9 L399.8,703.5 L400.4,706.9 L400.9,706.9 L401.1,708.2 L402.0,710.8 L401.8,710.5 L402.7,713.0 L403.5,712.3 L403.8,714.5 L403.6,713.2 L404.1,713.1 L404.3,711.3 L405.2,710.2 L405.4,707.9 L405.4,707.3 L405.7,706.6 L405.3,703.0 L405.4,704.4 L405.7,701.3 L406.4,701.7 L406.0,700.8 L406.3,697.5 L406.5,698.0 L407.0,695.9 L406.5,693.2 L406.6,692.3 L407.2,691.3 L407.5,689.3 L407.7,689.4 L408.4,689.9 L409.1,691.3 L409.6,693.0 L409.2,693.8 L409.6,693.6 L410.4,696.1 L409.9,697.2 L411.1,696.7 L411.2,694.2 L411.3,697.6 L412.5,699.2 L412.1,699.7 L412.8,697.5 L413.2,698.2 L413.8,696.2 L414.0,695.8 L414.4,691.5 L414.7,691.6 L415.2,688.5 L417.0,690.8 L417.0,692.3 L417.2,694.3 L418.3,693.6 L418.2,695.7 L418.7,696.6 L419.0,699.0 L419.4,699.5 L419.4,701.9 L420.3,703.5 L420.2,705.2 L421.1,707.4 L421.2,707.0 L421.6,710.0 L421.9,711.1 L422.1,713.7 L422.7,714.5 L422.7,713.6 L422.3,716.1 L423.2,719.1 L422.6,720.4 L423.6,721.1 L423.0,720.3 L424.0,722.1 L424.1,723.3 L424.6,723.2 L425.5,721.5" fill="none" stroke="#d62728" stroke-width="3.6" stroke-linejoin="round" stroke-linecap="round" stroke-opacity="1.0"/>
<path d="M304.2,719.2 L304.5,717.0 L304.8,718.1 L304.6,715.2 L304.4,715.2 L304.8,712.7 L305.4,710.5 L305.4,708.9 L305.7,711.3 L305.6,711.9 L305.2,713.9 L305.2,716.2 L306.1,715.9 L306.2,716.2 L306.5,718.0 L306.3,719.5 L305.9,722.2 L306.6,720.6 L306.1,717.3 L306.6,718.8 L307.2,718.1 L306.7,714.8 L306.6,712.9 L307.1,713.5 L307.5,710.7 L306.7,710.1 L307.0,707.3 L307.5,711.3 L307.9,710.4 L308.0,710.2 L307.9,714.8 L307.6,712.9 L308.4,714.5 L308.3,717.2 L308.5,716.6 L308.7,715.6 L310.0,711.3 L309.8,714.5 L310.8,713.0 L311.2,712.3 L312.1,713.4 L311.8,715.3 L311.9,716.2 L312.9,718.9 L313.0,717.3 L314.4,718.5 L314.7,716.0 L314.9,714.7 L314.7,713.4 L314.9,715.2 L315.8,716.4 L315.3,720.8 L316.0,718.6 L316.4,720.1 L315.9,723.9 L315.8,724.9 L316.0,725.9 L316.8,726.5 L316.8,727.6 L316.4,728.3 L317.3,728.5 L317.7,729.6 L317.8,727.2 L317.6,727.6 L318.1,724.0 L318.3,723.9 L318.3,723.6 L318.9,722.0 L318.9,718.1 L320.2,718.3 L320.2,718.5 L320.5,715.0 L321.4,714.3 L321.6,714.7 L322.3,714.5 L322.6,715.4 L323.2,716.7 L323.8,715.9 L324.3,715.8 L325.0,713.6 L324.9,717.1 L325.7,717.6 L326.5,717.4 L325.9,715.3 L327.0,713.8 L326.6,712.4 L327.2,712.1 L326.9,709.7 L327.8,707.1 L328.6,704.6 L328.7,705.8 L328.1,710.0 L329.2,709.9 L328.6,710.8 L328.7,711.9 L329.6,709.6 L330.4,711.6 L330.3,707.7 L330.9,708.8 L331.1,710.4 L331.3,714.1 L330.5,712.7 L331.0,713.5 L331.8,716.8 L331.1,716.9 L331.2,716.7 L332.6,715.6 L332.1,714.6 L333.1,712.8 L332.6,716.0 L332.9,716.6 L333.6,716.7 L334.1,719.1 L334.4,718.9 L334.2,715.4 L335.5,714.7 L335.4,714.8 L336.5,717.6 L337.2,717.0 L337.6,717.9 L338.3,718.8 L338.5,716.7 L339.3,718.4 L340.7,716.6 L341.6,716.2 L341.6,714.4 L341.8,716.1 L343.7,716.6 L345.0,716.5 L344.5,716.2 L345.6,716.9 L346.1,715.1 L346.8,714.3 L346.7,715.5 L348.2,715.3 L348.4,715.3 L350.2,715.2 L349.9,716.7 L351.0,720.6 L351.2,721.7 L352.1,721.4 L352.7,724.1 L353.1,726.8 L352.9,727.7 L353.1,726.8 L353.6,730.6 L354.4,732.1 L355.2,728.9 L354.3,725.6 L354.9,726.6 L355.1,725.5 L355.1,722.7 L355.6,724.0 L356.0,719.2 L356.7,720.1 L356.7,719.8 L357.2,715.4 L358.6,716.6 L357.9,712.6 L359.0,711.3 L358.7,709.3 L359.5,710.6 L360.1,706.7 L360.4,711.3 L361.2,710.2 L361.1,711.1 L361.3,707.0 L361.1,705.0 L361.0,704.4 L361.8,704.0 L362.2,702.0 L362.2,703.4 L362.5,701.5 L361.9,700.2 L362.6,701.8 L363.4,701.5 L364.2,701.1 L364.7,704.9 L363.9,704.2 L364.9,705.6 L364.7,709.1 L365.7,709.9 L365.2,709.4 L365.2,710.4 L365.7,707.7 L366.3,705.8 L366.9,707.5 L367.4,707.1 L367.0,709.9 L367.5,709.6 L367.2,710.8 L367.5,715.8 L368.7,716.7 L368.9,715.5 L370.1,718.6 L370.7,716.7 L370.8,718.5 L371.0,720.3 L371.5,722.7 L371.5,723.0 L372.2,726.3 L372.8,728.2 L372.9,730.4 L372.9,729.0 L372.7,732.0 L373.2,730.8 L373.4,732.1 L373.3,734.8 L374.2,736.2 L374.5,739.4 L374.1,738.0 L374.5,738.3 L374.4,737.2 L375.5,733.8 L375.3,733.3 L375.5,730.7 L376.6,731.7 L376.2,729.5 L376.9,728.1 L376.7,725.6 L376.6,726.8 L377.6,723.6 L377.7,721.2 L377.4,721.5" fill="none" stroke="#1f77b4" stroke-width="3.8" stroke-linejoin="round" stroke-linecap="round" stroke-opacity="1.0"/>
<path d="M377.4,721.5 L378.0,701.7 L378.5,686.4 L379.1,708.3 L379.8,723.6 L380.2,734.6 L380.6,756.5" fill="none" stroke="#1f77b4" stroke-width="3.0" stroke-opacity="0.35" stroke-linecap="round" stroke-dasharray="0.6 2.2"/>
<path d="M380.7,758.3 L380.3,756.0 L381.3,757.4 L381.1,760.6 L380.8,763.4 L381.0,761.1 L380.7,763.8 L381.3,766.5 L381.2,769.0 L380.7,768.2 L381.6,771.5 L381.1,771.2 L381.9,773.8 L382.0,771.9 L381.4,774.4 L381.4,776.9 L381.4,776.2 L381.7,780.0 L381.0,778.8 L381.7,781.9 L381.6,782.1 L382.2,784.4 L381.7,785.0" fill="none" stroke="#1f77b4" stroke-width="3.8" stroke-linejoin="round" stroke-linecap="round" stroke-opacity="1.0"/>
<path d="M381.7,785.0 L382.2,760.9 L382.8,739.0" fill="none" stroke="#1f77b4" stroke-width="3.0" stroke-opacity="0.35" stroke-linecap="round" stroke-dasharray="0.6 2.2"/>
<path d="M382.3,739.2 L382.8,739.2 L383.5,736.7 L383.2,735.8 L383.7,734.3 L384.0,731.7 L383.4,731.5 L384.0,730.1 L384.2,728.6 L384.0,727.8 L383.9,726.9 L385.1,723.2 L384.5,725.9 L384.3,721.9 L385.5,720.9 L385.6,722.7 L385.9,724.7 L386.2,722.9 L387.5,724.2 L387.0,722.6 L387.6,723.6 L388.0,721.1 L387.6,722.2 L388.8,720.1 L389.3,717.1 L389.3,715.1 L389.0,716.0 L389.8,714.1 L390.1,717.1 L391.2,715.9 L391.6,715.1 L391.0,712.6 L392.3,714.7 L392.2,715.1 L393.0,717.8 L392.7,714.5 L393.2,712.6 L394.0,714.6 L394.1,709.5 L394.2,710.1 L394.5,709.8 L394.9,710.7 L396.5,711.9 L396.5,709.8 L397.6,712.6 L398.0,709.3 L397.3,711.1 L398.3,709.6 L399.3,710.8 L398.7,710.2 L399.8,711.3 L400.5,712.1 L401.4,713.5 L401.4,715.4 L402.0,716.5 L403.1,717.7 L403.1,719.3 L403.4,720.6 L403.2,720.1 L404.4,718.5 L405.1,719.0 L405.3,716.1 L405.5,714.4 L406.0,714.9 L405.6,712.4 L406.6,712.8 L406.5,711.1 L406.8,709.8 L407.4,707.4 L408.0,704.9 L407.9,704.7 L408.9,701.9 L409.4,702.9 L409.2,702.4 L409.8,702.6 L411.1,707.1 L410.9,707.6 L411.5,707.9 L412.1,708.2 L412.3,706.5 L412.7,705.0 L412.8,706.3 L413.8,707.8 L413.8,705.4 L414.8,703.4 L414.8,703.0 L414.6,702.2 L415.7,704.8 L416.5,705.2 L416.6,705.2 L416.4,706.4 L416.8,708.1 L418.4,704.2 L418.0,707.9 L418.0,707.2 L418.6,708.1 L418.9,712.7 L419.4,713.4 L419.1,712.6 L419.6,716.3 L419.8,713.0 L420.9,714.0 L420.3,712.1 L421.1,708.5 L421.6,707.7 L420.9,710.3 L422.2,709.6 L422.7,712.2 L422.9,715.6 L422.5,716.1 L422.5,716.1 L423.3,717.2 L422.5,718.9 L423.7,721.6 L423.6,723.4 L423.9,723.9 L423.6,723.6 L424.3,724.8 L423.6,726.1 L424.1,728.2 L424.6,729.1 L424.5,728.9 L425.3,730.9 L425.3,732.1 L425.0,733.8 L425.4,735.2 L425.2,733.7 L426.5,732.5 L426.0,729.9 L426.4,727.1 L426.7,726.1 L426.0,724.2 L426.3,726.4 L426.8,725.5 L426.7,722.2 L426.4,720.6 L427.1,719.6 L426.8,719.1 L427.5,718.8 L427.8,716.9 L427.8,714.7 L427.7,713.5 L427.5,712.0 L428.3,713.2 L428.0,708.5 L428.3,707.0 L429.4,706.9 L430.2,704.9 L430.7,703.2 L431.1,704.1 L431.7,703.1 L433.0,700.7 L434.6,700.8 L435.9,698.8 L436.0,702.6 L437.2,701.1 L436.8,706.1 L437.7,704.1 L437.3,707.1 L437.1,707.4 L438.3,709.2 L438.1,711.8 L438.7,711.8 L438.8,713.0 L438.6,713.6 L439.5,714.5 L439.2,719.1 L439.8,717.1 L439.1,719.4 L440.3,720.3 L440.0,723.2 L440.3,722.2 L440.3,724.1 L440.6,725.4 L440.6,727.8 L441.2,729.7 L441.3,730.7 L442.6,732.5 L442.1,731.6 L441.9,728.2 L442.7,726.6 L443.1,725.4 L442.6,724.2 L443.5,725.0 L442.8,725.0 L444.0,722.5 L443.8,720.3 L443.5,719.6 L444.3,717.6 L444.3,718.6 L444.1,715.1 L444.7,716.0 L444.9,711.9 L445.4,713.7 L446.8,715.2 L447.2,716.2 L447.1,718.7 L447.7,719.0 L448.2,719.8 L448.2,724.0 L448.7,721.8 L449.0,723.9 L449.8,720.7 L449.4,718.4 L449.6,718.5 L450.3,716.3 L451.0,714.1 L451.7,715.1 L452.9,712.7 L453.6,713.1 L454.0,710.5" fill="none" stroke="#1f77b4" stroke-width="3.8" stroke-linejoin="round" stroke-linecap="round" stroke-opacity="1.0"/>
</g>
<g class="an" font-size="10" fill="#1f77b4" color="#1f77b4"><text x="304.6" y="655.5">M1: MEAN 1.15</text><text x="332.1" y="666.0">STD 0.41</text></g>
<g class="an" font-size="10" fill="#d62728" color="#d62728"><text x="304.6" y="674.9">M7: MEAN 1.44</text><text x="332.1" y="685.4">STD 0.38</text></g>
<rect x="304.2" y="646.8" width="149.3" height="147.5" fill="none" stroke="#000" stroke-width="1.6"/>
<line x1="297.2" y1="646.8" x2="304.2" y2="646.8" stroke="#000" stroke-width="1.6"/>
<text x="290.0" y="654.3" font-size="20" text-anchor="end">4.00</text>
<line x1="297.2" y1="671.4" x2="304.2" y2="671.4" stroke="#000" stroke-width="1.6"/>
<text x="290.0" y="678.9" font-size="20" text-anchor="end">3.00</text>
<line x1="297.2" y1="696.0" x2="304.2" y2="696.0" stroke="#000" stroke-width="1.6"/>
<text x="290.0" y="703.5" font-size="20" text-anchor="end">2.00</text>
<line x1="297.2" y1="720.6" x2="304.2" y2="720.6" stroke="#000" stroke-width="1.6"/>
<text x="290.0" y="728.1" font-size="20" text-anchor="end">1.00</text>
<line x1="297.2" y1="745.1" x2="304.2" y2="745.1" stroke="#000" stroke-width="1.6"/>
<text x="290.0" y="752.6" font-size="20" text-anchor="end">0.00</text>
<line x1="297.2" y1="769.7" x2="304.2" y2="769.7" stroke="#000" stroke-width="1.6"/>
<text x="290.0" y="777.2" font-size="20" text-anchor="end">-1.00</text>
<line x1="297.2" y1="794.3" x2="304.2" y2="794.3" stroke="#000" stroke-width="1.6"/>
<text x="290.0" y="801.8" font-size="20" text-anchor="end">-2.00</text>
<line x1="304.2" y1="794.3" x2="304.2" y2="801.3" stroke="#000" stroke-width="1.6"/>
<text x="304.2" y="823.6" font-size="20" text-anchor="middle">−20</text>
<line x1="341.5" y1="794.3" x2="341.5" y2="801.3" stroke="#000" stroke-width="1.6"/>
<text x="341.5" y="823.6" font-size="20" text-anchor="middle">−10</text>
<line x1="378.9" y1="794.3" x2="378.9" y2="801.3" stroke="#000" stroke-width="1.6"/>
<text x="378.9" y="823.6" font-size="20" text-anchor="middle">0</text>
<line x1="416.2" y1="794.3" x2="416.2" y2="801.3" stroke="#000" stroke-width="1.6"/>
<text x="416.2" y="823.6" font-size="20" text-anchor="middle">10</text>
<line x1="453.5" y1="794.3" x2="453.5" y2="801.3" stroke="#000" stroke-width="1.6"/>
<text x="453.5" y="823.6" font-size="20" text-anchor="middle">20</text>
<text x="378.9" y="634.9" font-size="20.3" text-anchor="middle">SP Rotation Lag</text>
<text transform="translate(18.6,103.0) rotate(-90)" font-size="20" text-anchor="middle" textLength="114" lengthAdjust="spacingAndGlyphs"><tspan font-style="italic">Acc</tspan> (<tspan font-style="italic">nm/s</tspan><tspan font-size="14" dy="-8">2</tspan><tspan dy="8">)</tspan></text>
<text transform="translate(19.6,308.5) rotate(-90)" font-size="20" text-anchor="middle" textLength="106" lengthAdjust="spacingAndGlyphs"><tspan font-style="italic">Coefficient</tspan></text>
<text transform="translate(19.6,514.8) rotate(-90)" font-size="20" text-anchor="middle" textLength="106" lengthAdjust="spacingAndGlyphs"><tspan font-style="italic">Coefficient</tspan></text>
<text transform="translate(17.8,721.1) rotate(-90)" font-size="20" text-anchor="middle" textLength="136" lengthAdjust="spacingAndGlyphs"><tspan font-style="italic">Scaling factor</tspan></text>
<text transform="translate(245.6,721.0) rotate(-90)" font-size="20" text-anchor="middle" textLength="40" lengthAdjust="spacingAndGlyphs"><tspan font-style="italic">Deg</tspan></text>
<text x="378.9" y="852" font-size="21.5" font-style="italic" text-anchor="middle">β</text>
<rect x="565" y="730.7" width="100.3" height="62.4" rx="3.5" fill="#fff" fill-opacity="0.8" stroke="#cccccc" stroke-width="1.5"/>
<rect x="572" y="738" width="42" height="16" fill="#1f77b4"/>
<rect x="572" y="767" width="42" height="16" fill="#d62728"/>
<text x="629.6" y="754" font-size="20.5">M1</text>
<text x="629.6" y="782.3" font-size="20.5">M7</text>
</svg></body></html>
